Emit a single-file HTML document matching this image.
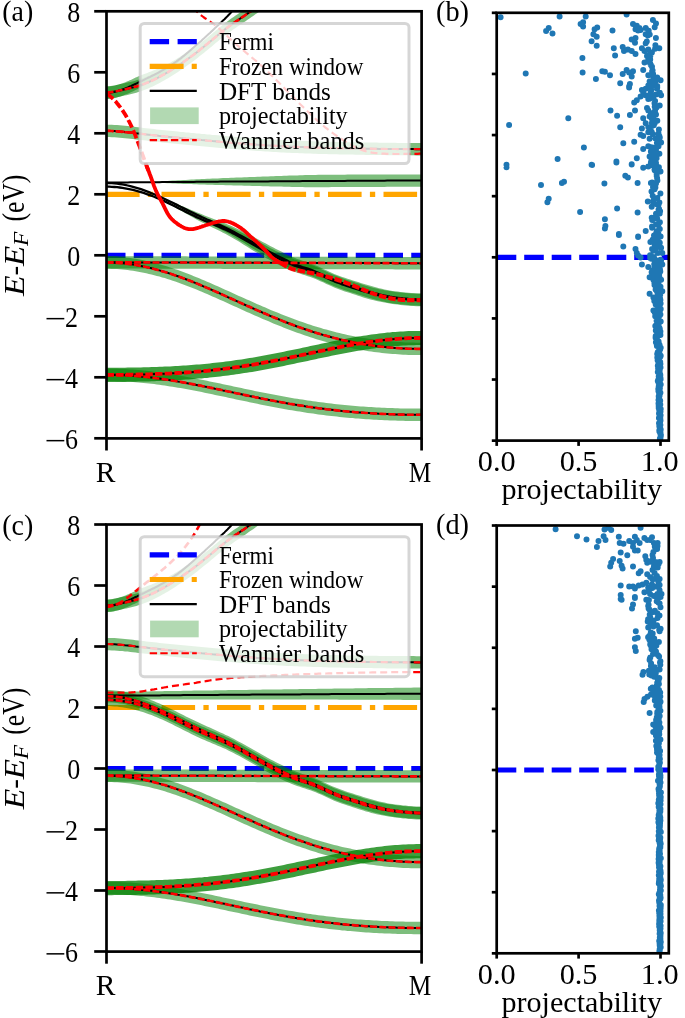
<!DOCTYPE html><html><head><meta charset="utf-8"><style>html,body{margin:0;padding:0;background:#fff;}svg{display:block;will-change:transform}.tk{font-family:"Liberation Serif",serif;font-size:28px;fill:#000}.ty{font-family:"Liberation Serif",serif;font-size:29.6px;fill:#000}.tl{font-family:"Liberation Serif",serif;font-size:29.5px;fill:#000}.lg{font-family:"Liberation Serif",serif;font-size:24.5px;fill:#000}.yl{font-family:"Liberation Serif",serif;font-size:29.5px;fill:#000}</style></head><body>
<svg width="685" height="1018" viewBox="0 0 685 1018">
<defs>
<clipPath id="clipA"><rect x="106.5" y="11.3" width="315.1" height="427.1"/></clipPath>
<clipPath id="clipC"><rect x="106.5" y="524.50" width="315.1" height="427.1"/></clipPath>
<clipPath id="clipB"><rect x="496.7" y="12.8" width="172.1" height="427.8"/></clipPath>
<clipPath id="clipD"><rect x="496.7" y="525.50" width="172.1" height="427.8"/></clipPath>
</defs>
<rect width="685" height="1018" fill="#fff"/>
<g clip-path="url(#clipA)"><line x1="106.00" y1="255.30" x2="421.60" y2="255.30" stroke="#0000ff" stroke-width="5.2" stroke-dasharray="19.5 8.25"/><line x1="106.00" y1="194.30" x2="421.60" y2="194.30" stroke="#ffa500" stroke-width="5.2" stroke-dasharray="33.6 8.3 5.3 8.3"/><polygon points="106.5,256.1 109.1,256.1 111.8,256.1 114.4,256.1 117.1,256.1 119.7,256.2 122.4,256.2 125.0,256.2 127.7,256.2 130.3,256.2 133.0,256.2 135.6,256.2 138.3,256.2 140.9,256.2 143.6,256.2 146.2,256.2 148.9,256.2 151.5,256.2 154.2,256.3 156.8,256.3 159.5,256.3 162.1,256.3 164.8,256.3 167.4,256.3 170.0,256.3 172.7,256.3 175.3,256.3 178.0,256.3 180.6,256.3 183.3,256.3 185.9,256.3 188.6,256.4 191.2,256.4 193.9,256.4 196.5,256.4 199.2,256.4 201.8,256.4 204.5,256.4 207.1,256.4 209.8,256.4 212.4,256.4 215.1,256.4 217.7,256.4 220.4,256.4 223.0,256.5 225.7,256.5 228.3,256.5 231.0,256.5 233.6,256.5 236.2,256.5 238.9,256.5 241.5,256.5 244.2,256.5 246.8,256.5 249.5,256.5 252.1,256.5 254.8,256.5 257.4,256.6 260.1,256.6 262.7,256.6 265.4,256.6 268.0,256.6 270.7,256.6 273.3,256.6 276.0,256.6 278.6,256.6 281.3,256.6 283.9,256.6 286.6,256.6 289.2,256.6 291.9,256.7 294.5,256.7 297.1,256.7 299.8,256.7 302.4,256.7 305.1,256.7 307.7,256.7 310.4,256.7 313.0,256.7 315.7,256.7 318.3,256.7 321.0,256.7 323.6,256.7 326.3,256.8 328.9,256.8 331.6,256.8 334.2,256.8 336.9,256.8 339.5,256.8 342.2,256.8 344.8,256.8 347.5,256.8 350.1,256.8 352.8,256.8 355.4,256.8 358.1,256.8 360.7,256.9 363.3,256.9 366.0,256.9 368.6,256.9 371.3,256.9 373.9,256.9 376.6,256.9 379.2,256.9 381.9,256.9 384.5,256.9 387.2,256.9 389.8,256.9 392.5,256.9 395.1,257.0 397.8,257.0 400.4,257.0 403.1,257.0 405.7,257.0 408.4,257.0 411.0,257.0 413.7,257.0 416.3,257.0 419.0,257.0 421.6,257.0 421.6,269.4 419.0,269.4 416.3,269.4 413.7,269.4 411.0,269.4 408.4,269.4 405.7,269.4 403.1,269.4 400.4,269.4 397.8,269.4 395.1,269.4 392.5,269.3 389.8,269.3 387.2,269.3 384.5,269.3 381.9,269.3 379.2,269.3 376.6,269.3 373.9,269.3 371.3,269.3 368.6,269.3 366.0,269.3 363.3,269.3 360.7,269.3 358.1,269.2 355.4,269.2 352.8,269.2 350.1,269.2 347.5,269.2 344.8,269.2 342.2,269.2 339.5,269.2 336.9,269.2 334.2,269.2 331.6,269.2 328.9,269.2 326.3,269.2 323.6,269.1 321.0,269.1 318.3,269.1 315.7,269.1 313.0,269.1 310.4,269.1 307.7,269.1 305.1,269.1 302.4,269.1 299.8,269.1 297.1,269.1 294.5,269.1 291.9,269.1 289.2,269.0 286.6,269.0 283.9,269.0 281.3,269.0 278.6,269.0 276.0,269.0 273.3,269.0 270.7,269.0 268.0,269.0 265.4,269.0 262.7,269.0 260.1,269.0 257.4,269.0 254.8,268.9 252.1,268.9 249.5,268.9 246.8,268.9 244.2,268.9 241.5,268.9 238.9,268.9 236.2,268.9 233.6,268.9 231.0,268.9 228.3,268.9 225.7,268.9 223.0,268.9 220.4,268.8 217.7,268.8 215.1,268.8 212.4,268.8 209.8,268.8 207.1,268.8 204.5,268.8 201.8,268.8 199.2,268.8 196.5,268.8 193.9,268.8 191.2,268.8 188.6,268.8 185.9,268.7 183.3,268.7 180.6,268.7 178.0,268.7 175.3,268.7 172.7,268.7 170.0,268.7 167.4,268.7 164.8,268.7 162.1,268.7 159.5,268.7 156.8,268.7 154.2,268.7 151.5,268.6 148.9,268.6 146.2,268.6 143.6,268.6 140.9,268.6 138.3,268.6 135.6,268.6 133.0,268.6 130.3,268.6 127.7,268.6 125.0,268.6 122.4,268.6 119.7,268.6 117.1,268.5 114.4,268.5 111.8,268.5 109.1,268.5 106.5,268.5" fill="#008000" fill-opacity="0.510"/><polygon points="106.5,256.4 109.1,256.4 111.8,256.5 114.4,256.6 117.1,256.7 119.7,256.9 122.4,257.1 125.0,257.4 127.7,257.7 130.3,258.0 133.0,258.4 135.6,258.8 138.3,259.3 140.9,259.8 143.6,260.3 146.2,260.9 148.9,261.5 151.5,262.1 154.2,262.8 156.8,263.5 159.5,264.2 162.1,265.0 164.8,265.7 167.4,266.6 170.0,267.4 172.7,268.3 175.3,269.2 178.0,270.1 180.6,271.1 183.3,272.1 185.9,273.0 188.6,274.1 191.2,275.1 193.9,276.2 196.5,277.2 199.2,278.3 201.8,279.4 204.5,280.6 207.1,281.7 209.8,282.8 212.4,284.0 215.1,285.2 217.7,286.3 220.4,287.5 223.0,288.7 225.7,289.9 228.3,291.1 231.0,292.3 233.6,293.5 236.2,294.7 238.9,295.9 241.5,297.1 244.2,298.3 246.8,299.5 249.5,300.6 252.1,301.8 254.8,303.0 257.4,304.2 260.1,305.3 262.7,306.5 265.4,307.6 268.0,308.7 270.7,309.9 273.3,311.0 276.0,312.1 278.6,313.1 281.3,314.2 283.9,315.3 286.6,316.3 289.2,317.3 291.9,318.3 294.5,319.3 297.1,320.3 299.8,321.2 302.4,322.1 305.1,323.0 307.7,323.9 310.4,324.8 313.0,325.7 315.7,326.5 318.3,327.3 321.0,328.1 323.6,328.9 326.3,329.6 328.9,330.3 331.6,331.1 334.2,331.7 336.9,332.4 339.5,333.1 342.2,333.7 344.8,334.3 347.5,334.9 350.1,335.4 352.8,336.0 355.4,336.5 358.1,337.0 360.7,337.5 363.3,337.9 366.0,338.3 368.6,338.8 371.3,339.1 373.9,339.5 376.6,339.9 379.2,340.2 381.9,340.5 384.5,340.8 387.2,341.1 389.8,341.3 392.5,341.5 395.1,341.7 397.8,341.9 400.4,342.1 403.1,342.3 405.7,342.4 408.4,342.5 411.0,342.6 413.7,342.6 416.3,342.7 419.0,342.7 421.6,342.7 421.6,355.1 419.0,355.1 416.3,355.1 413.7,355.0 411.0,355.0 408.4,354.9 405.7,354.8 403.1,354.7 400.4,354.5 397.8,354.3 395.1,354.1 392.5,353.9 389.8,353.7 387.2,353.5 384.5,353.2 381.9,352.9 379.2,352.6 376.6,352.3 373.9,351.9 371.3,351.5 368.6,351.2 366.0,350.7 363.3,350.3 360.7,349.9 358.1,349.4 355.4,348.9 352.8,348.4 350.1,347.8 347.5,347.3 344.8,346.7 342.2,346.1 339.5,345.5 336.9,344.8 334.2,344.1 331.6,343.5 328.9,342.7 326.3,342.0 323.6,341.3 321.0,340.5 318.3,339.7 315.7,338.9 313.0,338.1 310.4,337.2 307.7,336.3 305.1,335.4 302.4,334.5 299.8,333.6 297.1,332.7 294.5,331.7 291.9,330.7 289.2,329.7 286.6,328.7 283.9,327.7 281.3,326.6 278.6,325.5 276.0,324.5 273.3,323.4 270.7,322.3 268.0,321.1 265.4,320.0 262.7,318.9 260.1,317.7 257.4,316.6 254.8,315.4 252.1,314.2 249.5,313.0 246.8,311.9 244.2,310.7 241.5,309.5 238.9,308.3 236.2,307.1 233.6,305.9 231.0,304.7 228.3,303.5 225.7,302.3 223.0,301.1 220.4,299.9 217.7,298.7 215.1,297.6 212.4,296.4 209.8,295.2 207.1,294.1 204.5,293.0 201.8,291.8 199.2,290.7 196.5,289.6 193.9,288.6 191.2,287.5 188.6,286.5 185.9,285.4 183.3,284.5 180.6,283.5 178.0,282.5 175.3,281.6 172.7,280.7 170.0,279.8 167.4,279.0 164.8,278.1 162.1,277.4 159.5,276.6 156.8,275.9 154.2,275.2 151.5,274.5 148.9,273.9 146.2,273.3 143.6,272.7 140.9,272.2 138.3,271.7 135.6,271.2 133.0,270.8 130.3,270.4 127.7,270.1 125.0,269.8 122.4,269.5 119.7,269.3 117.1,269.1 114.4,269.0 111.8,268.9 109.1,268.8 106.5,268.8" fill="#008000" fill-opacity="0.510"/><polygon points="106.5,368.7 109.1,368.7 111.8,368.7 114.4,368.7 117.1,368.8 119.7,368.9 122.4,369.0 125.0,369.1 127.7,369.3 130.3,369.4 133.0,369.6 135.6,369.8 138.3,370.1 140.9,370.3 143.6,370.5 146.2,370.8 148.9,371.1 151.5,371.4 154.2,371.7 156.8,372.1 159.5,372.4 162.1,372.8 164.8,373.2 167.4,373.6 170.0,374.0 172.7,374.4 175.3,374.8 178.0,375.3 180.6,375.7 183.3,376.2 185.9,376.7 188.6,377.2 191.2,377.7 193.9,378.2 196.5,378.7 199.2,379.2 201.8,379.7 204.5,380.3 207.1,380.8 209.8,381.4 212.4,381.9 215.1,382.5 217.7,383.0 220.4,383.6 223.0,384.2 225.7,384.7 228.3,385.3 231.0,385.8 233.6,386.4 236.2,387.0 238.9,387.5 241.5,388.1 244.2,388.7 246.8,389.2 249.5,389.8 252.1,390.3 254.8,390.9 257.4,391.4 260.1,392.0 262.7,392.5 265.4,393.0 268.0,393.5 270.7,394.1 273.3,394.6 276.0,395.1 278.6,395.6 281.3,396.0 283.9,396.5 286.6,397.0 289.2,397.5 291.9,397.9 294.5,398.4 297.1,398.8 299.8,399.2 302.4,399.6 305.1,400.1 307.7,400.5 310.4,400.8 313.0,401.2 315.7,401.6 318.3,402.0 321.0,402.3 323.6,402.6 326.3,403.0 328.9,403.3 331.6,403.6 334.2,403.9 336.9,404.2 339.5,404.5 342.2,404.8 344.8,405.0 347.5,405.3 350.1,405.5 352.8,405.7 355.4,406.0 358.1,406.2 360.7,406.4 363.3,406.6 366.0,406.8 368.6,406.9 371.3,407.1 373.9,407.3 376.6,407.4 379.2,407.6 381.9,407.7 384.5,407.8 387.2,407.9 389.8,408.0 392.5,408.1 395.1,408.2 397.8,408.3 400.4,408.4 403.1,408.4 405.7,408.5 408.4,408.5 411.0,408.5 413.7,408.6 416.3,408.6 419.0,408.6 421.6,408.6 421.6,421.0 419.0,421.0 416.3,421.0 413.7,421.0 411.0,420.9 408.4,420.9 405.7,420.9 403.1,420.8 400.4,420.8 397.8,420.7 395.1,420.6 392.5,420.5 389.8,420.4 387.2,420.3 384.5,420.2 381.9,420.1 379.2,420.0 376.6,419.8 373.9,419.7 371.3,419.5 368.6,419.3 366.0,419.2 363.3,419.0 360.7,418.8 358.1,418.6 355.4,418.4 352.8,418.1 350.1,417.9 347.5,417.7 344.8,417.4 342.2,417.2 339.5,416.9 336.9,416.6 334.2,416.3 331.6,416.0 328.9,415.7 326.3,415.4 323.6,415.0 321.0,414.7 318.3,414.4 315.7,414.0 313.0,413.6 310.4,413.2 307.7,412.9 305.1,412.5 302.4,412.0 299.8,411.6 297.1,411.2 294.5,410.8 291.9,410.3 289.2,409.9 286.6,409.4 283.9,408.9 281.3,408.4 278.6,408.0 276.0,407.5 273.3,407.0 270.7,406.5 268.0,405.9 265.4,405.4 262.7,404.9 260.1,404.4 257.4,403.8 254.8,403.3 252.1,402.7 249.5,402.2 246.8,401.6 244.2,401.1 241.5,400.5 238.9,399.9 236.2,399.4 233.6,398.8 231.0,398.2 228.3,397.7 225.7,397.1 223.0,396.6 220.4,396.0 217.7,395.4 215.1,394.9 212.4,394.3 209.8,393.8 207.1,393.2 204.5,392.7 201.8,392.1 199.2,391.6 196.5,391.1 193.9,390.6 191.2,390.1 188.6,389.6 185.9,389.1 183.3,388.6 180.6,388.1 178.0,387.7 175.3,387.2 172.7,386.8 170.0,386.4 167.4,386.0 164.8,385.6 162.1,385.2 159.5,384.8 156.8,384.5 154.2,384.1 151.5,383.8 148.9,383.5 146.2,383.2 143.6,382.9 140.9,382.7 138.3,382.5 135.6,382.2 133.0,382.0 130.3,381.8 127.7,381.7 125.0,381.5 122.4,381.4 119.7,381.3 117.1,381.2 114.4,381.1 111.8,381.1 109.1,381.1 106.5,381.1" fill="#008000" fill-opacity="0.510"/><polygon points="106.5,367.8 109.1,367.8 111.8,367.8 114.4,367.7 117.1,367.7 119.7,367.7 122.4,367.7 125.0,367.7 127.7,367.6 130.3,367.6 133.0,367.5 135.6,367.5 138.3,367.4 140.9,367.4 143.6,367.3 146.2,367.3 148.9,367.2 151.5,367.1 154.2,367.0 156.8,366.9 159.5,366.8 162.1,366.7 164.8,366.6 167.4,366.5 170.0,366.4 172.7,366.2 175.3,366.1 178.0,365.9 180.6,365.8 183.3,365.6 185.9,365.4 188.6,365.3 191.2,365.1 193.9,364.8 196.5,364.6 199.2,364.4 201.8,364.2 204.5,363.9 207.1,363.7 209.8,363.4 212.4,363.1 215.1,362.8 217.7,362.5 220.4,362.2 223.0,361.9 225.7,361.6 228.3,361.2 231.0,360.9 233.6,360.5 236.2,360.1 238.9,359.8 241.5,359.4 244.2,358.9 246.8,358.5 249.5,358.1 252.1,357.7 254.8,357.2 257.4,356.7 260.1,356.3 262.7,355.8 265.4,355.3 268.0,354.8 270.7,354.3 273.3,353.8 276.0,353.3 278.6,352.8 281.3,352.2 283.9,351.7 286.6,351.1 289.2,350.6 291.9,350.0 294.5,349.5 297.1,348.9 299.8,348.4 302.4,347.8 305.1,347.2 307.7,346.7 310.4,346.1 313.0,345.5 315.7,345.0 318.3,344.4 321.0,343.8 323.6,343.3 326.3,342.7 328.9,342.2 331.6,341.6 334.2,341.1 336.9,340.6 339.5,340.0 342.2,339.5 344.8,339.0 347.5,338.5 350.1,338.0 352.8,337.5 355.4,337.1 358.1,336.6 360.7,336.2 363.3,335.8 366.0,335.4 368.6,335.0 371.3,334.6 373.9,334.2 376.6,333.9 379.2,333.5 381.9,333.2 384.5,332.9 387.2,332.6 389.8,332.4 392.5,332.1 395.1,331.9 397.8,331.7 400.4,331.5 403.1,331.4 405.7,331.2 408.4,331.1 411.0,331.0 413.7,331.0 416.3,330.9 419.0,330.9 421.6,330.9 421.6,345.1 419.0,345.1 416.3,345.1 413.7,345.2 411.0,345.2 408.4,345.3 405.7,345.4 403.1,345.6 400.4,345.7 397.8,345.9 395.1,346.1 392.5,346.3 389.8,346.6 387.2,346.8 384.5,347.1 381.9,347.4 379.2,347.7 376.6,348.1 373.9,348.4 371.3,348.8 368.6,349.2 366.0,349.6 363.3,350.0 360.7,350.4 358.1,350.8 355.4,351.3 352.8,351.7 350.1,352.2 347.5,352.7 344.8,353.2 342.2,353.7 339.5,354.2 336.9,354.8 334.2,355.3 331.6,355.8 328.9,356.4 326.3,356.9 323.6,357.5 321.0,358.0 318.3,358.6 315.7,359.2 313.0,359.7 310.4,360.3 307.7,360.9 305.1,361.4 302.4,362.0 299.8,362.6 297.1,363.1 294.5,363.7 291.9,364.2 289.2,364.8 286.6,365.3 283.9,365.9 281.3,366.4 278.6,367.0 276.0,367.5 273.3,368.0 270.7,368.5 268.0,369.0 265.4,369.5 262.7,370.0 260.1,370.5 257.4,370.9 254.8,371.4 252.1,371.9 249.5,372.3 246.8,372.7 244.2,373.1 241.5,373.6 238.9,374.0 236.2,374.3 233.6,374.7 231.0,375.1 228.3,375.4 225.7,375.8 223.0,376.1 220.4,376.4 217.7,376.7 215.1,377.0 212.4,377.3 209.8,377.6 207.1,377.9 204.5,378.1 201.8,378.4 199.2,378.6 196.5,378.8 193.9,379.0 191.2,379.3 188.6,379.5 185.9,379.6 183.3,379.8 180.6,380.0 178.0,380.1 175.3,380.3 172.7,380.4 170.0,380.6 167.4,380.7 164.8,380.8 162.1,380.9 159.5,381.0 156.8,381.1 154.2,381.2 151.5,381.3 148.9,381.4 146.2,381.5 143.6,381.5 140.9,381.6 138.3,381.6 135.6,381.7 133.0,381.7 130.3,381.8 127.7,381.8 125.0,381.9 122.4,381.9 119.7,381.9 117.1,381.9 114.4,381.9 111.8,382.0 109.1,382.0 106.5,382.0" fill="#008000" fill-opacity="0.760"/><polygon points="106.5,183.0 109.1,183.1 111.8,183.2 114.4,183.4 117.1,183.7 119.7,184.0 122.4,184.4 125.0,184.9 127.7,185.5 130.3,186.1 133.0,186.8 135.6,187.6 138.3,188.4 140.9,189.2 143.6,190.2 146.2,191.1 148.9,192.1 151.5,193.2 154.2,194.3 156.8,195.4 159.5,196.6 162.1,197.6 164.8,198.7 167.4,199.8 170.0,200.9 172.7,202.0 175.3,203.1 178.0,204.3 180.6,205.4 183.3,206.6 185.9,207.7 188.6,208.8 191.2,210.0 193.9,211.1 196.5,212.2 199.2,213.3 201.8,214.3 204.5,215.4 207.1,216.4 209.8,217.4 212.4,218.4 215.1,219.4 217.7,220.4 220.4,221.4 223.0,222.5 225.7,223.5 228.3,224.7 231.0,225.8 233.6,227.0 236.2,228.3 238.9,229.5 241.5,230.8 244.2,232.1 246.8,233.4 249.5,234.8 252.1,236.1 254.8,237.4 257.4,238.9 260.1,240.4 262.7,241.9 265.4,243.3 268.0,244.8 270.7,246.2 273.3,247.6 276.0,249.0 278.6,250.3 281.3,251.6 283.9,252.9 286.6,254.2 289.2,255.5 291.9,256.7 294.5,257.8 297.1,258.9 299.8,259.8 302.4,260.8 305.1,261.6 307.7,262.5 310.4,263.4 313.0,264.4 315.7,265.5 318.3,266.6 321.0,267.8 323.6,269.0 326.3,270.3 328.9,271.5 331.6,272.7 334.2,273.9 336.9,274.9 339.5,275.9 342.2,276.9 344.8,277.8 347.5,278.7 350.1,279.5 352.8,280.4 355.4,281.2 358.1,282.0 360.7,282.9 363.3,283.7 366.0,284.5 368.6,285.3 371.3,286.0 373.9,286.8 376.6,287.5 379.2,288.2 381.9,288.8 384.5,289.4 387.2,290.0 389.8,290.5 392.5,290.9 395.1,291.3 397.8,291.6 400.4,291.9 403.1,292.2 405.7,292.4 408.4,292.7 411.0,292.9 413.7,293.0 416.3,293.2 419.0,293.3 421.6,293.3 421.6,305.7 419.0,305.7 416.3,305.6 413.7,305.4 411.0,305.3 408.4,305.1 405.7,304.8 403.1,304.6 400.4,304.3 397.8,304.0 395.1,303.7 392.5,303.3 389.8,302.9 387.2,302.4 384.5,301.8 381.9,301.2 379.2,300.6 376.6,299.9 373.9,299.2 371.3,298.4 368.6,297.7 366.0,296.9 363.3,296.1 360.7,295.3 358.1,294.4 355.4,293.6 352.8,292.8 350.1,291.9 347.5,291.1 344.8,290.2 342.2,289.3 339.5,288.3 336.9,287.3 334.2,286.3 331.6,285.1 328.9,283.9 326.3,282.7 323.6,281.4 321.0,280.2 318.3,279.0 315.7,277.9 313.0,276.8 310.4,275.8 307.7,274.9 305.1,274.0 302.4,273.2 299.8,272.2 297.1,271.3 294.5,270.2 291.9,269.1 289.2,267.9 286.6,266.6 283.9,265.3 281.3,264.0 278.6,262.7 276.0,261.4 273.3,260.0 270.7,258.6 268.0,257.2 265.4,255.7 262.7,254.3 260.1,252.8 257.4,251.3 254.8,249.8 252.1,248.2 249.5,246.5 246.8,244.8 244.2,243.1 241.5,241.5 238.9,239.9 236.2,238.2 233.6,236.7 231.0,235.1 228.3,233.6 225.7,232.2 223.0,230.7 220.4,229.3 217.7,228.0 215.1,226.6 212.4,225.2 209.8,223.9 207.1,222.5 204.5,221.2 201.8,219.8 199.2,218.4 196.5,217.0 193.9,215.5 191.2,214.1 188.6,212.6 185.9,211.1 183.3,209.6 180.6,208.1 178.0,206.6 175.3,205.1 172.7,203.6 170.0,202.2 167.4,200.7 164.8,199.3 162.1,197.9 159.5,196.6 156.8,195.4 154.2,194.3 151.5,193.2 148.9,192.1 146.2,191.1 143.6,190.2 140.9,189.2 138.3,188.4 135.6,187.6 133.0,186.8 130.3,186.1 127.7,185.5 125.0,184.9 122.4,184.4 119.7,184.0 117.1,183.7 114.4,183.4 111.8,183.2 109.1,183.1 106.5,183.0" fill="#008000" fill-opacity="0.510"/><polygon points="106.5,186.7 109.1,186.7 111.8,186.8 114.4,187.0 117.1,187.2 119.7,187.5 122.4,187.9 125.0,188.3 127.7,188.8 130.3,189.3 133.0,189.9 135.6,190.6 138.3,191.3 140.9,192.1 143.6,192.9 146.2,193.8 148.9,194.8 151.5,195.7 154.2,196.8 156.8,197.9 159.5,199.0 162.1,200.0 164.8,201.1 167.4,202.1 170.0,203.3 172.7,204.4 175.3,205.5 178.0,206.7 180.6,207.8 183.3,209.0 185.9,210.2 188.6,211.3 191.2,212.5 193.9,213.6 196.5,214.7 199.2,215.7 201.8,216.7 204.5,217.7 207.1,218.7 209.8,219.6 212.4,220.6 215.1,221.5 217.7,222.5 220.4,223.4 223.0,224.4 225.7,225.4 228.3,226.5 231.0,227.6 233.6,228.8 236.2,230.0 238.9,231.2 241.5,232.5 244.2,233.8 246.8,235.2 249.5,236.5 252.1,237.9 254.8,239.2 257.4,240.7 260.1,242.3 262.7,243.8 265.4,245.3 268.0,246.7 270.7,248.2 273.3,249.6 276.0,251.0 278.6,252.3 281.3,253.6 283.9,254.9 286.6,256.1 289.2,257.2 291.9,258.3 294.5,259.4 297.1,260.3 299.8,261.2 302.4,262.1 305.1,262.9 307.7,263.8 310.4,264.7 313.0,265.6 315.7,266.7 318.3,267.8 321.0,269.0 323.6,270.2 326.3,271.5 328.9,272.7 331.6,273.9 334.2,275.1 336.9,276.1 339.5,277.1 342.2,278.1 344.8,279.0 347.5,279.9 350.1,280.7 352.8,281.6 355.4,282.4 358.1,283.3 360.7,284.1 363.3,285.0 366.0,285.8 368.6,286.5 371.3,287.3 373.9,287.9 376.6,288.6 379.2,289.2 381.9,289.7 384.5,290.2 387.2,290.7 389.8,291.1 392.5,291.5 395.1,291.9 397.8,292.2 400.4,292.5 403.1,292.8 405.7,293.0 408.4,293.3 411.0,293.5 413.7,293.7 416.3,293.8 419.0,293.9 421.6,293.9 421.6,306.3 419.0,306.3 416.3,306.2 413.7,306.1 411.0,305.9 408.4,305.7 405.7,305.4 403.1,305.2 400.4,304.9 397.8,304.6 395.1,304.3 392.5,303.9 389.8,303.5 387.2,303.1 384.5,302.6 381.9,302.1 379.2,301.6 376.6,301.0 373.9,300.3 371.3,299.7 368.6,298.9 366.0,298.2 363.3,297.4 360.7,296.5 358.1,295.7 355.4,294.8 352.8,294.0 350.1,293.1 347.5,292.3 344.8,291.4 342.2,290.5 339.5,289.5 336.9,288.5 334.2,287.5 331.6,286.3 328.9,285.1 326.3,283.9 323.6,282.6 321.0,281.4 318.3,280.2 315.7,279.1 313.0,278.0 310.4,277.1 307.7,276.2 305.1,275.3 302.4,274.5 299.8,273.6 297.1,272.7 294.5,271.8 291.9,270.7 289.2,269.6 286.6,268.5 283.9,267.3 281.3,266.0 278.6,264.7 276.0,263.4 273.3,262.0 270.7,260.6 268.0,259.1 265.4,257.7 262.7,256.2 260.1,254.7 257.4,253.1 254.8,251.6 252.1,249.9 249.5,248.2 246.8,246.5 244.2,244.9 241.5,243.2 238.9,241.6 236.2,240.0 233.6,238.4 231.0,236.9 228.3,235.5 225.7,234.1 223.0,232.7 220.4,231.3 217.7,230.0 215.1,228.7 212.4,227.4 209.8,226.2 207.1,224.9 204.5,223.6 201.8,222.2 199.2,220.9 196.5,219.4 193.9,218.0 191.2,216.5 188.6,215.1 185.9,213.6 183.3,212.1 180.6,210.5 178.0,209.0 175.3,207.5 172.7,206.0 170.0,204.6 167.4,203.1 164.8,201.7 162.1,200.3 159.5,199.0 156.8,197.9 154.2,196.8 151.5,195.7 148.9,194.8 146.2,193.8 143.6,192.9 140.9,192.1 138.3,191.3 135.6,190.6 133.0,189.9 130.3,189.3 127.7,188.8 125.0,188.3 122.4,187.9 119.7,187.5 117.1,187.2 114.4,187.0 111.8,186.8 109.1,186.7 106.5,186.7" fill="#008000" fill-opacity="0.510"/><polygon points="106.5,182.4 109.1,182.4 111.8,182.4 114.4,182.4 117.1,182.4 119.7,182.4 122.4,182.4 125.0,182.4 127.7,182.4 130.3,182.3 133.0,182.3 135.6,182.3 138.3,182.3 140.9,182.3 143.6,182.3 146.2,182.3 148.9,182.2 151.5,182.2 154.2,182.1 156.8,181.8 159.5,181.5 162.1,181.3 164.8,181.1 167.4,181.0 170.0,180.8 172.7,180.6 175.3,180.5 178.0,180.3 180.6,180.2 183.3,180.0 185.9,179.9 188.6,179.7 191.2,179.6 193.9,179.5 196.5,179.3 199.2,179.2 201.8,179.1 204.5,179.0 207.1,178.8 209.8,178.7 212.4,178.6 215.1,178.5 217.7,178.4 220.4,178.3 223.0,178.1 225.7,178.0 228.3,177.9 231.0,177.8 233.6,177.7 236.2,177.6 238.9,177.5 241.5,177.4 244.2,177.3 246.8,177.2 249.5,177.1 252.1,177.0 254.8,176.9 257.4,176.8 260.1,176.7 262.7,176.6 265.4,176.5 268.0,176.4 270.7,176.3 273.3,176.2 276.0,176.1 278.6,176.0 281.3,175.9 283.9,175.8 286.6,175.7 289.2,175.6 291.9,175.6 294.5,175.5 297.1,175.4 299.8,175.3 302.4,175.2 305.1,175.1 307.7,175.0 310.4,174.9 313.0,174.9 315.7,174.9 318.3,174.8 321.0,174.8 323.6,174.8 326.3,174.8 328.9,174.8 331.6,174.7 334.2,174.7 336.9,174.7 339.5,174.7 342.2,174.7 344.8,174.7 347.5,174.6 350.1,174.6 352.8,174.6 355.4,174.6 358.1,174.6 360.7,174.6 363.3,174.6 366.0,174.5 368.6,174.5 371.3,174.5 373.9,174.5 376.6,174.5 379.2,174.5 381.9,174.5 384.5,174.5 387.2,174.4 389.8,174.4 392.5,174.4 395.1,174.4 397.8,174.4 400.4,174.4 403.1,174.4 405.7,174.4 408.4,174.4 411.0,174.4 413.7,174.4 416.3,174.4 419.0,174.4 421.6,174.4 421.6,186.8 419.0,186.8 416.3,186.8 413.7,186.8 411.0,186.8 408.4,186.8 405.7,186.8 403.1,186.8 400.4,186.8 397.8,186.8 395.1,186.8 392.5,186.8 389.8,186.8 387.2,186.8 384.5,186.9 381.9,186.9 379.2,186.9 376.6,186.9 373.9,186.9 371.3,186.9 368.6,186.9 366.0,186.9 363.3,187.0 360.7,187.0 358.1,187.0 355.4,187.0 352.8,187.0 350.1,187.0 347.5,187.0 344.8,187.1 342.2,187.1 339.5,187.1 336.9,187.1 334.2,187.1 331.6,187.1 328.9,187.2 326.3,187.2 323.6,187.2 321.0,187.2 318.3,187.2 315.7,187.3 313.0,187.3 310.4,187.3 307.7,187.2 305.1,187.2 302.4,187.1 299.8,187.0 297.1,187.0 294.5,186.9 291.9,186.9 289.2,186.8 286.6,186.7 283.9,186.7 281.3,186.6 278.6,186.6 276.0,186.5 273.3,186.4 270.7,186.4 268.0,186.3 265.4,186.2 262.7,186.2 260.1,186.1 257.4,186.0 254.8,186.0 252.1,185.9 249.5,185.8 246.8,185.8 244.2,185.7 241.5,185.6 238.9,185.6 236.2,185.5 233.6,185.4 231.0,185.3 228.3,185.3 225.7,185.2 223.0,185.1 220.4,185.0 217.7,185.0 215.1,184.9 212.4,184.8 209.8,184.7 207.1,184.7 204.5,184.6 201.8,184.5 199.2,184.4 196.5,184.3 193.9,184.2 191.2,184.1 188.6,184.1 185.9,184.0 183.3,183.9 180.6,183.8 178.0,183.7 175.3,183.6 172.7,183.4 170.0,183.3 167.4,183.2 164.8,183.1 162.1,182.9 159.5,182.8 156.8,182.6 154.2,182.3 151.5,182.2 148.9,182.2 146.2,182.3 143.6,182.3 140.9,182.3 138.3,182.3 135.6,182.3 133.0,182.3 130.3,182.3 127.7,182.4 125.0,182.4 122.4,182.4 119.7,182.4 117.1,182.4 114.4,182.4 111.8,182.4 109.1,182.4 106.5,182.4" fill="#008000" fill-opacity="0.510"/><polygon points="106.5,124.7 109.1,124.7 111.8,124.8 114.4,124.9 117.1,125.1 119.7,125.3 122.4,125.5 125.0,125.8 127.7,126.0 130.3,126.3 133.0,126.6 135.6,127.0 138.3,127.3 140.9,127.6 143.6,127.9 146.2,128.2 148.9,128.5 151.5,128.8 154.2,129.1 156.8,129.4 159.5,129.7 162.1,130.0 164.8,130.3 167.4,130.5 170.0,130.8 172.7,131.1 175.3,131.3 178.0,131.6 180.6,131.9 183.3,132.1 185.9,132.4 188.6,132.6 191.2,132.9 193.9,133.1 196.5,133.4 199.2,133.6 201.8,133.9 204.5,134.1 207.1,134.4 209.8,134.6 212.4,134.9 215.1,135.1 217.7,135.3 220.4,135.6 223.0,135.8 225.7,136.0 228.3,136.2 231.0,136.5 233.6,136.7 236.2,136.9 238.9,137.1 241.5,137.3 244.2,137.5 246.8,137.7 249.5,137.9 252.1,138.1 254.8,138.3 257.4,138.5 260.1,138.7 262.7,138.9 265.4,139.1 268.0,139.2 270.7,139.4 273.3,139.5 276.0,139.7 278.6,139.8 281.3,140.0 283.9,140.1 286.6,140.3 289.2,140.4 291.9,140.5 294.5,140.6 297.1,140.7 299.8,140.8 302.4,140.9 305.1,141.0 307.7,141.1 310.4,141.2 313.0,141.3 315.7,141.4 318.3,141.5 321.0,141.5 323.6,141.6 326.3,141.7 328.9,141.8 331.6,141.8 334.2,141.9 336.9,141.9 339.5,142.0 342.2,142.1 344.8,142.1 347.5,142.2 350.1,142.2 352.8,142.2 355.4,142.3 358.1,142.3 360.7,142.4 363.3,142.4 366.0,142.5 368.6,142.5 371.3,142.5 373.9,142.6 376.6,142.6 379.2,142.7 381.9,142.7 384.5,142.7 387.2,142.8 389.8,142.8 392.5,142.8 395.1,142.8 397.8,142.9 400.4,142.9 403.1,142.9 405.7,142.9 408.4,142.9 411.0,142.9 413.7,142.9 416.3,143.0 419.0,143.0 421.6,143.0 421.6,155.4 419.0,155.4 416.3,155.4 413.7,155.3 411.0,155.3 408.4,155.3 405.7,155.3 403.1,155.3 400.4,155.3 397.8,155.3 395.1,155.2 392.5,155.2 389.8,155.2 387.2,155.2 384.5,155.1 381.9,155.1 379.2,155.1 376.6,155.0 373.9,155.0 371.3,154.9 368.6,154.9 366.0,154.9 363.3,154.8 360.7,154.8 358.1,154.7 355.4,154.7 352.8,154.6 350.1,154.6 347.5,154.6 344.8,154.5 342.2,154.5 339.5,154.4 336.9,154.3 334.2,154.3 331.6,154.2 328.9,154.2 326.3,154.1 323.6,154.0 321.0,153.9 318.3,153.9 315.7,153.8 313.0,153.7 310.4,153.6 307.7,153.5 305.1,153.4 302.4,153.3 299.8,153.2 297.1,153.1 294.5,153.0 291.9,152.9 289.2,152.8 286.6,152.7 283.9,152.5 281.3,152.4 278.6,152.2 276.0,152.1 273.3,151.9 270.7,151.8 268.0,151.6 265.4,151.5 262.7,151.3 260.1,151.1 257.4,150.9 254.8,150.7 252.1,150.5 249.5,150.3 246.8,150.1 244.2,149.9 241.5,149.7 238.9,149.5 236.2,149.3 233.6,149.1 231.0,148.9 228.3,148.6 225.7,148.4 223.0,148.2 220.4,148.0 217.7,147.7 215.1,147.5 212.4,147.3 209.8,147.0 207.1,146.8 204.5,146.5 201.8,146.3 199.2,146.0 196.5,145.8 193.9,145.5 191.2,145.3 188.6,145.0 185.9,144.8 183.3,144.5 180.6,144.3 178.0,144.0 175.3,143.7 172.7,143.5 170.0,143.2 167.4,142.9 164.8,142.7 162.1,142.4 159.5,142.1 156.8,141.8 154.2,141.5 151.5,141.2 148.9,140.9 146.2,140.6 143.6,140.3 140.9,140.0 138.3,139.7 135.6,139.4 133.0,139.0 130.3,138.7 127.7,138.4 125.0,138.2 122.4,137.9 119.7,137.7 117.1,137.5 114.4,137.3 111.8,137.2 109.1,137.1 106.5,137.1" fill="#008000" fill-opacity="0.510"/><polygon points="106.5,86.2 108.5,86.2 110.5,86.0 112.5,85.7 114.4,85.4 116.4,85.0 118.4,84.6 120.4,84.1 122.4,83.7 124.4,83.2 126.4,82.8 128.3,82.3 130.3,81.9 132.3,81.4 134.3,80.9 136.3,80.3 138.3,79.7 140.3,79.1 142.2,78.4 144.2,77.7 146.2,76.9 148.2,76.1 150.2,75.2 152.2,74.3 154.2,73.4 156.1,72.4 158.1,71.4 160.1,70.3 162.1,69.2 164.1,68.1 166.1,66.9 168.1,65.8 170.0,64.6 172.0,63.3 174.0,62.1 176.0,60.8 178.0,59.5 180.0,58.2 182.0,56.8 184.0,55.5 185.9,54.1 187.9,52.7 189.9,51.3 191.9,49.8 193.9,48.3 195.9,46.8 197.9,45.3 199.8,43.7 201.8,42.1 203.8,40.5 205.8,38.9 207.8,37.3 209.8,35.6 211.8,34.0 213.7,32.3 215.7,30.7 217.7,29.0 219.7,27.4 221.7,25.8 223.7,24.2 225.7,22.7 227.6,21.2 229.6,19.7 231.6,18.3 233.6,16.9 235.6,15.5 237.6,14.2 239.6,12.8 241.5,11.5 243.5,10.2 245.5,8.8 247.5,7.4 249.5,6.0 251.5,4.7 253.5,3.3 255.4,1.9 257.4,0.5 259.4,-0.9 261.4,-2.2 263.4,-3.6 265.4,-5.0 267.4,-6.4 269.3,-7.7 271.3,-9.2 273.3,-10.6 275.3,-12.0 277.3,-13.5 279.3,-15.0 281.3,-16.5 283.2,-18.0 285.2,-19.6 287.2,-21.2 289.2,-22.9 291.2,-24.6 293.2,-26.3 295.2,-28.1 297.1,-29.9 299.1,-31.8 301.1,-33.7 303.1,-35.6 305.1,-37.6 307.1,-39.5 309.1,-41.4 311.1,-43.3 313.0,-45.2 315.0,-47.0 317.0,-48.8 319.0,-50.5 321.0,-52.1 323.0,-53.6 325.0,-55.1 326.9,-56.4 328.9,-57.6 330.9,-58.7 332.9,-59.7 334.9,-60.5 336.9,-61.1 338.9,-61.6 340.8,-61.9 342.8,-62.0 342.8,-49.6 340.8,-49.5 338.9,-49.2 336.9,-48.7 334.9,-48.1 332.9,-47.3 330.9,-46.3 328.9,-45.2 326.9,-44.0 325.0,-42.7 323.0,-41.2 321.0,-39.7 319.0,-38.1 317.0,-36.4 315.0,-34.6 313.0,-32.8 311.1,-30.9 309.1,-29.0 307.1,-27.1 305.1,-25.2 303.1,-23.2 301.1,-21.3 299.1,-19.4 297.1,-17.5 295.2,-15.7 293.2,-13.9 291.2,-12.2 289.2,-10.5 287.2,-8.8 285.2,-7.2 283.2,-5.6 281.3,-4.1 279.3,-2.6 277.3,-1.1 275.3,0.4 273.3,1.8 271.3,3.2 269.3,4.7 267.4,6.0 265.4,7.4 263.4,8.8 261.4,10.2 259.4,11.5 257.4,12.9 255.4,14.3 253.5,15.7 251.5,17.1 249.5,18.4 247.5,19.8 245.5,21.2 243.5,22.6 241.5,23.9 239.6,25.2 237.6,26.6 235.6,27.9 233.6,29.3 231.6,30.7 229.6,32.1 227.6,33.6 225.7,35.1 223.7,36.6 221.7,38.2 219.7,39.8 217.7,41.4 215.7,43.1 213.7,44.7 211.8,46.4 209.8,48.0 207.8,49.7 205.8,51.3 203.8,52.9 201.8,54.5 199.8,56.1 197.9,57.7 195.9,59.2 193.9,60.7 191.9,62.2 189.9,63.7 187.9,65.1 185.9,66.5 184.0,67.9 182.0,69.2 180.0,70.6 178.0,71.9 176.0,73.2 174.0,74.5 172.0,75.7 170.0,77.0 168.1,78.2 166.1,79.3 164.1,80.5 162.1,81.6 160.1,82.7 158.1,83.8 156.1,84.8 154.2,85.8 152.2,86.7 150.2,87.6 148.2,88.5 146.2,89.3 144.2,90.1 142.2,90.8 140.3,91.5 138.3,92.1 136.3,92.7 134.3,93.3 132.3,93.8 130.3,94.3 128.3,94.7 126.4,95.2 124.4,95.6 122.4,96.1 120.4,96.5 118.4,97.0 116.4,97.4 114.4,97.8 112.5,98.1 110.5,98.4 108.5,98.6 106.5,98.6" fill="#008000" fill-opacity="0.510"/><polygon points="106.5,86.5 108.0,86.5 109.4,86.4 110.9,86.3 112.3,86.1 113.8,85.8 115.2,85.5 116.7,85.1 118.2,84.7 119.6,84.3 121.1,83.8 122.5,83.3 124.0,82.8 125.4,82.2 126.9,81.6 128.3,81.0 129.8,80.3 131.3,79.7 132.7,79.0 134.2,78.3 135.6,77.6 137.1,76.9 138.5,76.3 140.0,75.7 141.5,75.1 142.9,74.6 144.4,74.0 145.8,73.5 147.3,72.9 148.7,72.3 150.2,71.8 151.6,71.2 153.1,70.6 154.6,70.0 156.0,69.4 157.5,68.8 158.9,68.1 160.4,67.5 161.8,66.8 163.3,66.1 164.8,65.4 166.2,64.7 167.7,64.0 169.1,63.2 170.6,62.4 172.0,61.6 173.5,60.8 174.9,59.9 176.4,59.0 177.9,58.1 179.3,57.2 180.8,56.2 182.2,55.2 183.7,54.2 185.1,53.2 186.6,52.1 188.1,51.0 189.5,50.0 191.0,48.9 192.4,47.7 193.9,46.6 195.3,45.5 196.8,44.4 198.2,43.2 199.7,42.1 201.2,40.9 202.6,39.6 204.1,38.3 205.5,36.9 207.0,35.6 208.4,34.2 209.9,32.9 211.4,31.5 212.8,30.2 214.3,28.8 215.7,27.4 217.2,26.1 218.6,24.7 220.1,23.3 221.6,21.9 223.0,20.5 224.5,19.2 225.9,17.7 227.4,16.3 228.8,14.8 230.3,13.3 231.7,11.6 233.2,10.0 234.7,8.2 236.1,6.4 237.6,4.6 239.0,2.7 240.5,0.7 241.9,-1.2 243.4,-3.2 244.9,-5.2 246.3,-7.2 247.8,-9.2 249.2,-11.1 250.7,-13.1 252.1,-15.0 253.6,-17.0 255.0,-18.8 256.5,-20.6 258.0,-22.4 259.4,-24.1 260.9,-25.8 262.3,-27.3 263.8,-28.8 265.2,-30.2 266.7,-31.5 268.2,-32.7 269.6,-33.7 271.1,-34.7 272.5,-35.5 274.0,-36.2 275.4,-36.8 276.9,-37.2 278.3,-37.4 279.8,-37.5 279.8,-37.5 278.3,-37.4 276.9,-37.2 275.4,-36.8 274.0,-36.2 272.5,-35.5 271.1,-34.7 269.6,-33.7 268.2,-32.7 266.7,-31.5 265.2,-30.2 263.8,-28.8 262.3,-27.3 260.9,-25.8 259.4,-24.1 258.0,-22.4 256.5,-20.6 255.0,-18.8 253.6,-17.0 252.1,-15.0 250.7,-13.1 249.2,-11.1 247.8,-9.2 246.3,-7.2 244.9,-5.2 243.4,-3.2 241.9,-1.2 240.5,0.7 239.0,2.7 237.6,4.6 236.1,6.4 234.7,8.2 233.2,10.0 231.7,11.6 230.3,13.3 228.8,14.8 227.4,16.3 225.9,17.7 224.5,19.2 223.0,20.5 221.6,21.9 220.1,23.3 218.6,24.7 217.2,26.1 215.7,27.4 214.3,28.8 212.8,30.2 211.4,31.5 209.9,32.9 208.4,34.2 207.0,35.6 205.5,36.9 204.1,38.3 202.6,39.6 201.2,40.9 199.7,42.3 198.2,43.8 196.8,45.2 195.3,46.6 193.9,48.0 192.4,49.4 191.0,50.8 189.5,52.2 188.1,53.6 186.6,54.9 185.1,56.3 183.7,57.6 182.2,58.9 180.8,60.2 179.3,61.4 177.9,62.7 176.4,63.9 174.9,65.1 173.5,66.2 172.0,67.3 170.6,68.4 169.1,69.5 167.7,70.6 166.2,71.6 164.8,72.6 163.3,73.6 161.8,74.5 160.4,75.5 158.9,76.4 157.5,77.3 156.0,78.2 154.6,79.1 153.1,80.0 151.6,80.9 150.2,81.8 148.7,82.6 147.3,83.5 145.8,84.3 144.4,85.2 142.9,86.0 141.5,86.9 140.0,87.7 138.5,88.6 137.1,89.3 135.6,90.0 134.2,90.7 132.7,91.4 131.3,92.1 129.8,92.7 128.3,93.4 126.9,94.0 125.4,94.6 124.0,95.2 122.5,95.7 121.1,96.2 119.6,96.7 118.2,97.1 116.7,97.5 115.2,97.9 113.8,98.2 112.3,98.5 110.9,98.7 109.4,98.8 108.0,98.9 106.5,98.9" fill="#008000" fill-opacity="0.510"/><path d="M106.5,262.3 L109.1,262.3 L111.8,262.3 L114.4,262.3 L117.1,262.3 L119.7,262.4 L122.4,262.4 L125.0,262.4 L127.7,262.4 L130.3,262.4 L133.0,262.4 L135.6,262.4 L138.3,262.4 L140.9,262.4 L143.6,262.4 L146.2,262.4 L148.9,262.4 L151.5,262.4 L154.2,262.5 L156.8,262.5 L159.5,262.5 L162.1,262.5 L164.8,262.5 L167.4,262.5 L170.0,262.5 L172.7,262.5 L175.3,262.5 L178.0,262.5 L180.6,262.5 L183.3,262.5 L185.9,262.5 L188.6,262.6 L191.2,262.6 L193.9,262.6 L196.5,262.6 L199.2,262.6 L201.8,262.6 L204.5,262.6 L207.1,262.6 L209.8,262.6 L212.4,262.6 L215.1,262.6 L217.7,262.6 L220.4,262.6 L223.0,262.7 L225.7,262.7 L228.3,262.7 L231.0,262.7 L233.6,262.7 L236.2,262.7 L238.9,262.7 L241.5,262.7 L244.2,262.7 L246.8,262.7 L249.5,262.7 L252.1,262.7 L254.8,262.7 L257.4,262.8 L260.1,262.8 L262.7,262.8 L265.4,262.8 L268.0,262.8 L270.7,262.8 L273.3,262.8 L276.0,262.8 L278.6,262.8 L281.3,262.8 L283.9,262.8 L286.6,262.8 L289.2,262.8 L291.9,262.9 L294.5,262.9 L297.1,262.9 L299.8,262.9 L302.4,262.9 L305.1,262.9 L307.7,262.9 L310.4,262.9 L313.0,262.9 L315.7,262.9 L318.3,262.9 L321.0,262.9 L323.6,262.9 L326.3,263.0 L328.9,263.0 L331.6,263.0 L334.2,263.0 L336.9,263.0 L339.5,263.0 L342.2,263.0 L344.8,263.0 L347.5,263.0 L350.1,263.0 L352.8,263.0 L355.4,263.0 L358.1,263.0 L360.7,263.1 L363.3,263.1 L366.0,263.1 L368.6,263.1 L371.3,263.1 L373.9,263.1 L376.6,263.1 L379.2,263.1 L381.9,263.1 L384.5,263.1 L387.2,263.1 L389.8,263.1 L392.5,263.1 L395.1,263.2 L397.8,263.2 L400.4,263.2 L403.1,263.2 L405.7,263.2 L408.4,263.2 L411.0,263.2 L413.7,263.2 L416.3,263.2 L419.0,263.2 L421.6,263.2" fill="none" stroke="#000" stroke-width="2.0" stroke-linecap="butt" stroke-linejoin="round"/><path d="M106.5,262.6 L109.1,262.6 L111.8,262.7 L114.4,262.8 L117.1,262.9 L119.7,263.1 L122.4,263.3 L125.0,263.6 L127.7,263.9 L130.3,264.2 L133.0,264.6 L135.6,265.0 L138.3,265.5 L140.9,266.0 L143.6,266.5 L146.2,267.1 L148.9,267.7 L151.5,268.3 L154.2,269.0 L156.8,269.7 L159.5,270.4 L162.1,271.2 L164.8,271.9 L167.4,272.8 L170.0,273.6 L172.7,274.5 L175.3,275.4 L178.0,276.3 L180.6,277.3 L183.3,278.3 L185.9,279.2 L188.6,280.3 L191.2,281.3 L193.9,282.4 L196.5,283.4 L199.2,284.5 L201.8,285.6 L204.5,286.8 L207.1,287.9 L209.8,289.0 L212.4,290.2 L215.1,291.4 L217.7,292.5 L220.4,293.7 L223.0,294.9 L225.7,296.1 L228.3,297.3 L231.0,298.5 L233.6,299.7 L236.2,300.9 L238.9,302.1 L241.5,303.3 L244.2,304.5 L246.8,305.7 L249.5,306.8 L252.1,308.0 L254.8,309.2 L257.4,310.4 L260.1,311.5 L262.7,312.7 L265.4,313.8 L268.0,314.9 L270.7,316.1 L273.3,317.2 L276.0,318.3 L278.6,319.3 L281.3,320.4 L283.9,321.5 L286.6,322.5 L289.2,323.5 L291.9,324.5 L294.5,325.5 L297.1,326.5 L299.8,327.4 L302.4,328.3 L305.1,329.2 L307.7,330.1 L310.4,331.0 L313.0,331.9 L315.7,332.7 L318.3,333.5 L321.0,334.3 L323.6,335.1 L326.3,335.8 L328.9,336.5 L331.6,337.3 L334.2,337.9 L336.9,338.6 L339.5,339.3 L342.2,339.9 L344.8,340.5 L347.5,341.1 L350.1,341.6 L352.8,342.2 L355.4,342.7 L358.1,343.2 L360.7,343.7 L363.3,344.1 L366.0,344.5 L368.6,345.0 L371.3,345.3 L373.9,345.7 L376.6,346.1 L379.2,346.4 L381.9,346.7 L384.5,347.0 L387.2,347.3 L389.8,347.5 L392.5,347.7 L395.1,347.9 L397.8,348.1 L400.4,348.3 L403.1,348.5 L405.7,348.6 L408.4,348.7 L411.0,348.8 L413.7,348.8 L416.3,348.9 L419.0,348.9 L421.6,348.9" fill="none" stroke="#000" stroke-width="2.0" stroke-linecap="butt" stroke-linejoin="round"/><path d="M106.5,374.9 L109.1,374.9 L111.8,374.9 L114.4,374.8 L117.1,374.8 L119.7,374.8 L122.4,374.8 L125.0,374.8 L127.7,374.7 L130.3,374.7 L133.0,374.6 L135.6,374.6 L138.3,374.5 L140.9,374.5 L143.6,374.4 L146.2,374.4 L148.9,374.3 L151.5,374.2 L154.2,374.1 L156.8,374.0 L159.5,373.9 L162.1,373.8 L164.8,373.7 L167.4,373.6 L170.0,373.5 L172.7,373.3 L175.3,373.2 L178.0,373.0 L180.6,372.9 L183.3,372.7 L185.9,372.5 L188.6,372.4 L191.2,372.2 L193.9,371.9 L196.5,371.7 L199.2,371.5 L201.8,371.3 L204.5,371.0 L207.1,370.8 L209.8,370.5 L212.4,370.2 L215.1,369.9 L217.7,369.6 L220.4,369.3 L223.0,369.0 L225.7,368.7 L228.3,368.3 L231.0,368.0 L233.6,367.6 L236.2,367.2 L238.9,366.9 L241.5,366.5 L244.2,366.0 L246.8,365.6 L249.5,365.2 L252.1,364.8 L254.8,364.3 L257.4,363.8 L260.1,363.4 L262.7,362.9 L265.4,362.4 L268.0,361.9 L270.7,361.4 L273.3,360.9 L276.0,360.4 L278.6,359.9 L281.3,359.3 L283.9,358.8 L286.6,358.2 L289.2,357.7 L291.9,357.1 L294.5,356.6 L297.1,356.0 L299.8,355.5 L302.4,354.9 L305.1,354.3 L307.7,353.8 L310.4,353.2 L313.0,352.6 L315.7,352.1 L318.3,351.5 L321.0,350.9 L323.6,350.4 L326.3,349.8 L328.9,349.3 L331.6,348.7 L334.2,348.2 L336.9,347.7 L339.5,347.1 L342.2,346.6 L344.8,346.1 L347.5,345.6 L350.1,345.1 L352.8,344.6 L355.4,344.2 L358.1,343.7 L360.7,343.3 L363.3,342.9 L366.0,342.5 L368.6,342.1 L371.3,341.7 L373.9,341.3 L376.6,341.0 L379.2,340.6 L381.9,340.3 L384.5,340.0 L387.2,339.7 L389.8,339.5 L392.5,339.2 L395.1,339.0 L397.8,338.8 L400.4,338.6 L403.1,338.5 L405.7,338.3 L408.4,338.2 L411.0,338.1 L413.7,338.1 L416.3,338.0 L419.0,338.0 L421.6,338.0" fill="none" stroke="#000" stroke-width="2.0" stroke-linecap="butt" stroke-linejoin="round"/><path d="M106.5,374.9 L109.1,374.9 L111.8,374.9 L114.4,374.9 L117.1,375.0 L119.7,375.1 L122.4,375.2 L125.0,375.3 L127.7,375.5 L130.3,375.6 L133.0,375.8 L135.6,376.0 L138.3,376.3 L140.9,376.5 L143.6,376.7 L146.2,377.0 L148.9,377.3 L151.5,377.6 L154.2,377.9 L156.8,378.3 L159.5,378.6 L162.1,379.0 L164.8,379.4 L167.4,379.8 L170.0,380.2 L172.7,380.6 L175.3,381.0 L178.0,381.5 L180.6,381.9 L183.3,382.4 L185.9,382.9 L188.6,383.4 L191.2,383.9 L193.9,384.4 L196.5,384.9 L199.2,385.4 L201.8,385.9 L204.5,386.5 L207.1,387.0 L209.8,387.6 L212.4,388.1 L215.1,388.7 L217.7,389.2 L220.4,389.8 L223.0,390.4 L225.7,390.9 L228.3,391.5 L231.0,392.0 L233.6,392.6 L236.2,393.2 L238.9,393.7 L241.5,394.3 L244.2,394.9 L246.8,395.4 L249.5,396.0 L252.1,396.5 L254.8,397.1 L257.4,397.6 L260.1,398.2 L262.7,398.7 L265.4,399.2 L268.0,399.7 L270.7,400.3 L273.3,400.8 L276.0,401.3 L278.6,401.8 L281.3,402.2 L283.9,402.7 L286.6,403.2 L289.2,403.7 L291.9,404.1 L294.5,404.6 L297.1,405.0 L299.8,405.4 L302.4,405.8 L305.1,406.3 L307.7,406.7 L310.4,407.0 L313.0,407.4 L315.7,407.8 L318.3,408.2 L321.0,408.5 L323.6,408.8 L326.3,409.2 L328.9,409.5 L331.6,409.8 L334.2,410.1 L336.9,410.4 L339.5,410.7 L342.2,411.0 L344.8,411.2 L347.5,411.5 L350.1,411.7 L352.8,411.9 L355.4,412.2 L358.1,412.4 L360.7,412.6 L363.3,412.8 L366.0,413.0 L368.6,413.1 L371.3,413.3 L373.9,413.5 L376.6,413.6 L379.2,413.8 L381.9,413.9 L384.5,414.0 L387.2,414.1 L389.8,414.2 L392.5,414.3 L395.1,414.4 L397.8,414.5 L400.4,414.6 L403.1,414.6 L405.7,414.7 L408.4,414.7 L411.0,414.7 L413.7,414.8 L416.3,414.8 L419.0,414.8 L421.6,414.8" fill="none" stroke="#000" stroke-width="2.0" stroke-linecap="butt" stroke-linejoin="round"/><path d="M106.5,182.4 L109.1,182.4 L111.8,182.4 L114.4,182.4 L117.1,182.4 L119.7,182.4 L122.4,182.4 L125.0,182.4 L127.7,182.4 L130.3,182.3 L133.0,182.3 L135.6,182.3 L138.3,182.3 L140.9,182.3 L143.6,182.3 L146.2,182.3 L148.9,182.2 L151.5,182.2 L154.2,182.2 L156.8,182.2 L159.5,182.2 L162.1,182.1 L164.8,182.1 L167.4,182.1 L170.0,182.1 L172.7,182.0 L175.3,182.0 L178.0,182.0 L180.6,182.0 L183.3,181.9 L185.9,181.9 L188.6,181.9 L191.2,181.9 L193.9,181.9 L196.5,181.8 L199.2,181.8 L201.8,181.8 L204.5,181.8 L207.1,181.7 L209.8,181.7 L212.4,181.7 L215.1,181.7 L217.7,181.7 L220.4,181.6 L223.0,181.6 L225.7,181.6 L228.3,181.6 L231.0,181.6 L233.6,181.6 L236.2,181.5 L238.9,181.5 L241.5,181.5 L244.2,181.5 L246.8,181.5 L249.5,181.5 L252.1,181.4 L254.8,181.4 L257.4,181.4 L260.1,181.4 L262.7,181.4 L265.4,181.4 L268.0,181.4 L270.7,181.3 L273.3,181.3 L276.0,181.3 L278.6,181.3 L281.3,181.3 L283.9,181.3 L286.6,181.2 L289.2,181.2 L291.9,181.2 L294.5,181.2 L297.1,181.2 L299.8,181.2 L302.4,181.1 L305.1,181.1 L307.7,181.1 L310.4,181.1 L313.0,181.1 L315.7,181.1 L318.3,181.0 L321.0,181.0 L323.6,181.0 L326.3,181.0 L328.9,181.0 L331.6,180.9 L334.2,180.9 L336.9,180.9 L339.5,180.9 L342.2,180.9 L344.8,180.9 L347.5,180.8 L350.1,180.8 L352.8,180.8 L355.4,180.8 L358.1,180.8 L360.7,180.8 L363.3,180.8 L366.0,180.7 L368.6,180.7 L371.3,180.7 L373.9,180.7 L376.6,180.7 L379.2,180.7 L381.9,180.7 L384.5,180.7 L387.2,180.6 L389.8,180.6 L392.5,180.6 L395.1,180.6 L397.8,180.6 L400.4,180.6 L403.1,180.6 L405.7,180.6 L408.4,180.6 L411.0,180.6 L413.7,180.6 L416.3,180.6 L419.0,180.6 L421.6,180.6" fill="none" stroke="#000" stroke-width="2.0" stroke-linecap="butt" stroke-linejoin="round"/><path d="M106.5,130.9 L109.1,130.9 L111.8,131.0 L114.4,131.1 L117.1,131.3 L119.7,131.5 L122.4,131.7 L125.0,132.0 L127.7,132.2 L130.3,132.5 L133.0,132.8 L135.6,133.2 L138.3,133.5 L140.9,133.8 L143.6,134.1 L146.2,134.4 L148.9,134.7 L151.5,135.0 L154.2,135.3 L156.8,135.6 L159.5,135.9 L162.1,136.2 L164.8,136.5 L167.4,136.7 L170.0,137.0 L172.7,137.3 L175.3,137.5 L178.0,137.8 L180.6,138.1 L183.3,138.3 L185.9,138.6 L188.6,138.8 L191.2,139.1 L193.9,139.3 L196.5,139.6 L199.2,139.8 L201.8,140.1 L204.5,140.3 L207.1,140.6 L209.8,140.8 L212.4,141.1 L215.1,141.3 L217.7,141.5 L220.4,141.8 L223.0,142.0 L225.7,142.2 L228.3,142.4 L231.0,142.7 L233.6,142.9 L236.2,143.1 L238.9,143.3 L241.5,143.5 L244.2,143.7 L246.8,143.9 L249.5,144.1 L252.1,144.3 L254.8,144.5 L257.4,144.7 L260.1,144.9 L262.7,145.1 L265.4,145.3 L268.0,145.4 L270.7,145.6 L273.3,145.7 L276.0,145.9 L278.6,146.0 L281.3,146.2 L283.9,146.3 L286.6,146.5 L289.2,146.6 L291.9,146.7 L294.5,146.8 L297.1,146.9 L299.8,147.0 L302.4,147.1 L305.1,147.2 L307.7,147.3 L310.4,147.4 L313.0,147.5 L315.7,147.6 L318.3,147.7 L321.0,147.7 L323.6,147.8 L326.3,147.9 L328.9,148.0 L331.6,148.0 L334.2,148.1 L336.9,148.1 L339.5,148.2 L342.2,148.3 L344.8,148.3 L347.5,148.4 L350.1,148.4 L352.8,148.4 L355.4,148.5 L358.1,148.5 L360.7,148.6 L363.3,148.6 L366.0,148.7 L368.6,148.7 L371.3,148.7 L373.9,148.8 L376.6,148.8 L379.2,148.9 L381.9,148.9 L384.5,148.9 L387.2,149.0 L389.8,149.0 L392.5,149.0 L395.1,149.0 L397.8,149.1 L400.4,149.1 L403.1,149.1 L405.7,149.1 L408.4,149.1 L411.0,149.1 L413.7,149.1 L416.3,149.2 L419.0,149.2 L421.6,149.2" fill="none" stroke="#000" stroke-width="2.0" stroke-linecap="butt" stroke-linejoin="round"/><path d="M106.5,92.4 L108.5,92.4 L110.5,92.2 L112.5,91.9 L114.4,91.6 L116.4,91.2 L118.4,90.8 L120.4,90.3 L122.4,89.9 L124.4,89.4 L126.4,89.0 L128.3,88.5 L130.3,88.1 L132.3,87.6 L134.3,87.1 L136.3,86.5 L138.3,85.9 L140.3,85.3 L142.2,84.6 L144.2,83.9 L146.2,83.1 L148.2,82.3 L150.2,81.4 L152.2,80.5 L154.2,79.6 L156.1,78.6 L158.1,77.6 L160.1,76.5 L162.1,75.4 L164.1,74.3 L166.1,73.1 L168.1,72.0 L170.0,70.8 L172.0,69.5 L174.0,68.3 L176.0,67.0 L178.0,65.7 L180.0,64.4 L182.0,63.0 L184.0,61.7 L185.9,60.3 L187.9,58.9 L189.9,57.5 L191.9,56.0 L193.9,54.5 L195.9,53.0 L197.9,51.5 L199.8,49.9 L201.8,48.3 L203.8,46.7 L205.8,45.1 L207.8,43.5 L209.8,41.8 L211.8,40.2 L213.7,38.5 L215.7,36.9 L217.7,35.2 L219.7,33.6 L221.7,32.0 L223.7,30.4 L225.7,28.9 L227.6,27.4 L229.6,25.9 L231.6,24.5 L233.6,23.1 L235.6,21.7 L237.6,20.4 L239.6,19.0 L241.5,17.7 L243.5,16.4 L245.5,15.0 L247.5,13.6 L249.5,12.2 L251.5,10.9 L253.5,9.5 L255.4,8.1 L257.4,6.7 L259.4,5.3 L261.4,4.0 L263.4,2.6 L265.4,1.2 L267.4,-0.2 L269.3,-1.5 L271.3,-3.0 L273.3,-4.4 L275.3,-5.8 L277.3,-7.3 L279.3,-8.8 L281.3,-10.3 L283.2,-11.8 L285.2,-13.4 L287.2,-15.0 L289.2,-16.7 L291.2,-18.4 L293.2,-20.1 L295.2,-21.9 L297.1,-23.7 L299.1,-25.6 L301.1,-27.5 L303.1,-29.4 L305.1,-31.4 L307.1,-33.3 L309.1,-35.2 L311.1,-37.1 L313.0,-39.0 L315.0,-40.8 L317.0,-42.6 L319.0,-44.3 L321.0,-45.9 L323.0,-47.4 L325.0,-48.9 L326.9,-50.2 L328.9,-51.4 L330.9,-52.5 L332.9,-53.5 L334.9,-54.3 L336.9,-54.9 L338.9,-55.4 L340.8,-55.7 L342.8,-55.8" fill="none" stroke="#000" stroke-width="2.0" stroke-linecap="butt" stroke-linejoin="round"/><path d="M106.5,92.7 L108.0,92.7 L109.4,92.6 L110.9,92.5 L112.3,92.3 L113.8,92.0 L115.2,91.7 L116.7,91.3 L118.2,90.9 L119.6,90.5 L121.1,90.0 L122.5,89.5 L124.0,89.0 L125.4,88.4 L126.9,87.8 L128.3,87.2 L129.8,86.5 L131.3,85.9 L132.7,85.2 L134.2,84.5 L135.6,83.8 L137.1,83.1 L138.5,82.4 L140.0,81.7 L141.5,81.0 L142.9,80.3 L144.4,79.6 L145.8,78.9 L147.3,78.2 L148.7,77.5 L150.2,76.8 L151.6,76.0 L153.1,75.3 L154.6,74.6 L156.0,73.8 L157.5,73.1 L158.9,72.3 L160.4,71.5 L161.8,70.7 L163.3,69.9 L164.8,69.0 L166.2,68.2 L167.7,67.3 L169.1,66.4 L170.6,65.4 L172.0,64.5 L173.5,63.5 L174.9,62.5 L176.4,61.5 L177.9,60.4 L179.3,59.3 L180.8,58.2 L182.2,57.0 L183.7,55.9 L185.1,54.7 L186.6,53.5 L188.1,52.3 L189.5,51.1 L191.0,49.8 L192.4,48.6 L193.9,47.3 L195.3,46.1 L196.8,44.8 L198.2,43.5 L199.7,42.2 L201.2,40.9 L202.6,39.6 L204.1,38.3 L205.5,36.9 L207.0,35.6 L208.4,34.2 L209.9,32.9 L211.4,31.5 L212.8,30.2 L214.3,28.8 L215.7,27.4 L217.2,26.1 L218.6,24.7 L220.1,23.3 L221.6,21.9 L223.0,20.5 L224.5,19.2 L225.9,17.7 L227.4,16.3 L228.8,14.8 L230.3,13.3 L231.7,11.6 L233.2,10.0 L234.7,8.2 L236.1,6.4 L237.6,4.6 L239.0,2.7 L240.5,0.7 L241.9,-1.2 L243.4,-3.2 L244.9,-5.2 L246.3,-7.2 L247.8,-9.2 L249.2,-11.1 L250.7,-13.1 L252.1,-15.0 L253.6,-17.0 L255.0,-18.8 L256.5,-20.6 L258.0,-22.4 L259.4,-24.1 L260.9,-25.8 L262.3,-27.3 L263.8,-28.8 L265.2,-30.2 L266.7,-31.5 L268.2,-32.7 L269.6,-33.7 L271.1,-34.7 L272.5,-35.5 L274.0,-36.2 L275.4,-36.8 L276.9,-37.2 L278.3,-37.4 L279.8,-37.5" fill="none" stroke="#000" stroke-width="2.0" stroke-linecap="butt" stroke-linejoin="round"/><path d="M106.5,183.0 L109.1,183.1 L111.8,183.2 L114.4,183.4 L117.1,183.7 L119.7,184.0 L122.4,184.4 L125.0,184.9 L127.7,185.5 L130.3,186.1 L133.0,186.8 L135.6,187.6 L138.3,188.4 L140.9,189.2 L143.6,190.2 L146.2,191.1 L148.9,192.1 L151.5,193.2 L154.2,194.3 L156.8,195.4 L159.5,196.6 L162.1,197.8 L164.8,199.0 L167.4,200.2 L170.0,201.5 L172.7,202.8 L175.3,204.1 L178.0,205.4 L180.6,206.8 L183.3,208.1 L185.9,209.4 L188.6,210.7 L191.2,212.0 L193.9,213.3 L196.5,214.6 L199.2,215.8 L201.8,217.1 L204.5,218.3 L207.1,219.5 L209.8,220.6 L212.4,221.8 L215.1,223.0 L217.7,224.2 L220.4,225.4 L223.0,226.6 L225.7,227.9 L228.3,229.1 L231.0,230.5 L233.6,231.8 L236.2,233.2 L238.9,234.7 L241.5,236.1 L244.2,237.6 L246.8,239.1 L249.5,240.6 L252.1,242.1 L254.8,243.6 L257.4,245.1 L260.1,246.6 L262.7,248.1 L265.4,249.5 L268.0,251.0 L270.7,252.4 L273.3,253.8 L276.0,255.2 L278.6,256.5 L281.3,257.8 L283.9,259.1 L286.6,260.4 L289.2,261.7 L291.9,262.9 L294.5,264.0 L297.1,265.1 L299.8,266.0 L302.4,267.0 L305.1,267.8 L307.7,268.7 L310.4,269.6 L313.0,270.6 L315.7,271.7 L318.3,272.8 L321.0,274.0 L323.6,275.2 L326.3,276.5 L328.9,277.7 L331.6,278.9 L334.2,280.1 L336.9,281.1 L339.5,282.1 L342.2,283.1 L344.8,284.0 L347.5,284.9 L350.1,285.7 L352.8,286.6 L355.4,287.4 L358.1,288.2 L360.7,289.1 L363.3,289.9 L366.0,290.7 L368.6,291.5 L371.3,292.2 L373.9,293.0 L376.6,293.7 L379.2,294.4 L381.9,295.0 L384.5,295.6 L387.2,296.2 L389.8,296.7 L392.5,297.1 L395.1,297.5 L397.8,297.8 L400.4,298.1 L403.1,298.4 L405.7,298.6 L408.4,298.9 L411.0,299.1 L413.7,299.2 L416.3,299.4 L419.0,299.5 L421.6,299.5" fill="none" stroke="#000" stroke-width="2.3" stroke-linecap="butt" stroke-linejoin="round"/><path d="M106.5,186.7 L109.1,186.7 L111.8,186.8 L114.4,187.0 L117.1,187.2 L119.7,187.5 L122.4,187.9 L125.0,188.3 L127.7,188.8 L130.3,189.3 L133.0,189.9 L135.6,190.6 L138.3,191.3 L140.9,192.1 L143.6,192.9 L146.2,193.8 L148.9,194.8 L151.5,195.7 L154.2,196.8 L156.8,197.9 L159.5,199.0 L162.1,200.2 L164.8,201.4 L167.4,202.6 L170.0,203.9 L172.7,205.2 L175.3,206.5 L178.0,207.9 L180.6,209.2 L183.3,210.5 L185.9,211.9 L188.6,213.2 L191.2,214.5 L193.9,215.8 L196.5,217.1 L199.2,218.3 L201.8,219.5 L204.5,220.6 L207.1,221.8 L209.8,222.9 L212.4,224.0 L215.1,225.1 L217.7,226.3 L220.4,227.4 L223.0,228.6 L225.7,229.7 L228.3,231.0 L231.0,232.3 L233.6,233.6 L236.2,235.0 L238.9,236.4 L241.5,237.9 L244.2,239.4 L246.8,240.9 L249.5,242.4 L252.1,243.9 L254.8,245.4 L257.4,246.9 L260.1,248.5 L262.7,250.0 L265.4,251.5 L268.0,252.9 L270.7,254.4 L273.3,255.8 L276.0,257.2 L278.6,258.5 L281.3,259.8 L283.9,261.1 L286.6,262.3 L289.2,263.4 L291.9,264.5 L294.5,265.6 L297.1,266.5 L299.8,267.4 L302.4,268.3 L305.1,269.1 L307.7,270.0 L310.4,270.9 L313.0,271.8 L315.7,272.9 L318.3,274.0 L321.0,275.2 L323.6,276.4 L326.3,277.7 L328.9,278.9 L331.6,280.1 L334.2,281.3 L336.9,282.3 L339.5,283.3 L342.2,284.3 L344.8,285.2 L347.5,286.1 L350.1,286.9 L352.8,287.8 L355.4,288.6 L358.1,289.5 L360.7,290.3 L363.3,291.2 L366.0,292.0 L368.6,292.7 L371.3,293.5 L373.9,294.1 L376.6,294.8 L379.2,295.4 L381.9,295.9 L384.5,296.4 L387.2,296.9 L389.8,297.3 L392.5,297.7 L395.1,298.1 L397.8,298.4 L400.4,298.7 L403.1,299.0 L405.7,299.2 L408.4,299.5 L411.0,299.7 L413.7,299.9 L416.3,300.0 L419.0,300.1 L421.6,300.1" fill="none" stroke="#000" stroke-width="2.3" stroke-linecap="butt" stroke-linejoin="round"/><path d="M106.5,262.3 L109.1,262.3 L111.8,262.3 L114.4,262.3 L117.1,262.3 L119.7,262.4 L122.4,262.4 L125.0,262.4 L127.7,262.4 L130.3,262.4 L133.0,262.4 L135.6,262.4 L138.3,262.4 L140.9,262.4 L143.6,262.4 L146.2,262.4 L148.9,262.4 L151.5,262.4 L154.2,262.5 L156.8,262.5 L159.5,262.5 L162.1,262.5 L164.8,262.5 L167.4,262.5 L170.0,262.5 L172.7,262.5 L175.3,262.5 L178.0,262.5 L180.6,262.5 L183.3,262.5 L185.9,262.5 L188.6,262.6 L191.2,262.6 L193.9,262.6 L196.5,262.6 L199.2,262.6 L201.8,262.6 L204.5,262.6 L207.1,262.6 L209.8,262.6 L212.4,262.6 L215.1,262.6 L217.7,262.6 L220.4,262.6 L223.0,262.7 L225.7,262.7 L228.3,262.7 L231.0,262.7 L233.6,262.7 L236.2,262.7 L238.9,262.7 L241.5,262.7 L244.2,262.7 L246.8,262.7 L249.5,262.7 L252.1,262.7 L254.8,262.7 L257.4,262.8 L260.1,262.8 L262.7,262.8 L265.4,262.8 L268.0,262.8 L270.7,262.8 L273.3,262.8 L276.0,262.8 L278.6,262.8 L281.3,262.8 L283.9,262.8 L286.6,262.8 L289.2,262.8 L291.9,262.9 L294.5,262.9 L297.1,262.9 L299.8,262.9 L302.4,262.9 L305.1,262.9 L307.7,262.9 L310.4,262.9 L313.0,262.9 L315.7,262.9 L318.3,262.9 L321.0,262.9 L323.6,262.9 L326.3,263.0 L328.9,263.0 L331.6,263.0 L334.2,263.0 L336.9,263.0 L339.5,263.0 L342.2,263.0 L344.8,263.0 L347.5,263.0 L350.1,263.0 L352.8,263.0 L355.4,263.0 L358.1,263.0 L360.7,263.1 L363.3,263.1 L366.0,263.1 L368.6,263.1 L371.3,263.1 L373.9,263.1 L376.6,263.1 L379.2,263.1 L381.9,263.1 L384.5,263.1 L387.2,263.1 L389.8,263.1 L392.5,263.1 L395.1,263.2 L397.8,263.2 L400.4,263.2 L403.1,263.2 L405.7,263.2 L408.4,263.2 L411.0,263.2 L413.7,263.2 L416.3,263.2 L419.0,263.2 L421.6,263.2" fill="none" stroke="#ff0000" stroke-width="2.6" stroke-dasharray="7 2.2" stroke-linecap="butt" stroke-linejoin="round"/><path d="M106.5,262.6 L109.1,262.6 L111.8,262.7 L114.4,262.8 L117.1,262.9 L119.7,263.1 L122.4,263.3 L125.0,263.6 L127.7,263.9 L130.3,264.2 L133.0,264.6 L135.6,265.0 L138.3,265.5 L140.9,266.0 L143.6,266.5 L146.2,267.1 L148.9,267.7 L151.5,268.3 L154.2,269.0 L156.8,269.7 L159.5,270.4 L162.1,271.2 L164.8,271.9 L167.4,272.8 L170.0,273.6 L172.7,274.5 L175.3,275.4 L178.0,276.3 L180.6,277.3 L183.3,278.3 L185.9,279.2 L188.6,280.3 L191.2,281.3 L193.9,282.4 L196.5,283.4 L199.2,284.5 L201.8,285.6 L204.5,286.8 L207.1,287.9 L209.8,289.0 L212.4,290.2 L215.1,291.4 L217.7,292.5 L220.4,293.7 L223.0,294.9 L225.7,296.1 L228.3,297.3 L231.0,298.5 L233.6,299.7 L236.2,300.9 L238.9,302.1 L241.5,303.3 L244.2,304.5 L246.8,305.7 L249.5,306.8 L252.1,308.0 L254.8,309.2 L257.4,310.4 L260.1,311.5 L262.7,312.7 L265.4,313.8 L268.0,314.9 L270.7,316.1 L273.3,317.2 L276.0,318.3 L278.6,319.3 L281.3,320.4 L283.9,321.5 L286.6,322.5 L289.2,323.5 L291.9,324.5 L294.5,325.5 L297.1,326.5 L299.8,327.4 L302.4,328.3 L305.1,329.2 L307.7,330.1 L310.4,331.0 L313.0,331.9 L315.7,332.7 L318.3,333.5 L321.0,334.3 L323.6,335.1 L326.3,335.8 L328.9,336.5 L331.6,337.3 L334.2,337.9 L336.9,338.6 L339.5,339.3 L342.2,339.9 L344.8,340.5 L347.5,341.1 L350.1,341.6 L352.8,342.2 L355.4,342.7 L358.1,343.2 L360.7,343.7 L363.3,344.1 L366.0,344.5 L368.6,345.0 L371.3,345.3 L373.9,345.7 L376.6,346.1 L379.2,346.4 L381.9,346.7 L384.5,347.0 L387.2,347.3 L389.8,347.5 L392.5,347.7 L395.1,347.9 L397.8,348.1 L400.4,348.3 L403.1,348.5 L405.7,348.6 L408.4,348.7 L411.0,348.8 L413.7,348.8 L416.3,348.9 L419.0,348.9 L421.6,348.9" fill="none" stroke="#ff0000" stroke-width="2.6" stroke-dasharray="7 2.2" stroke-linecap="butt" stroke-linejoin="round"/><path d="M106.5,374.9 L109.1,374.9 L111.8,374.9 L114.4,374.9 L117.1,375.0 L119.7,375.1 L122.4,375.2 L125.0,375.3 L127.7,375.5 L130.3,375.6 L133.0,375.8 L135.6,376.0 L138.3,376.3 L140.9,376.5 L143.6,376.7 L146.2,377.0 L148.9,377.3 L151.5,377.6 L154.2,377.9 L156.8,378.3 L159.5,378.6 L162.1,379.0 L164.8,379.4 L167.4,379.8 L170.0,380.2 L172.7,380.6 L175.3,381.0 L178.0,381.5 L180.6,381.9 L183.3,382.4 L185.9,382.9 L188.6,383.4 L191.2,383.9 L193.9,384.4 L196.5,384.9 L199.2,385.4 L201.8,385.9 L204.5,386.5 L207.1,387.0 L209.8,387.6 L212.4,388.1 L215.1,388.7 L217.7,389.2 L220.4,389.8 L223.0,390.4 L225.7,390.9 L228.3,391.5 L231.0,392.0 L233.6,392.6 L236.2,393.2 L238.9,393.7 L241.5,394.3 L244.2,394.9 L246.8,395.4 L249.5,396.0 L252.1,396.5 L254.8,397.1 L257.4,397.6 L260.1,398.2 L262.7,398.7 L265.4,399.2 L268.0,399.7 L270.7,400.3 L273.3,400.8 L276.0,401.3 L278.6,401.8 L281.3,402.2 L283.9,402.7 L286.6,403.2 L289.2,403.7 L291.9,404.1 L294.5,404.6 L297.1,405.0 L299.8,405.4 L302.4,405.8 L305.1,406.3 L307.7,406.7 L310.4,407.0 L313.0,407.4 L315.7,407.8 L318.3,408.2 L321.0,408.5 L323.6,408.8 L326.3,409.2 L328.9,409.5 L331.6,409.8 L334.2,410.1 L336.9,410.4 L339.5,410.7 L342.2,411.0 L344.8,411.2 L347.5,411.5 L350.1,411.7 L352.8,411.9 L355.4,412.2 L358.1,412.4 L360.7,412.6 L363.3,412.8 L366.0,413.0 L368.6,413.1 L371.3,413.3 L373.9,413.5 L376.6,413.6 L379.2,413.8 L381.9,413.9 L384.5,414.0 L387.2,414.1 L389.8,414.2 L392.5,414.3 L395.1,414.4 L397.8,414.5 L400.4,414.6 L403.1,414.6 L405.7,414.7 L408.4,414.7 L411.0,414.7 L413.7,414.8 L416.3,414.8 L419.0,414.8 L421.6,414.8" fill="none" stroke="#ff0000" stroke-width="2.6" stroke-dasharray="7 2.2" stroke-linecap="butt" stroke-linejoin="round"/><path d="M106.5,374.9 L109.1,374.9 L111.8,374.9 L114.4,374.8 L117.1,374.8 L119.7,374.8 L122.4,374.8 L125.0,374.8 L127.7,374.7 L130.3,374.7 L133.0,374.6 L135.6,374.6 L138.3,374.5 L140.9,374.5 L143.6,374.4 L146.2,374.4 L148.9,374.3 L151.5,374.2 L154.2,374.1 L156.8,374.0 L159.5,373.9 L162.1,373.8 L164.8,373.7 L167.4,373.6 L170.0,373.5 L172.7,373.3 L175.3,373.2 L178.0,373.0 L180.6,372.9 L183.3,372.7 L185.9,372.5 L188.6,372.4 L191.2,372.2 L193.9,371.9 L196.5,371.7 L199.2,371.5 L201.8,371.3 L204.5,371.0 L207.1,370.8 L209.8,370.5 L212.4,370.2 L215.1,369.9 L217.7,369.6 L220.4,369.3 L223.0,369.0 L225.7,368.7 L228.3,368.3 L231.0,368.0 L233.6,367.6 L236.2,367.2 L238.9,366.9 L241.5,366.5 L244.2,366.0 L246.8,365.6 L249.5,365.2 L252.1,364.8 L254.8,364.3 L257.4,363.8 L260.1,363.4 L262.7,362.9 L265.4,362.4 L268.0,361.9 L270.7,361.4 L273.3,360.9 L276.0,360.4 L278.6,359.9 L281.3,359.3 L283.9,358.8 L286.6,358.2 L289.2,357.7 L291.9,357.1 L294.5,356.6 L297.1,356.0 L299.8,355.5 L302.4,354.9 L305.1,354.3 L307.7,353.8 L310.4,353.2 L313.0,352.6 L315.7,352.1 L318.3,351.5 L321.0,350.9 L323.6,350.4 L326.3,349.8 L328.9,349.3 L331.6,348.7 L334.2,348.2 L336.9,347.7 L339.5,347.1 L342.2,346.6 L344.8,346.1 L347.5,345.6 L350.1,345.1 L352.8,344.6 L355.4,344.2 L358.1,343.7 L360.7,343.3 L363.3,342.9 L366.0,342.5 L368.6,342.1 L371.3,341.7 L373.9,341.3 L376.6,341.0 L379.2,340.6 L381.9,340.3 L384.5,340.0 L387.2,339.7 L389.8,339.5 L392.5,339.2 L395.1,339.0 L397.8,338.8 L400.4,338.6 L403.1,338.5 L405.7,338.3 L408.4,338.2 L411.0,338.1 L413.7,338.1 L416.3,338.0 L419.0,338.0 L421.6,338.0" fill="none" stroke="#ff0000" stroke-width="3.8" stroke-dasharray="7.5 2.2" stroke-linecap="butt" stroke-linejoin="round"/><path d="M106.5,93.7 L107.6,94.3 L108.6,95.0 L109.7,95.8 L110.7,96.7 L111.8,97.6 L112.8,98.6 L113.9,99.6 L114.9,100.8 L116.0,101.9 L117.0,103.2 L118.1,104.5 L119.1,105.8 L120.2,107.2 L121.3,108.6 L122.3,110.1 L123.4,111.7 L124.4,113.3 L125.5,115.1 L126.5,116.8 L127.6,118.7 L128.6,120.7 L129.7,122.7 L130.7,124.8 L131.8,127.1 L132.8,129.4 L133.9,131.9 L135.0,134.4 L136.0,137.1 L137.1,139.8 L138.1,142.6 L139.2,145.5 L140.2,148.4 L141.3,151.3 L142.3,154.2 L143.4,157.1 L144.4,160.0 L145.5,162.9 L146.5,165.7 L147.6,168.5 L148.7,171.2" fill="none" stroke="#ff0000" stroke-width="3.8" stroke-dasharray="8.5 3" stroke-linecap="butt" stroke-linejoin="round"/><path d="M146.5,165.7 L147.6,168.5 L148.7,171.2 L149.7,174.0 L150.8,176.8 L151.8,179.7 L152.9,182.7 L153.9,185.6 L155.0,188.4 L156.0,190.9 L157.1,193.1 L158.1,195.2 L159.2,197.1 L160.2,199.0 L161.3,201.0 L162.4,203.0 L163.4,205.2 L164.5,207.4 L165.5,209.5 L166.6,211.6 L167.6,213.5 L168.7,215.2 L169.7,216.7 L170.8,218.0 L171.8,219.1 L172.9,220.1 L173.9,221.1 L175.0,222.0 L176.1,222.8 L177.1,223.6 L178.2,224.4 L179.2,225.1 L180.3,225.7 L181.3,226.3 L182.4,226.9 L183.4,227.4 L184.5,227.9 L185.5,228.3 L186.6,228.7 L187.6,228.9 L188.7,229.1 L189.8,229.2 L190.8,229.2 L191.9,229.2 L192.9,229.1 L194.0,228.9 L195.0,228.7 L196.1,228.4 L197.1,228.2 L198.2,227.8 L199.2,227.5 L200.3,227.1 L201.3,226.8 L202.4,226.4 L203.5,226.0 L204.5,225.7 L205.6,225.3 L206.6,225.0 L207.7,224.6 L208.7,224.3 L209.8,224.0 L210.8,223.7 L211.9,223.3 L212.9,223.0 L214.0,222.7 L215.0,222.4 L216.1,222.2 L217.2,221.9 L218.2,221.7 L219.3,221.4 L220.3,221.3 L221.4,221.1 L222.4,221.0 L223.5,221.0 L224.5,221.0 L225.6,221.1 L226.6,221.3 L227.7,221.5 L228.7,221.8 L229.8,222.1 L230.9,222.5 L231.9,223.0 L233.0,223.4 L234.0,224.0 L235.1,224.5 L236.1,225.1 L237.2,225.7 L238.2,226.4 L239.3,227.0 L240.3,227.7 L241.4,228.4 L242.4,229.2 L243.5,230.0 L244.6,230.9 L245.6,231.8 L246.7,232.8 L247.7,233.8 L248.8,234.8 L249.8,235.8 L250.9,236.8 L251.9,237.7 L253.0,238.7 L254.0,239.6 L255.1,240.5 L256.1,241.4 L257.2,242.4 L258.3,243.3 L259.3,244.3 L260.4,245.3 L261.4,246.3 L262.5,247.4 L263.5,248.5 L264.6,249.6 L265.6,250.7 L266.7,251.8 L267.7,253.0 L268.8,254.1 L269.8,255.2 L270.9,256.3 L272.0,257.3 L273.0,258.2 L274.1,259.0 L275.1,259.7 L276.2,260.4 L277.2,261.0 L278.3,261.6 L279.3,262.1 L280.4,262.7 L281.4,263.3 L282.5,264.0" fill="none" stroke="#ff0000" stroke-width="3.8" stroke-linecap="butt" stroke-linejoin="round"/><path d="M280.4,262.7 L281.4,263.3 L282.5,264.0 L283.5,264.6 L284.6,265.3 L285.7,265.9 L286.7,266.5 L287.8,267.1 L288.8,267.6 L289.9,268.1 L290.9,268.5 L292.0,268.9 L293.0,269.2 L294.1,269.5 L295.1,269.8 L296.2,270.0 L297.2,270.3 L298.3,270.5 L299.4,270.7 L300.4,270.9 L301.5,271.1 L302.5,271.3 L303.6,271.5 L304.6,271.7 L305.7,271.9 L306.7,272.1 L307.8,272.3 L308.8,272.5 L309.9,272.7 L310.9,272.9 L312.0,273.1 L313.1,273.3 L314.1,273.5 L315.2,273.7 L316.2,274.0 L317.3,274.2 L318.3,274.5 L319.4,274.7 L320.4,274.9 L321.5,275.2 L322.5,275.5 L323.6,275.7 L324.6,276.0 L325.7,276.3 L326.8,276.6 L327.8,276.9 L328.9,277.2 L329.9,277.5 L331.0,277.8 L332.0,278.1 L333.1,278.4 L334.1,278.7 L335.2,279.0 L336.2,279.4 L337.3,279.7 L338.3,280.1 L339.4,280.4 L340.5,280.8 L341.5,281.2 L342.6,281.5 L343.6,281.9 L344.7,282.3 L345.7,282.7 L346.8,283.1 L347.8,283.5 L348.9,283.9 L349.9,284.3 L351.0,284.7 L352.0,285.1 L353.1,285.5 L354.2,285.9 L355.2,286.4 L356.3,286.8 L357.3,287.2 L358.4,287.7 L359.4,288.1 L360.5,288.6 L361.5,289.0 L362.6,289.4 L363.6,289.9 L364.7,290.3 L365.7,290.7 L366.8,291.1 L367.9,291.5 L368.9,292.0 L370.0,292.4 L371.0,292.8 L372.1,293.1 L373.1,293.5 L374.2,293.9 L375.2,294.2 L376.3,294.6 L377.3,294.9 L378.4,295.3 L379.4,295.6 L380.5,295.9 L381.6,296.2 L382.6,296.5 L383.7,296.8 L384.7,297.1 L385.8,297.3 L386.8,297.6 L387.9,297.8 L388.9,298.0 L390.0,298.2 L391.0,298.4 L392.1,298.6 L393.1,298.8 L394.2,298.9 L395.3,299.1 L396.3,299.2 L397.4,299.4 L398.4,299.5 L399.5,299.6 L400.5,299.7 L401.6,299.8 L402.6,299.9 L403.7,299.9 L404.7,300.0 L405.8,300.0 L406.8,300.1 L407.9,300.1 L409.0,300.1 L410.0,300.2 L411.1,300.2 L412.1,300.2 L413.2,300.2 L414.2,300.2 L415.3,300.2 L416.3,300.2 L417.4,300.2 L418.4,300.1 L419.5,300.1 L420.5,300.1 L421.6,300.1" fill="none" stroke="#ff0000" stroke-width="4.2" stroke-dasharray="7.5 2" stroke-linecap="butt" stroke-linejoin="round"/><path d="M106.5,92.4 L108.5,92.4 L110.5,92.2 L112.5,91.9 L114.4,91.6 L116.4,91.2 L118.4,90.8 L120.4,90.3 L122.4,89.9 L124.4,89.4 L126.4,89.0 L128.3,88.5 L130.3,88.1 L132.3,87.6 L134.3,87.1 L136.3,86.5 L138.3,85.9 L140.3,85.3 L142.2,84.6 L144.2,83.9 L146.2,83.1 L148.2,82.3 L150.2,81.4 L152.2,80.5 L154.2,79.6 L156.1,78.6 L158.1,77.6 L160.1,76.5 L162.1,75.4 L164.1,74.3 L166.1,73.1 L168.1,72.0 L170.0,70.8 L172.0,69.5 L174.0,68.3 L176.0,67.0 L178.0,65.7 L180.0,64.4 L182.0,63.0 L184.0,61.7 L185.9,60.3 L187.9,58.9 L189.9,57.5 L191.9,56.0 L193.9,54.5 L195.9,53.0 L197.9,51.5 L199.8,49.9 L201.8,48.3 L203.8,46.7 L205.8,45.1 L207.8,43.5 L209.8,41.8 L211.8,40.2 L213.7,38.5 L215.7,36.9 L217.7,35.2 L219.7,33.6 L221.7,32.0 L223.7,30.4 L225.7,28.9 L227.6,27.4 L229.6,25.9 L231.6,24.5 L233.6,23.1 L235.6,21.7 L237.6,20.4 L239.6,19.0 L241.5,17.7 L243.5,16.4 L245.5,15.0 L247.5,13.6 L249.5,12.2 L251.5,10.9 L253.5,9.5 L255.4,8.1 L257.4,6.7 L259.4,5.3 L261.4,4.0 L263.4,2.6 L265.4,1.2 L267.4,-0.2 L269.3,-1.5 L271.3,-3.0 L273.3,-4.4 L275.3,-5.8 L277.3,-7.3 L279.3,-8.8 L281.3,-10.3 L283.2,-11.8 L285.2,-13.4 L287.2,-15.0 L289.2,-16.7 L291.2,-18.4 L293.2,-20.1 L295.2,-21.9 L297.1,-23.7 L299.1,-25.6 L301.1,-27.5 L303.1,-29.4 L305.1,-31.4 L307.1,-33.3 L309.1,-35.2 L311.1,-37.1 L313.0,-39.0 L315.0,-40.8 L317.0,-42.6 L319.0,-44.3 L321.0,-45.9 L323.0,-47.4 L325.0,-48.9 L326.9,-50.2 L328.9,-51.4 L330.9,-52.5 L332.9,-53.5 L334.9,-54.3 L336.9,-54.9 L338.9,-55.4 L340.8,-55.7 L342.8,-55.8" fill="none" stroke="#ff0000" stroke-width="2.6" stroke-dasharray="7 2.2" stroke-linecap="butt" stroke-linejoin="round"/><path d="M106.5,130.9 L106.7,130.9 L107.0,130.9 L107.2,130.9 L107.5,130.9 L107.7,130.9 L107.9,130.9 L108.2,130.9 L108.4,130.9 L108.6,130.9 L108.9,130.9 L109.1,130.9 L109.4,130.9 L109.6,130.9 L109.8,130.9 L110.1,130.9 L110.3,131.0 L110.6,131.0 L110.8,131.0 L111.0,131.0 L111.3,131.0 L111.5,131.0 L111.7,131.0 L112.0,131.0 L112.2,131.1 L112.5,131.1 L112.7,131.1 L112.9,131.1 L113.2,131.1 L113.4,131.1 L113.6,131.2 L113.9,131.2 L114.1,131.2 L114.4,131.2 L114.6,131.2 L114.8,131.2 L115.1,131.3 L115.3,131.3 L115.6,131.3 L115.8,131.3 L116.0,131.3 L116.3,131.4 L116.5,131.4 L116.7,131.4 L117.0,131.4 L117.2,131.4 L117.5,131.5 L117.7,131.5 L117.9,131.5 L118.2,131.5 L118.4,131.6 L118.7,131.6 L118.9,131.6 L119.1,131.6 L119.4,131.6 L119.6,131.7 L119.8,131.7 L120.1,131.7 L120.3,131.7 L120.6,131.8 L120.8,131.8 L121.0,131.8 L121.3,131.8 L121.5,131.9 L121.8,131.9 L122.0,131.9 L122.2,131.9 L122.5,131.9 L122.7,132.0 L122.9,132.0 L123.2,132.0 L123.4,132.0 L123.7,132.1 L123.9,132.1 L124.1,132.1 L124.4,132.1 L124.6,132.1 L124.8,132.2 L125.1,132.2 L125.3,132.2 L125.6,132.2 L125.8,132.2 L126.0,132.3 L126.3,132.3 L126.5,132.3 L126.8,132.3 L127.0,132.3 L127.2,132.4 L127.5,132.4 L127.7,132.4 L127.9,132.4 L128.2,132.4 L128.4,132.5 L128.7,132.5 L128.9,132.5 L129.1,132.5 L129.4,132.5 L129.6,132.5 L129.9,132.5 L130.1,132.6 L130.3,132.6 L130.6,132.6 L130.8,132.6 L131.0,132.6 L131.3,132.6 L131.5,132.6 L131.8,132.6 L132.0,132.6 L132.2,132.6 L132.5,132.7 L132.7,132.7 L133.0,132.7 L133.2,132.7 L133.4,132.7 L133.7,132.7 L133.9,132.7 L134.1,132.7 L134.4,132.7 L134.6,132.7 L134.9,132.7" fill="none" stroke="#ff0000" stroke-width="2.6" stroke-dasharray="7 2.2" stroke-linecap="butt" stroke-linejoin="round"/><path d="M175.8,-5.5 L177.9,-5.2 L180.0,-4.4 L182.0,-3.2 L184.1,-1.6 L186.1,0.3 L188.2,2.3 L190.3,4.5 L192.3,6.8 L194.4,9.0 L196.5,11.2 L198.5,13.1 L200.6,14.9 L202.7,16.5 L204.7,18.0 L206.8,19.4 L208.9,20.8 L210.9,22.2 L213.0,23.6 L215.1,25.2 L217.1,26.9 L219.2,28.7 L221.3,30.5 L223.3,32.4 L225.4,34.4 L227.5,36.3 L229.5,38.2 L231.6,40.1 L233.7,41.9 L235.7,43.7 L237.8,45.6 L239.8,47.4 L241.9,49.1 L244.0,50.9 L246.0,52.6 L248.1,54.3 L250.2,56.0 L252.2,57.8 L254.3,59.5 L256.4,61.2 L258.4,63.0 L260.5,64.9 L262.6,66.7 L264.6,68.7 L266.7,70.6 L268.8,72.6 L270.8,74.6 L272.9,76.6 L275.0,78.7 L277.0,80.7 L279.1,82.8 L281.2,84.9 L283.2,87.0 L285.3,89.1 L287.4,91.2 L289.4,93.3 L291.5,95.4 L293.5,97.4 L295.6,99.5 L297.7,101.6 L299.7,103.7 L301.8,105.7 L303.9,107.8 L305.9,109.8 L308.0,111.8 L310.1,113.8 L312.1,115.8 L314.2,117.7 L316.3,119.6 L318.3,121.4 L320.4,123.3 L322.5,125.0 L324.5,126.8 L326.6,128.4 L328.7,130.0 L330.7,131.6 L332.8,133.1 L334.9,134.6 L336.9,136.0 L339.0,137.4 L341.1,138.7 L343.1,140.0 L345.2,141.3 L347.2,142.6 L349.3,143.8 L351.4,145.0 L353.4,146.1 L355.5,147.2 L357.6,148.2 L359.6,149.1 L361.7,149.9 L363.8,150.6 L365.8,151.3 L367.9,151.8 L370.0,152.2 L372.0,152.6 L374.1,152.9 L376.2,153.1 L378.2,153.3 L380.3,153.5 L382.4,153.6 L384.4,153.7 L386.5,153.8 L388.6,153.9 L390.6,153.9 L392.7,153.9 L394.8,154.0 L396.8,154.0 L398.9,154.0 L400.9,154.0 L403.0,153.9 L405.1,153.9 L407.1,153.9 L409.2,153.9 L411.3,153.8 L413.3,153.8 L415.4,153.8 L417.5,153.8 L419.5,153.7 L421.6,153.7" fill="none" stroke="#ff0000" stroke-width="2.2" stroke-dasharray="7 4" stroke-linecap="butt" stroke-linejoin="round"/><path d="M106.5,130.9 L109.1,130.9 L111.8,131.0 L114.4,131.1 L117.1,131.3 L119.7,131.5 L122.4,131.7 L125.0,132.0 L127.7,132.2 L130.3,132.5 L133.0,132.8 L135.6,133.2 L138.3,133.5 L140.9,133.8 L143.6,134.1 L146.2,134.4 L148.9,134.7 L151.5,135.0 L154.2,135.3 L156.8,135.6 L159.5,135.9 L162.1,136.2 L164.8,136.5 L167.4,136.7 L170.0,137.0 L172.7,137.3 L175.3,137.5 L178.0,137.8 L180.6,138.1 L183.3,138.3 L185.9,138.6 L188.6,138.8 L191.2,139.1 L193.9,139.3 L196.5,139.6 L199.2,139.8 L201.8,140.1 L204.5,140.3 L207.1,140.6 L209.8,140.8 L212.4,141.1 L215.1,141.3 L217.7,141.5 L220.4,141.8 L223.0,142.0 L225.7,142.2 L228.3,142.4 L231.0,142.7 L233.6,142.9 L236.2,143.1 L238.9,143.3 L241.5,143.5 L244.2,143.7 L246.8,143.9 L249.5,144.1 L252.1,144.3 L254.8,144.5 L257.4,144.7 L260.1,144.9 L262.7,145.1 L265.4,145.3 L268.0,145.4 L270.7,145.6 L273.3,145.7 L276.0,145.9 L278.6,146.0 L281.3,146.2 L283.9,146.3 L286.6,146.5 L289.2,146.6 L291.9,146.7 L294.5,146.8 L297.1,146.9 L299.8,147.0 L302.4,147.1 L305.1,147.2 L307.7,147.3 L310.4,147.4 L313.0,147.5 L315.7,147.6 L318.3,147.7 L321.0,147.7 L323.6,147.8 L326.3,147.9 L328.9,148.0 L331.6,148.0 L334.2,148.1 L336.9,148.1 L339.5,148.2 L342.2,148.3 L344.8,148.3 L347.5,148.4 L350.1,148.4 L352.8,148.4 L355.4,148.5 L358.1,148.5 L360.7,148.6 L363.3,148.6 L366.0,148.7 L368.6,148.7 L371.3,148.7 L373.9,148.8 L376.6,148.8 L379.2,148.9 L381.9,148.9 L384.5,148.9 L387.2,149.0 L389.8,149.0 L392.5,149.0 L395.1,149.0 L397.8,149.1 L400.4,149.1 L403.1,149.1 L405.7,149.1 L408.4,149.1 L411.0,149.1 L413.7,149.1 L416.3,149.2 L419.0,149.2 L421.6,149.2" fill="none" stroke="#ff0000" stroke-width="2.2" stroke-dasharray="7 4" stroke-linecap="butt" stroke-linejoin="round"/></g>
<rect x="140.2" y="23.50" width="268.8" height="140" rx="4" ry="4" fill="#fff" fill-opacity="0.8" stroke="#cccccc" stroke-opacity="0.8" stroke-width="3"/><line x1="149.7" y1="41.70" x2="196.8" y2="41.70" stroke="#0000ff" stroke-width="5.2" stroke-dasharray="19.4 8.5"/><line x1="149.7" y1="66.30" x2="196.8" y2="66.30" stroke="#ffa500" stroke-width="5.2" stroke-dasharray="33.9 8.1 5.3 8.3"/><line x1="149.7" y1="90.90" x2="196.8" y2="90.90" stroke="#000" stroke-width="2.1"/><rect x="150.1" y="107.40" width="48.6" height="16.7" fill="#008000" fill-opacity="0.3"/><line x1="149.7" y1="140.10" x2="196.8" y2="140.10" stroke="#ff0000" stroke-width="2.1" stroke-dasharray="7.4 3.2"/><text x="218.9" y="50.40" class="lg" textLength="55.0" lengthAdjust="spacingAndGlyphs">Fermi</text><text x="218.9" y="75.00" class="lg" textLength="144.5" lengthAdjust="spacingAndGlyphs">Frozen window</text><text x="218.9" y="99.60" class="lg" textLength="112.0" lengthAdjust="spacingAndGlyphs">DFT bands</text><text x="218.9" y="124.20" class="lg" textLength="128.8" lengthAdjust="spacingAndGlyphs">projectability</text><text x="218.9" y="148.80" class="lg" textLength="145.5" lengthAdjust="spacingAndGlyphs">Wannier bands</text>
<rect x="106.50" y="11.30" width="315.10" height="427.10" fill="none" stroke="#000" stroke-width="2.7"/><line x1="94.2" y1="438.30" x2="106.50" y2="438.30" stroke="#000" stroke-width="2.7"/><text x="65.00" y="448.80" class="ty" textLength="13.0" lengthAdjust="spacingAndGlyphs">6</text><rect x="46.5" y="439.90" width="17.8" height="1.5" fill="#000"/><line x1="94.2" y1="377.30" x2="106.50" y2="377.30" stroke="#000" stroke-width="2.7"/><text x="65.00" y="387.80" class="ty" textLength="13.0" lengthAdjust="spacingAndGlyphs">4</text><rect x="46.5" y="378.90" width="17.8" height="1.5" fill="#000"/><line x1="94.2" y1="316.30" x2="106.50" y2="316.30" stroke="#000" stroke-width="2.7"/><text x="65.00" y="326.80" class="ty" textLength="13.0" lengthAdjust="spacingAndGlyphs">2</text><rect x="46.5" y="317.90" width="17.8" height="1.5" fill="#000"/><line x1="94.2" y1="255.30" x2="106.50" y2="255.30" stroke="#000" stroke-width="2.7"/><text x="67.20" y="265.80" class="ty" textLength="13.0" lengthAdjust="spacingAndGlyphs">0</text><line x1="94.2" y1="194.30" x2="106.50" y2="194.30" stroke="#000" stroke-width="2.7"/><text x="67.20" y="204.80" class="ty" textLength="13.0" lengthAdjust="spacingAndGlyphs">2</text><line x1="94.2" y1="133.30" x2="106.50" y2="133.30" stroke="#000" stroke-width="2.7"/><text x="67.20" y="143.80" class="ty" textLength="13.0" lengthAdjust="spacingAndGlyphs">4</text><line x1="94.2" y1="72.30" x2="106.50" y2="72.30" stroke="#000" stroke-width="2.7"/><text x="67.20" y="82.80" class="ty" textLength="13.0" lengthAdjust="spacingAndGlyphs">6</text><line x1="94.2" y1="11.30" x2="106.50" y2="11.30" stroke="#000" stroke-width="2.7"/><text x="67.20" y="21.80" class="ty" textLength="13.0" lengthAdjust="spacingAndGlyphs">8</text><line x1="106.50" y1="438.40" x2="106.50" y2="450.50" stroke="#000" stroke-width="2.7"/><text x="105.50" y="482.00" class="tl" text-anchor="middle">R</text><line x1="421.60" y1="438.40" x2="421.60" y2="450.50" stroke="#000" stroke-width="2.7"/><text x="420.10" y="482.00" class="tl" text-anchor="middle" textLength="22.5" lengthAdjust="spacingAndGlyphs">M</text><text transform="translate(23.60,296.00) rotate(-90)" font-family="Liberation Serif" font-size="29.0" font-style="italic" textLength="20.6" lengthAdjust="spacingAndGlyphs">E</text><text transform="translate(23.60,275.60) rotate(-90)" font-family="Liberation Serif" font-size="29.0">-</text><text transform="translate(23.60,266.00) rotate(-90)" font-family="Liberation Serif" font-size="29.0" font-style="italic" textLength="20.3" lengthAdjust="spacingAndGlyphs">E</text><text transform="translate(27.90,246.00) rotate(-90)" font-family="Liberation Serif" font-size="21.0" font-style="italic" textLength="14.2" lengthAdjust="spacingAndGlyphs">F</text><text transform="translate(23.60,221.60) rotate(-90)" font-family="Liberation Serif" font-size="30.5" textLength="47.0" lengthAdjust="spacingAndGlyphs">(eV)</text><text x="2.2" y="21.30" class="tl" textLength="31" lengthAdjust="spacingAndGlyphs">(a)</text>
<g clip-path="url(#clipB)" fill="#1f77b4"><line x1="496.7" y1="257.30" x2="668.8" y2="257.30" stroke="#0000ff" stroke-width="5.2" stroke-dasharray="19.6 7.9"/><path d="M500.6 17.2m-3 0a3 3 0 1 0 6 0a3 3 0 1 0-6 0M559.6 16.4m-3 0a3 3 0 1 0 6 0a3 3 0 1 0-6 0M585.7 16.4m-3 0a3 3 0 1 0 6 0a3 3 0 1 0-6 0M626.6 14.6m-3 0a3 3 0 1 0 6 0a3 3 0 1 0-6 0M548.7 27.9m-3 0a3 3 0 1 0 6 0a3 3 0 1 0-6 0M546.1 31.0m-3 0a3 3 0 1 0 6 0a3 3 0 1 0-6 0M552.5 33.5m-3 0a3 3 0 1 0 6 0a3 3 0 1 0-6 0M580.6 24.1m-3 0a3 3 0 1 0 6 0a3 3 0 1 0-6 0M583.1 22.3m-3 0a3 3 0 1 0 6 0a3 3 0 1 0-6 0M583.1 26.6m-3 0a3 3 0 1 0 6 0a3 3 0 1 0-6 0M594.6 29.2m-3 0a3 3 0 1 0 6 0a3 3 0 1 0-6 0M597.2 27.4m-3 0a3 3 0 1 0 6 0a3 3 0 1 0-6 0M593.4 34.3m-3 0a3 3 0 1 0 6 0a3 3 0 1 0-6 0M596.7 36.8m-3 0a3 3 0 1 0 6 0a3 3 0 1 0-6 0M612.5 30.4m-3 0a3 3 0 1 0 6 0a3 3 0 1 0-6 0M633.0 24.1m-3 0a3 3 0 1 0 6 0a3 3 0 1 0-6 0M636.8 25.8m-3 0a3 3 0 1 0 6 0a3 3 0 1 0-6 0M639.4 27.9m-3 0a3 3 0 1 0 6 0a3 3 0 1 0-6 0M638.1 30.4m-3 0a3 3 0 1 0 6 0a3 3 0 1 0-6 0M640.6 29.9m-3 0a3 3 0 1 0 6 0a3 3 0 1 0-6 0M635.5 29.2m-3 0a3 3 0 1 0 6 0a3 3 0 1 0-6 0M645.7 27.9m-3 0a3 3 0 1 0 6 0a3 3 0 1 0-6 0M645.7 34.3m-3 0a3 3 0 1 0 6 0a3 3 0 1 0-6 0M647.8 35.5m-3 0a3 3 0 1 0 6 0a3 3 0 1 0-6 0M631.7 39.4m-3 0a3 3 0 1 0 6 0a3 3 0 1 0-6 0M635.5 38.1m-3 0a3 3 0 1 0 6 0a3 3 0 1 0-6 0M635.0 42.7m-3 0a3 3 0 1 0 6 0a3 3 0 1 0-6 0M591.6 41.2m-3 0a3 3 0 1 0 6 0a3 3 0 1 0-6 0M596.7 45.8m-3 0a3 3 0 1 0 6 0a3 3 0 1 0-6 0M613.8 48.3m-3 0a3 3 0 1 0 6 0a3 3 0 1 0-6 0M615.1 55.5m-3 0a3 3 0 1 0 6 0a3 3 0 1 0-6 0M622.7 47.0m-3 0a3 3 0 1 0 6 0a3 3 0 1 0-6 0M624.0 50.9m-3 0a3 3 0 1 0 6 0a3 3 0 1 0-6 0M627.9 49.6m-3 0a3 3 0 1 0 6 0a3 3 0 1 0-6 0M631.7 50.9m-3 0a3 3 0 1 0 6 0a3 3 0 1 0-6 0M635.5 53.9m-3 0a3 3 0 1 0 6 0a3 3 0 1 0-6 0M641.9 48.3m-3 0a3 3 0 1 0 6 0a3 3 0 1 0-6 0M644.5 50.9m-3 0a3 3 0 1 0 6 0a3 3 0 1 0-6 0M645.7 43.2m-3 0a3 3 0 1 0 6 0a3 3 0 1 0-6 0M648.3 49.6m-3 0a3 3 0 1 0 6 0a3 3 0 1 0-6 0M649.6 54.7m-3 0a3 3 0 1 0 6 0a3 3 0 1 0-6 0M647.0 56.0m-3 0a3 3 0 1 0 6 0a3 3 0 1 0-6 0M659.3 48.3m-3 0a3 3 0 1 0 6 0a3 3 0 1 0-6 0M582.4 58.0m-3 0a3 3 0 1 0 6 0a3 3 0 1 0-6 0M525.7 73.4m-3 0a3 3 0 1 0 6 0a3 3 0 1 0-6 0M582.6 72.6m-3 0a3 3 0 1 0 6 0a3 3 0 1 0-6 0M595.9 79.0m-3 0a3 3 0 1 0 6 0a3 3 0 1 0-6 0M602.3 71.3m-3 0a3 3 0 1 0 6 0a3 3 0 1 0-6 0M604.9 71.8m-3 0a3 3 0 1 0 6 0a3 3 0 1 0-6 0M610.0 75.2m-3 0a3 3 0 1 0 6 0a3 3 0 1 0-6 0M622.7 73.9m-3 0a3 3 0 1 0 6 0a3 3 0 1 0-6 0M626.6 70.0m-3 0a3 3 0 1 0 6 0a3 3 0 1 0-6 0M629.1 72.6m-3 0a3 3 0 1 0 6 0a3 3 0 1 0-6 0M633.0 71.3m-3 0a3 3 0 1 0 6 0a3 3 0 1 0-6 0M631.7 76.4m-3 0a3 3 0 1 0 6 0a3 3 0 1 0-6 0M644.5 62.4m-3 0a3 3 0 1 0 6 0a3 3 0 1 0-6 0M648.3 59.8m-3 0a3 3 0 1 0 6 0a3 3 0 1 0-6 0M650.9 64.9m-3 0a3 3 0 1 0 6 0a3 3 0 1 0-6 0M643.2 70.0m-3 0a3 3 0 1 0 6 0a3 3 0 1 0-6 0M652.1 71.3m-3 0a3 3 0 1 0 6 0a3 3 0 1 0-6 0M648.3 75.2m-3 0a3 3 0 1 0 6 0a3 3 0 1 0-6 0M653.4 77.7m-3 0a3 3 0 1 0 6 0a3 3 0 1 0-6 0M649.6 81.5m-3 0a3 3 0 1 0 6 0a3 3 0 1 0-6 0M660.6 80.3m-3 0a3 3 0 1 0 6 0a3 3 0 1 0-6 0M620.2 83.3m-3 0a3 3 0 1 0 6 0a3 3 0 1 0-6 0M629.9 84.1m-3 0a3 3 0 1 0 6 0a3 3 0 1 0-6 0M629.1 86.6m-3 0a3 3 0 1 0 6 0a3 3 0 1 0-6 0M648.3 85.4m-3 0a3 3 0 1 0 6 0a3 3 0 1 0-6 0M657.2 86.1m-3 0a3 3 0 1 0 6 0a3 3 0 1 0-6 0M629.1 87.6m-3 0a3 3 0 1 0 6 0a3 3 0 1 0-6 0M641.9 90.1m-3 0a3 3 0 1 0 6 0a3 3 0 1 0-6 0M645.7 88.8m-3 0a3 3 0 1 0 6 0a3 3 0 1 0-6 0M649.6 86.3m-3 0a3 3 0 1 0 6 0a3 3 0 1 0-6 0M653.4 85.0m-3 0a3 3 0 1 0 6 0a3 3 0 1 0-6 0M657.2 87.6m-3 0a3 3 0 1 0 6 0a3 3 0 1 0-6 0M659.8 92.7m-3 0a3 3 0 1 0 6 0a3 3 0 1 0-6 0M661.1 95.2m-3 0a3 3 0 1 0 6 0a3 3 0 1 0-6 0M643.2 92.7m-3 0a3 3 0 1 0 6 0a3 3 0 1 0-6 0M640.6 96.5m-3 0a3 3 0 1 0 6 0a3 3 0 1 0-6 0M645.7 95.2m-3 0a3 3 0 1 0 6 0a3 3 0 1 0-6 0M648.3 99.1m-3 0a3 3 0 1 0 6 0a3 3 0 1 0-6 0M653.4 96.5m-3 0a3 3 0 1 0 6 0a3 3 0 1 0-6 0M636.8 100.3m-3 0a3 3 0 1 0 6 0a3 3 0 1 0-6 0M634.2 102.4m-3 0a3 3 0 1 0 6 0a3 3 0 1 0-6 0M610.5 110.5m-3 0a3 3 0 1 0 6 0a3 3 0 1 0-6 0M617.1 115.7m-3 0a3 3 0 1 0 6 0a3 3 0 1 0-6 0M629.9 115.1m-3 0a3 3 0 1 0 6 0a3 3 0 1 0-6 0M635.0 110.5m-3 0a3 3 0 1 0 6 0a3 3 0 1 0-6 0M647.0 108.0m-3 0a3 3 0 1 0 6 0a3 3 0 1 0-6 0M648.3 110.5m-3 0a3 3 0 1 0 6 0a3 3 0 1 0-6 0M650.9 113.1m-3 0a3 3 0 1 0 6 0a3 3 0 1 0-6 0M654.7 106.7m-3 0a3 3 0 1 0 6 0a3 3 0 1 0-6 0M656.0 114.4m-3 0a3 3 0 1 0 6 0a3 3 0 1 0-6 0M653.4 118.2m-3 0a3 3 0 1 0 6 0a3 3 0 1 0-6 0M643.2 118.2m-3 0a3 3 0 1 0 6 0a3 3 0 1 0-6 0M645.7 123.3m-3 0a3 3 0 1 0 6 0a3 3 0 1 0-6 0M648.3 127.2m-3 0a3 3 0 1 0 6 0a3 3 0 1 0-6 0M641.9 128.4m-3 0a3 3 0 1 0 6 0a3 3 0 1 0-6 0M652.1 125.9m-3 0a3 3 0 1 0 6 0a3 3 0 1 0-6 0M654.7 123.3m-3 0a3 3 0 1 0 6 0a3 3 0 1 0-6 0M509.1 125.1m-3 0a3 3 0 1 0 6 0a3 3 0 1 0-6 0M568.3 118.2m-3 0a3 3 0 1 0 6 0a3 3 0 1 0-6 0M620.2 127.2m-3 0a3 3 0 1 0 6 0a3 3 0 1 0-6 0M640.6 134.8m-3 0a3 3 0 1 0 6 0a3 3 0 1 0-6 0M643.2 136.1m-3 0a3 3 0 1 0 6 0a3 3 0 1 0-6 0M648.3 132.3m-3 0a3 3 0 1 0 6 0a3 3 0 1 0-6 0M649.6 138.7m-3 0a3 3 0 1 0 6 0a3 3 0 1 0-6 0M658.5 133.5m-3 0a3 3 0 1 0 6 0a3 3 0 1 0-6 0M659.8 137.4m-3 0a3 3 0 1 0 6 0a3 3 0 1 0-6 0M661.1 142.5m-3 0a3 3 0 1 0 6 0a3 3 0 1 0-6 0M658.5 146.3m-3 0a3 3 0 1 0 6 0a3 3 0 1 0-6 0M623.3 143.3m-3 0a3 3 0 1 0 6 0a3 3 0 1 0-6 0M634.2 141.7m-3 0a3 3 0 1 0 6 0a3 3 0 1 0-6 0M583.9 147.6m-3 0a3 3 0 1 0 6 0a3 3 0 1 0-6 0M643.2 148.9m-3 0a3 3 0 1 0 6 0a3 3 0 1 0-6 0M648.3 146.3m-3 0a3 3 0 1 0 6 0a3 3 0 1 0-6 0M650.9 151.4m-3 0a3 3 0 1 0 6 0a3 3 0 1 0-6 0M654.7 147.6m-3 0a3 3 0 1 0 6 0a3 3 0 1 0-6 0M557.6 159.1m-3 0a3 3 0 1 0 6 0a3 3 0 1 0-6 0M591.6 164.7m-3 0a3 3 0 1 0 6 0a3 3 0 1 0-6 0M616.4 161.6m-3 0a3 3 0 1 0 6 0a3 3 0 1 0-6 0M631.7 164.2m-3 0a3 3 0 1 0 6 0a3 3 0 1 0-6 0M636.8 158.3m-3 0a3 3 0 1 0 6 0a3 3 0 1 0-6 0M649.6 156.5m-3 0a3 3 0 1 0 6 0a3 3 0 1 0-6 0M653.4 160.4m-3 0a3 3 0 1 0 6 0a3 3 0 1 0-6 0M656.0 162.9m-3 0a3 3 0 1 0 6 0a3 3 0 1 0-6 0M506.5 164.7m-3 0a3 3 0 1 0 6 0a3 3 0 1 0-6 0M506.5 167.2m-3 0a3 3 0 1 0 6 0a3 3 0 1 0-6 0M592.1 165.1m-3 0a3 3 0 1 0 6 0a3 3 0 1 0-6 0M616.4 162.6m-3 0a3 3 0 1 0 6 0a3 3 0 1 0-6 0M631.7 164.6m-3 0a3 3 0 1 0 6 0a3 3 0 1 0-6 0M643.2 167.7m-3 0a3 3 0 1 0 6 0a3 3 0 1 0-6 0M648.3 166.4m-3 0a3 3 0 1 0 6 0a3 3 0 1 0-6 0M650.9 162.6m-3 0a3 3 0 1 0 6 0a3 3 0 1 0-6 0M653.4 165.1m-3 0a3 3 0 1 0 6 0a3 3 0 1 0-6 0M654.7 170.2m-3 0a3 3 0 1 0 6 0a3 3 0 1 0-6 0M652.1 161.3m-3 0a3 3 0 1 0 6 0a3 3 0 1 0-6 0M541.0 185.0m-3 0a3 3 0 1 0 6 0a3 3 0 1 0-6 0M561.9 183.0m-3 0a3 3 0 1 0 6 0a3 3 0 1 0-6 0M564.0 181.7m-3 0a3 3 0 1 0 6 0a3 3 0 1 0-6 0M604.4 183.5m-3 0a3 3 0 1 0 6 0a3 3 0 1 0-6 0M625.3 175.8m-3 0a3 3 0 1 0 6 0a3 3 0 1 0-6 0M627.9 177.4m-3 0a3 3 0 1 0 6 0a3 3 0 1 0-6 0M637.6 183.0m-3 0a3 3 0 1 0 6 0a3 3 0 1 0-6 0M650.9 183.0m-3 0a3 3 0 1 0 6 0a3 3 0 1 0-6 0M656.0 183.5m-3 0a3 3 0 1 0 6 0a3 3 0 1 0-6 0M655.4 187.6m-3 0a3 3 0 1 0 6 0a3 3 0 1 0-6 0M547.4 202.2m-3 0a3 3 0 1 0 6 0a3 3 0 1 0-6 0M548.7 198.8m-3 0a3 3 0 1 0 6 0a3 3 0 1 0-6 0M647.8 201.4m-3 0a3 3 0 1 0 6 0a3 3 0 1 0-6 0M653.4 203.4m-3 0a3 3 0 1 0 6 0a3 3 0 1 0-6 0M657.2 198.3m-3 0a3 3 0 1 0 6 0a3 3 0 1 0-6 0M658.5 204.7m-3 0a3 3 0 1 0 6 0a3 3 0 1 0-6 0M658.5 209.8m-3 0a3 3 0 1 0 6 0a3 3 0 1 0-6 0M580.1 212.1m-3 0a3 3 0 1 0 6 0a3 3 0 1 0-6 0M617.1 208.5m-3 0a3 3 0 1 0 6 0a3 3 0 1 0-6 0M637.6 212.6m-3 0a3 3 0 1 0 6 0a3 3 0 1 0-6 0M656.0 213.7m-3 0a3 3 0 1 0 6 0a3 3 0 1 0-6 0M657.2 218.8m-3 0a3 3 0 1 0 6 0a3 3 0 1 0-6 0M658.5 223.9m-3 0a3 3 0 1 0 6 0a3 3 0 1 0-6 0M659.8 229.0m-3 0a3 3 0 1 0 6 0a3 3 0 1 0-6 0M658.5 234.1m-3 0a3 3 0 1 0 6 0a3 3 0 1 0-6 0M660.6 236.6m-3 0a3 3 0 1 0 6 0a3 3 0 1 0-6 0M604.9 219.3m-3 0a3 3 0 1 0 6 0a3 3 0 1 0-6 0M605.4 225.9m-3 0a3 3 0 1 0 6 0a3 3 0 1 0-6 0M604.9 228.5m-3 0a3 3 0 1 0 6 0a3 3 0 1 0-6 0M618.9 234.1m-3 0a3 3 0 1 0 6 0a3 3 0 1 0-6 0M638.1 236.6m-3 0a3 3 0 1 0 6 0a3 3 0 1 0-6 0M645.7 231.0m-3 0a3 3 0 1 0 6 0a3 3 0 1 0-6 0M652.1 227.7m-3 0a3 3 0 1 0 6 0a3 3 0 1 0-6 0M618.9 235.0m-3 0a3 3 0 1 0 6 0a3 3 0 1 0-6 0M638.1 237.0m-3 0a3 3 0 1 0 6 0a3 3 0 1 0-6 0M623.3 246.5m-3 0a3 3 0 1 0 6 0a3 3 0 1 0-6 0M635.5 249.1m-3 0a3 3 0 1 0 6 0a3 3 0 1 0-6 0M636.8 252.9m-3 0a3 3 0 1 0 6 0a3 3 0 1 0-6 0M638.1 255.4m-3 0a3 3 0 1 0 6 0a3 3 0 1 0-6 0M640.6 257.5m-3 0a3 3 0 1 0 6 0a3 3 0 1 0-6 0M652.1 249.1m-3 0a3 3 0 1 0 6 0a3 3 0 1 0-6 0M654.7 245.2m-3 0a3 3 0 1 0 6 0a3 3 0 1 0-6 0M656.0 241.4m-3 0a3 3 0 1 0 6 0a3 3 0 1 0-6 0M658.5 237.6m-3 0a3 3 0 1 0 6 0a3 3 0 1 0-6 0M659.8 242.7m-3 0a3 3 0 1 0 6 0a3 3 0 1 0-6 0M661.1 247.8m-3 0a3 3 0 1 0 6 0a3 3 0 1 0-6 0M662.3 252.9m-3 0a3 3 0 1 0 6 0a3 3 0 1 0-6 0M661.1 260.5m-3 0a3 3 0 1 0 6 0a3 3 0 1 0-6 0M662.3 264.4m-3 0a3 3 0 1 0 6 0a3 3 0 1 0-6 0M641.9 264.4m-3 0a3 3 0 1 0 6 0a3 3 0 1 0-6 0M648.3 266.9m-3 0a3 3 0 1 0 6 0a3 3 0 1 0-6 0M653.4 270.8m-3 0a3 3 0 1 0 6 0a3 3 0 1 0-6 0M652.1 274.6m-3 0a3 3 0 1 0 6 0a3 3 0 1 0-6 0M649.6 277.2m-3 0a3 3 0 1 0 6 0a3 3 0 1 0-6 0M653.4 279.7m-3 0a3 3 0 1 0 6 0a3 3 0 1 0-6 0M656.0 275.9m-3 0a3 3 0 1 0 6 0a3 3 0 1 0-6 0M661.1 279.7m-3 0a3 3 0 1 0 6 0a3 3 0 1 0-6 0M658.5 283.5m-3 0a3 3 0 1 0 6 0a3 3 0 1 0-6 0M649.6 293.8m-3 0a3 3 0 1 0 6 0a3 3 0 1 0-6 0M653.4 297.6m-3 0a3 3 0 1 0 6 0a3 3 0 1 0-6 0M656.0 301.4m-3 0a3 3 0 1 0 6 0a3 3 0 1 0-6 0M658.5 306.5m-3 0a3 3 0 1 0 6 0a3 3 0 1 0-6 0M653.4 310.4m-3 0a3 3 0 1 0 6 0a3 3 0 1 0-6 0M659.8 311.6m-3 0a3 3 0 1 0 6 0a3 3 0 1 0-6 0M662.3 291.2m-3 0a3 3 0 1 0 6 0a3 3 0 1 0-6 0M652.9 20.0m-3 0a3 3 0 1 0 6 0a3 3 0 1 0-6 0M656.0 23.6m-3 0a3 3 0 1 0 6 0a3 3 0 1 0-6 0M654.7 27.2m-3 0a3 3 0 1 0 6 0a3 3 0 1 0-6 0M648.7 30.8m-3 0a3 3 0 1 0 6 0a3 3 0 1 0-6 0M649.7 34.4m-3 0a3 3 0 1 0 6 0a3 3 0 1 0-6 0M655.9 38.0m-3 0a3 3 0 1 0 6 0a3 3 0 1 0-6 0M646.8 41.6m-3 0a3 3 0 1 0 6 0a3 3 0 1 0-6 0M655.4 45.2m-3 0a3 3 0 1 0 6 0a3 3 0 1 0-6 0M655.1 48.8m-3 0a3 3 0 1 0 6 0a3 3 0 1 0-6 0M651.9 52.4m-3 0a3 3 0 1 0 6 0a3 3 0 1 0-6 0M650.3 56.0m-3 0a3 3 0 1 0 6 0a3 3 0 1 0-6 0M650.2 59.6m-3 0a3 3 0 1 0 6 0a3 3 0 1 0-6 0M650.1 63.2m-3 0a3 3 0 1 0 6 0a3 3 0 1 0-6 0M652.0 66.8m-3 0a3 3 0 1 0 6 0a3 3 0 1 0-6 0M652.6 70.4m-3 0a3 3 0 1 0 6 0a3 3 0 1 0-6 0M653.1 74.0m-3 0a3 3 0 1 0 6 0a3 3 0 1 0-6 0M657.2 77.6m-3 0a3 3 0 1 0 6 0a3 3 0 1 0-6 0M655.4 81.2m-3 0a3 3 0 1 0 6 0a3 3 0 1 0-6 0M653.9 84.8m-3 0a3 3 0 1 0 6 0a3 3 0 1 0-6 0M657.1 88.4m-3 0a3 3 0 1 0 6 0a3 3 0 1 0-6 0M651.4 90.0m-3 0a3 3 0 1 0 6 0a3 3 0 1 0-6 0M650.8 92.2m-3 0a3 3 0 1 0 6 0a3 3 0 1 0-6 0M656.1 94.4m-3 0a3 3 0 1 0 6 0a3 3 0 1 0-6 0M649.5 96.6m-3 0a3 3 0 1 0 6 0a3 3 0 1 0-6 0M649.5 98.8m-3 0a3 3 0 1 0 6 0a3 3 0 1 0-6 0M655.1 101.0m-3 0a3 3 0 1 0 6 0a3 3 0 1 0-6 0M654.5 103.2m-3 0a3 3 0 1 0 6 0a3 3 0 1 0-6 0M659.7 105.4m-3 0a3 3 0 1 0 6 0a3 3 0 1 0-6 0M656.5 107.6m-3 0a3 3 0 1 0 6 0a3 3 0 1 0-6 0M655.2 109.8m-3 0a3 3 0 1 0 6 0a3 3 0 1 0-6 0M655.0 112.0m-3 0a3 3 0 1 0 6 0a3 3 0 1 0-6 0M652.2 114.2m-3 0a3 3 0 1 0 6 0a3 3 0 1 0-6 0M649.6 116.4m-3 0a3 3 0 1 0 6 0a3 3 0 1 0-6 0M651.7 118.6m-3 0a3 3 0 1 0 6 0a3 3 0 1 0-6 0M657.3 120.8m-3 0a3 3 0 1 0 6 0a3 3 0 1 0-6 0M651.9 123.0m-3 0a3 3 0 1 0 6 0a3 3 0 1 0-6 0M653.8 125.2m-3 0a3 3 0 1 0 6 0a3 3 0 1 0-6 0M649.8 127.4m-3 0a3 3 0 1 0 6 0a3 3 0 1 0-6 0M658.9 129.6m-3 0a3 3 0 1 0 6 0a3 3 0 1 0-6 0M651.6 131.8m-3 0a3 3 0 1 0 6 0a3 3 0 1 0-6 0M652.8 134.0m-3 0a3 3 0 1 0 6 0a3 3 0 1 0-6 0M659.4 136.2m-3 0a3 3 0 1 0 6 0a3 3 0 1 0-6 0M655.5 138.4m-3 0a3 3 0 1 0 6 0a3 3 0 1 0-6 0M659.1 140.6m-3 0a3 3 0 1 0 6 0a3 3 0 1 0-6 0M656.9 142.8m-3 0a3 3 0 1 0 6 0a3 3 0 1 0-6 0M658.0 145.0m-3 0a3 3 0 1 0 6 0a3 3 0 1 0-6 0M651.3 147.2m-3 0a3 3 0 1 0 6 0a3 3 0 1 0-6 0M656.0 149.4m-3 0a3 3 0 1 0 6 0a3 3 0 1 0-6 0M655.7 151.6m-3 0a3 3 0 1 0 6 0a3 3 0 1 0-6 0M659.4 153.8m-3 0a3 3 0 1 0 6 0a3 3 0 1 0-6 0M654.2 156.0m-3 0a3 3 0 1 0 6 0a3 3 0 1 0-6 0M656.6 158.2m-3 0a3 3 0 1 0 6 0a3 3 0 1 0-6 0M651.3 160.4m-3 0a3 3 0 1 0 6 0a3 3 0 1 0-6 0M654.6 162.6m-3 0a3 3 0 1 0 6 0a3 3 0 1 0-6 0M654.0 164.8m-3 0a3 3 0 1 0 6 0a3 3 0 1 0-6 0M652.3 165.0m-3 0a3 3 0 1 0 6 0a3 3 0 1 0-6 0M658.9 167.2m-3 0a3 3 0 1 0 6 0a3 3 0 1 0-6 0M654.5 169.4m-3 0a3 3 0 1 0 6 0a3 3 0 1 0-6 0M660.5 171.6m-3 0a3 3 0 1 0 6 0a3 3 0 1 0-6 0M656.6 173.8m-3 0a3 3 0 1 0 6 0a3 3 0 1 0-6 0M656.7 176.0m-3 0a3 3 0 1 0 6 0a3 3 0 1 0-6 0M657.1 178.2m-3 0a3 3 0 1 0 6 0a3 3 0 1 0-6 0M657.4 180.4m-3 0a3 3 0 1 0 6 0a3 3 0 1 0-6 0M652.1 182.6m-3 0a3 3 0 1 0 6 0a3 3 0 1 0-6 0M655.0 184.8m-3 0a3 3 0 1 0 6 0a3 3 0 1 0-6 0M653.0 187.0m-3 0a3 3 0 1 0 6 0a3 3 0 1 0-6 0M654.6 189.2m-3 0a3 3 0 1 0 6 0a3 3 0 1 0-6 0M651.5 191.4m-3 0a3 3 0 1 0 6 0a3 3 0 1 0-6 0M660.4 193.6m-3 0a3 3 0 1 0 6 0a3 3 0 1 0-6 0M652.7 195.8m-3 0a3 3 0 1 0 6 0a3 3 0 1 0-6 0M657.3 198.0m-3 0a3 3 0 1 0 6 0a3 3 0 1 0-6 0M653.5 200.2m-3 0a3 3 0 1 0 6 0a3 3 0 1 0-6 0M659.4 202.4m-3 0a3 3 0 1 0 6 0a3 3 0 1 0-6 0M657.2 204.6m-3 0a3 3 0 1 0 6 0a3 3 0 1 0-6 0M651.7 206.8m-3 0a3 3 0 1 0 6 0a3 3 0 1 0-6 0M659.1 209.0m-3 0a3 3 0 1 0 6 0a3 3 0 1 0-6 0M660.1 211.2m-3 0a3 3 0 1 0 6 0a3 3 0 1 0-6 0M659.7 213.4m-3 0a3 3 0 1 0 6 0a3 3 0 1 0-6 0M656.2 215.6m-3 0a3 3 0 1 0 6 0a3 3 0 1 0-6 0M651.7 217.8m-3 0a3 3 0 1 0 6 0a3 3 0 1 0-6 0M652.2 220.0m-3 0a3 3 0 1 0 6 0a3 3 0 1 0-6 0M659.9 222.2m-3 0a3 3 0 1 0 6 0a3 3 0 1 0-6 0M656.0 224.4m-3 0a3 3 0 1 0 6 0a3 3 0 1 0-6 0M652.0 226.6m-3 0a3 3 0 1 0 6 0a3 3 0 1 0-6 0M659.5 228.8m-3 0a3 3 0 1 0 6 0a3 3 0 1 0-6 0M656.9 231.0m-3 0a3 3 0 1 0 6 0a3 3 0 1 0-6 0M656.1 233.2m-3 0a3 3 0 1 0 6 0a3 3 0 1 0-6 0M654.0 235.4m-3 0a3 3 0 1 0 6 0a3 3 0 1 0-6 0M654.4 237.6m-3 0a3 3 0 1 0 6 0a3 3 0 1 0-6 0M652.6 239.8m-3 0a3 3 0 1 0 6 0a3 3 0 1 0-6 0M650.4 242.0m-3 0a3 3 0 1 0 6 0a3 3 0 1 0-6 0M659.4 244.2m-3 0a3 3 0 1 0 6 0a3 3 0 1 0-6 0M655.0 246.4m-3 0a3 3 0 1 0 6 0a3 3 0 1 0-6 0M655.8 248.6m-3 0a3 3 0 1 0 6 0a3 3 0 1 0-6 0M653.4 250.8m-3 0a3 3 0 1 0 6 0a3 3 0 1 0-6 0M658.0 253.0m-3 0a3 3 0 1 0 6 0a3 3 0 1 0-6 0M650.1 255.2m-3 0a3 3 0 1 0 6 0a3 3 0 1 0-6 0M653.9 257.0m-3 0a3 3 0 1 0 6 0a3 3 0 1 0-6 0M650.2 257.9m-3 0a3 3 0 1 0 6 0a3 3 0 1 0-6 0M651.3 258.8m-3 0a3 3 0 1 0 6 0a3 3 0 1 0-6 0M660.5 259.7m-3 0a3 3 0 1 0 6 0a3 3 0 1 0-6 0M657.2 260.6m-3 0a3 3 0 1 0 6 0a3 3 0 1 0-6 0M654.9 261.5m-3 0a3 3 0 1 0 6 0a3 3 0 1 0-6 0M655.9 262.4m-3 0a3 3 0 1 0 6 0a3 3 0 1 0-6 0M659.6 263.3m-3 0a3 3 0 1 0 6 0a3 3 0 1 0-6 0M654.2 264.2m-3 0a3 3 0 1 0 6 0a3 3 0 1 0-6 0M656.7 265.1m-3 0a3 3 0 1 0 6 0a3 3 0 1 0-6 0M657.7 266.0m-3 0a3 3 0 1 0 6 0a3 3 0 1 0-6 0M654.5 266.9m-3 0a3 3 0 1 0 6 0a3 3 0 1 0-6 0M656.2 267.8m-3 0a3 3 0 1 0 6 0a3 3 0 1 0-6 0M658.6 268.7m-3 0a3 3 0 1 0 6 0a3 3 0 1 0-6 0M660.0 269.6m-3 0a3 3 0 1 0 6 0a3 3 0 1 0-6 0M652.8 270.5m-3 0a3 3 0 1 0 6 0a3 3 0 1 0-6 0M660.3 271.4m-3 0a3 3 0 1 0 6 0a3 3 0 1 0-6 0M651.6 272.3m-3 0a3 3 0 1 0 6 0a3 3 0 1 0-6 0M658.6 273.2m-3 0a3 3 0 1 0 6 0a3 3 0 1 0-6 0M659.2 274.1m-3 0a3 3 0 1 0 6 0a3 3 0 1 0-6 0M653.1 275.0m-3 0a3 3 0 1 0 6 0a3 3 0 1 0-6 0M655.7 275.9m-3 0a3 3 0 1 0 6 0a3 3 0 1 0-6 0M659.3 276.8m-3 0a3 3 0 1 0 6 0a3 3 0 1 0-6 0M652.3 277.7m-3 0a3 3 0 1 0 6 0a3 3 0 1 0-6 0M657.7 278.6m-3 0a3 3 0 1 0 6 0a3 3 0 1 0-6 0M659.1 279.5m-3 0a3 3 0 1 0 6 0a3 3 0 1 0-6 0M656.8 280.4m-3 0a3 3 0 1 0 6 0a3 3 0 1 0-6 0M658.6 281.3m-3 0a3 3 0 1 0 6 0a3 3 0 1 0-6 0M654.6 282.2m-3 0a3 3 0 1 0 6 0a3 3 0 1 0-6 0M654.4 283.1m-3 0a3 3 0 1 0 6 0a3 3 0 1 0-6 0M655.8 284.0m-3 0a3 3 0 1 0 6 0a3 3 0 1 0-6 0M654.5 284.9m-3 0a3 3 0 1 0 6 0a3 3 0 1 0-6 0M655.8 285.8m-3 0a3 3 0 1 0 6 0a3 3 0 1 0-6 0M660.5 286.7m-3 0a3 3 0 1 0 6 0a3 3 0 1 0-6 0M657.7 287.6m-3 0a3 3 0 1 0 6 0a3 3 0 1 0-6 0M656.0 288.5m-3 0a3 3 0 1 0 6 0a3 3 0 1 0-6 0M655.6 289.4m-3 0a3 3 0 1 0 6 0a3 3 0 1 0-6 0M660.6 290.3m-3 0a3 3 0 1 0 6 0a3 3 0 1 0-6 0M656.9 291.2m-3 0a3 3 0 1 0 6 0a3 3 0 1 0-6 0M660.8 292.1m-3 0a3 3 0 1 0 6 0a3 3 0 1 0-6 0M657.6 293.0m-3 0a3 3 0 1 0 6 0a3 3 0 1 0-6 0M657.6 293.9m-3 0a3 3 0 1 0 6 0a3 3 0 1 0-6 0M660.2 294.8m-3 0a3 3 0 1 0 6 0a3 3 0 1 0-6 0M659.2 295.7m-3 0a3 3 0 1 0 6 0a3 3 0 1 0-6 0M658.2 296.6m-3 0a3 3 0 1 0 6 0a3 3 0 1 0-6 0M657.2 297.5m-3 0a3 3 0 1 0 6 0a3 3 0 1 0-6 0M660.1 298.4m-3 0a3 3 0 1 0 6 0a3 3 0 1 0-6 0M657.3 299.3m-3 0a3 3 0 1 0 6 0a3 3 0 1 0-6 0M660.4 300.0m-3 0a3 3 0 1 0 6 0a3 3 0 1 0-6 0M654.3 300.9m-3 0a3 3 0 1 0 6 0a3 3 0 1 0-6 0M656.9 301.8m-3 0a3 3 0 1 0 6 0a3 3 0 1 0-6 0M657.5 302.7m-3 0a3 3 0 1 0 6 0a3 3 0 1 0-6 0M660.6 303.6m-3 0a3 3 0 1 0 6 0a3 3 0 1 0-6 0M655.7 304.5m-3 0a3 3 0 1 0 6 0a3 3 0 1 0-6 0M659.6 305.4m-3 0a3 3 0 1 0 6 0a3 3 0 1 0-6 0M658.7 306.3m-3 0a3 3 0 1 0 6 0a3 3 0 1 0-6 0M659.0 307.2m-3 0a3 3 0 1 0 6 0a3 3 0 1 0-6 0M658.4 308.1m-3 0a3 3 0 1 0 6 0a3 3 0 1 0-6 0M660.7 309.0m-3 0a3 3 0 1 0 6 0a3 3 0 1 0-6 0M656.5 309.9m-3 0a3 3 0 1 0 6 0a3 3 0 1 0-6 0M656.9 310.8m-3 0a3 3 0 1 0 6 0a3 3 0 1 0-6 0M655.7 311.7m-3 0a3 3 0 1 0 6 0a3 3 0 1 0-6 0M654.7 312.6m-3 0a3 3 0 1 0 6 0a3 3 0 1 0-6 0M655.8 313.5m-3 0a3 3 0 1 0 6 0a3 3 0 1 0-6 0M660.4 314.4m-3 0a3 3 0 1 0 6 0a3 3 0 1 0-6 0M659.9 315.3m-3 0a3 3 0 1 0 6 0a3 3 0 1 0-6 0M655.2 316.2m-3 0a3 3 0 1 0 6 0a3 3 0 1 0-6 0M658.4 317.1m-3 0a3 3 0 1 0 6 0a3 3 0 1 0-6 0M657.6 318.0m-3 0a3 3 0 1 0 6 0a3 3 0 1 0-6 0M658.4 318.9m-3 0a3 3 0 1 0 6 0a3 3 0 1 0-6 0M658.8 319.8m-3 0a3 3 0 1 0 6 0a3 3 0 1 0-6 0M656.6 320.7m-3 0a3 3 0 1 0 6 0a3 3 0 1 0-6 0M660.7 321.6m-3 0a3 3 0 1 0 6 0a3 3 0 1 0-6 0M657.6 322.5m-3 0a3 3 0 1 0 6 0a3 3 0 1 0-6 0M658.6 323.4m-3 0a3 3 0 1 0 6 0a3 3 0 1 0-6 0M658.7 324.3m-3 0a3 3 0 1 0 6 0a3 3 0 1 0-6 0M656.0 325.2m-3 0a3 3 0 1 0 6 0a3 3 0 1 0-6 0M655.3 326.1m-3 0a3 3 0 1 0 6 0a3 3 0 1 0-6 0M657.4 327.0m-3 0a3 3 0 1 0 6 0a3 3 0 1 0-6 0M659.5 327.9m-3 0a3 3 0 1 0 6 0a3 3 0 1 0-6 0M659.8 328.8m-3 0a3 3 0 1 0 6 0a3 3 0 1 0-6 0M659.3 329.7m-3 0a3 3 0 1 0 6 0a3 3 0 1 0-6 0M655.8 330.6m-3 0a3 3 0 1 0 6 0a3 3 0 1 0-6 0M660.4 331.5m-3 0a3 3 0 1 0 6 0a3 3 0 1 0-6 0M659.8 332.4m-3 0a3 3 0 1 0 6 0a3 3 0 1 0-6 0M660.2 333.3m-3 0a3 3 0 1 0 6 0a3 3 0 1 0-6 0M658.2 334.2m-3 0a3 3 0 1 0 6 0a3 3 0 1 0-6 0M660.4 335.1m-3 0a3 3 0 1 0 6 0a3 3 0 1 0-6 0M655.7 336.0m-3 0a3 3 0 1 0 6 0a3 3 0 1 0-6 0M655.6 336.9m-3 0a3 3 0 1 0 6 0a3 3 0 1 0-6 0M655.6 337.8m-3 0a3 3 0 1 0 6 0a3 3 0 1 0-6 0M656.9 338.7m-3 0a3 3 0 1 0 6 0a3 3 0 1 0-6 0M656.9 339.6m-3 0a3 3 0 1 0 6 0a3 3 0 1 0-6 0M656.6 340.5m-3 0a3 3 0 1 0 6 0a3 3 0 1 0-6 0M658.6 341.4m-3 0a3 3 0 1 0 6 0a3 3 0 1 0-6 0M655.9 342.3m-3 0a3 3 0 1 0 6 0a3 3 0 1 0-6 0M658.8 343.2m-3 0a3 3 0 1 0 6 0a3 3 0 1 0-6 0M656.6 344.1m-3 0a3 3 0 1 0 6 0a3 3 0 1 0-6 0M659.6 345.0m-3 0a3 3 0 1 0 6 0a3 3 0 1 0-6 0M656.9 345.9m-3 0a3 3 0 1 0 6 0a3 3 0 1 0-6 0M658.1 346.8m-3 0a3 3 0 1 0 6 0a3 3 0 1 0-6 0M660.7 347.7m-3 0a3 3 0 1 0 6 0a3 3 0 1 0-6 0M659.1 348.6m-3 0a3 3 0 1 0 6 0a3 3 0 1 0-6 0M660.1 349.5m-3 0a3 3 0 1 0 6 0a3 3 0 1 0-6 0M659.5 350.4m-3 0a3 3 0 1 0 6 0a3 3 0 1 0-6 0M659.4 351.3m-3 0a3 3 0 1 0 6 0a3 3 0 1 0-6 0M657.7 352.2m-3 0a3 3 0 1 0 6 0a3 3 0 1 0-6 0M659.2 353.1m-3 0a3 3 0 1 0 6 0a3 3 0 1 0-6 0M657.2 354.0m-3 0a3 3 0 1 0 6 0a3 3 0 1 0-6 0M660.1 354.9m-3 0a3 3 0 1 0 6 0a3 3 0 1 0-6 0M660.7 355.8m-3 0a3 3 0 1 0 6 0a3 3 0 1 0-6 0M660.3 356.7m-3 0a3 3 0 1 0 6 0a3 3 0 1 0-6 0M657.3 357.6m-3 0a3 3 0 1 0 6 0a3 3 0 1 0-6 0M658.4 358.5m-3 0a3 3 0 1 0 6 0a3 3 0 1 0-6 0M658.4 359.4m-3 0a3 3 0 1 0 6 0a3 3 0 1 0-6 0M657.6 360.3m-3 0a3 3 0 1 0 6 0a3 3 0 1 0-6 0M659.5 361.2m-3 0a3 3 0 1 0 6 0a3 3 0 1 0-6 0M660.2 362.1m-3 0a3 3 0 1 0 6 0a3 3 0 1 0-6 0M658.4 363.0m-3 0a3 3 0 1 0 6 0a3 3 0 1 0-6 0M660.4 363.9m-3 0a3 3 0 1 0 6 0a3 3 0 1 0-6 0M660.2 364.8m-3 0a3 3 0 1 0 6 0a3 3 0 1 0-6 0M657.8 365.7m-3 0a3 3 0 1 0 6 0a3 3 0 1 0-6 0M660.1 366.6m-3 0a3 3 0 1 0 6 0a3 3 0 1 0-6 0M660.5 367.5m-3 0a3 3 0 1 0 6 0a3 3 0 1 0-6 0M658.1 368.4m-3 0a3 3 0 1 0 6 0a3 3 0 1 0-6 0M659.4 369.3m-3 0a3 3 0 1 0 6 0a3 3 0 1 0-6 0M659.7 370.2m-3 0a3 3 0 1 0 6 0a3 3 0 1 0-6 0M659.6 371.1m-3 0a3 3 0 1 0 6 0a3 3 0 1 0-6 0M657.8 372.0m-3 0a3 3 0 1 0 6 0a3 3 0 1 0-6 0M659.8 372.9m-3 0a3 3 0 1 0 6 0a3 3 0 1 0-6 0M659.7 373.8m-3 0a3 3 0 1 0 6 0a3 3 0 1 0-6 0M660.3 374.7m-3 0a3 3 0 1 0 6 0a3 3 0 1 0-6 0M660.3 375.6m-3 0a3 3 0 1 0 6 0a3 3 0 1 0-6 0M658.7 376.5m-3 0a3 3 0 1 0 6 0a3 3 0 1 0-6 0M660.0 377.4m-3 0a3 3 0 1 0 6 0a3 3 0 1 0-6 0M660.5 378.3m-3 0a3 3 0 1 0 6 0a3 3 0 1 0-6 0M660.6 379.2m-3 0a3 3 0 1 0 6 0a3 3 0 1 0-6 0M658.2 380.1m-3 0a3 3 0 1 0 6 0a3 3 0 1 0-6 0M657.8 381.0m-3 0a3 3 0 1 0 6 0a3 3 0 1 0-6 0M659.8 381.9m-3 0a3 3 0 1 0 6 0a3 3 0 1 0-6 0M658.5 382.8m-3 0a3 3 0 1 0 6 0a3 3 0 1 0-6 0M659.6 383.7m-3 0a3 3 0 1 0 6 0a3 3 0 1 0-6 0M660.7 384.6m-3 0a3 3 0 1 0 6 0a3 3 0 1 0-6 0M659.0 385.5m-3 0a3 3 0 1 0 6 0a3 3 0 1 0-6 0M658.7 386.4m-3 0a3 3 0 1 0 6 0a3 3 0 1 0-6 0M659.3 387.3m-3 0a3 3 0 1 0 6 0a3 3 0 1 0-6 0M659.9 388.2m-3 0a3 3 0 1 0 6 0a3 3 0 1 0-6 0M658.3 389.1m-3 0a3 3 0 1 0 6 0a3 3 0 1 0-6 0M659.1 390.0m-3 0a3 3 0 1 0 6 0a3 3 0 1 0-6 0M658.4 390.9m-3 0a3 3 0 1 0 6 0a3 3 0 1 0-6 0M659.9 391.8m-3 0a3 3 0 1 0 6 0a3 3 0 1 0-6 0M660.4 392.7m-3 0a3 3 0 1 0 6 0a3 3 0 1 0-6 0M659.1 393.6m-3 0a3 3 0 1 0 6 0a3 3 0 1 0-6 0M659.1 394.5m-3 0a3 3 0 1 0 6 0a3 3 0 1 0-6 0M659.6 395.4m-3 0a3 3 0 1 0 6 0a3 3 0 1 0-6 0M658.7 396.3m-3 0a3 3 0 1 0 6 0a3 3 0 1 0-6 0M658.8 397.2m-3 0a3 3 0 1 0 6 0a3 3 0 1 0-6 0M659.1 398.1m-3 0a3 3 0 1 0 6 0a3 3 0 1 0-6 0M659.4 399.0m-3 0a3 3 0 1 0 6 0a3 3 0 1 0-6 0M658.5 399.9m-3 0a3 3 0 1 0 6 0a3 3 0 1 0-6 0M660.2 400.8m-3 0a3 3 0 1 0 6 0a3 3 0 1 0-6 0M659.8 401.7m-3 0a3 3 0 1 0 6 0a3 3 0 1 0-6 0M659.1 402.6m-3 0a3 3 0 1 0 6 0a3 3 0 1 0-6 0M658.5 403.5m-3 0a3 3 0 1 0 6 0a3 3 0 1 0-6 0M660.3 404.4m-3 0a3 3 0 1 0 6 0a3 3 0 1 0-6 0M658.7 405.3m-3 0a3 3 0 1 0 6 0a3 3 0 1 0-6 0M658.7 406.2m-3 0a3 3 0 1 0 6 0a3 3 0 1 0-6 0M658.8 407.1m-3 0a3 3 0 1 0 6 0a3 3 0 1 0-6 0M658.7 408.0m-3 0a3 3 0 1 0 6 0a3 3 0 1 0-6 0M660.7 408.9m-3 0a3 3 0 1 0 6 0a3 3 0 1 0-6 0M659.2 409.8m-3 0a3 3 0 1 0 6 0a3 3 0 1 0-6 0M659.3 410.7m-3 0a3 3 0 1 0 6 0a3 3 0 1 0-6 0M660.5 411.6m-3 0a3 3 0 1 0 6 0a3 3 0 1 0-6 0M660.0 412.5m-3 0a3 3 0 1 0 6 0a3 3 0 1 0-6 0M659.0 413.4m-3 0a3 3 0 1 0 6 0a3 3 0 1 0-6 0M659.6 414.3m-3 0a3 3 0 1 0 6 0a3 3 0 1 0-6 0M660.6 415.2m-3 0a3 3 0 1 0 6 0a3 3 0 1 0-6 0M659.5 416.1m-3 0a3 3 0 1 0 6 0a3 3 0 1 0-6 0M660.3 417.0m-3 0a3 3 0 1 0 6 0a3 3 0 1 0-6 0M658.9 417.9m-3 0a3 3 0 1 0 6 0a3 3 0 1 0-6 0M660.3 418.8m-3 0a3 3 0 1 0 6 0a3 3 0 1 0-6 0M660.4 419.7m-3 0a3 3 0 1 0 6 0a3 3 0 1 0-6 0M660.5 420.6m-3 0a3 3 0 1 0 6 0a3 3 0 1 0-6 0M660.2 421.5m-3 0a3 3 0 1 0 6 0a3 3 0 1 0-6 0M659.6 422.4m-3 0a3 3 0 1 0 6 0a3 3 0 1 0-6 0M659.0 423.3m-3 0a3 3 0 1 0 6 0a3 3 0 1 0-6 0M659.9 424.2m-3 0a3 3 0 1 0 6 0a3 3 0 1 0-6 0M660.4 425.1m-3 0a3 3 0 1 0 6 0a3 3 0 1 0-6 0M659.3 426.0m-3 0a3 3 0 1 0 6 0a3 3 0 1 0-6 0M659.5 426.9m-3 0a3 3 0 1 0 6 0a3 3 0 1 0-6 0M660.0 427.8m-3 0a3 3 0 1 0 6 0a3 3 0 1 0-6 0M660.4 428.7m-3 0a3 3 0 1 0 6 0a3 3 0 1 0-6 0M660.7 429.6m-3 0a3 3 0 1 0 6 0a3 3 0 1 0-6 0M659.3 430.5m-3 0a3 3 0 1 0 6 0a3 3 0 1 0-6 0M659.4 431.4m-3 0a3 3 0 1 0 6 0a3 3 0 1 0-6 0M660.5 432.3m-3 0a3 3 0 1 0 6 0a3 3 0 1 0-6 0M660.3 433.2m-3 0a3 3 0 1 0 6 0a3 3 0 1 0-6 0M660.4 434.1m-3 0a3 3 0 1 0 6 0a3 3 0 1 0-6 0M660.9 435.0m-3 0a3 3 0 1 0 6 0a3 3 0 1 0-6 0M660.8 435.9m-3 0a3 3 0 1 0 6 0a3 3 0 1 0-6 0M660.6 436.8m-3 0a3 3 0 1 0 6 0a3 3 0 1 0-6 0M660.5 437.7m-3 0a3 3 0 1 0 6 0a3 3 0 1 0-6 0M659.9 438.6m-3 0a3 3 0 1 0 6 0a3 3 0 1 0-6 0M660.3 439.5m-3 0a3 3 0 1 0 6 0a3 3 0 1 0-6 0"/></g>
<rect x="496.70" y="12.80" width="172.10" height="427.80" fill="none" stroke="#000" stroke-width="2.7"/><line x1="491.8" y1="440.66" x2="496.70" y2="440.66" stroke="#000" stroke-width="2.7"/><line x1="491.8" y1="379.54" x2="496.70" y2="379.54" stroke="#000" stroke-width="2.7"/><line x1="491.8" y1="318.42" x2="496.70" y2="318.42" stroke="#000" stroke-width="2.7"/><line x1="491.8" y1="257.30" x2="496.70" y2="257.30" stroke="#000" stroke-width="2.7"/><line x1="491.8" y1="196.18" x2="496.70" y2="196.18" stroke="#000" stroke-width="2.7"/><line x1="491.8" y1="135.06" x2="496.70" y2="135.06" stroke="#000" stroke-width="2.7"/><line x1="491.8" y1="73.94" x2="496.70" y2="73.94" stroke="#000" stroke-width="2.7"/><line x1="491.8" y1="12.82" x2="496.70" y2="12.82" stroke="#000" stroke-width="2.7"/><line x1="496.70" y1="440.60" x2="496.70" y2="445.90" stroke="#000" stroke-width="2.7"/><text x="477.80" y="470.90" class="ty" textLength="37.8" lengthAdjust="spacingAndGlyphs">0.0</text><line x1="578.60" y1="440.60" x2="578.60" y2="445.90" stroke="#000" stroke-width="2.7"/><text x="559.70" y="470.90" class="ty" textLength="37.8" lengthAdjust="spacingAndGlyphs">0.5</text><line x1="660.50" y1="440.60" x2="660.50" y2="445.90" stroke="#000" stroke-width="2.7"/><text x="640.80" y="470.90" class="ty" textLength="37.8" lengthAdjust="spacingAndGlyphs">1.0</text><text x="581.70" y="499.30" class="tl" text-anchor="middle" textLength="160.5" lengthAdjust="spacingAndGlyphs">projectability</text><text x="436" y="20.80" class="tl" textLength="33" lengthAdjust="spacingAndGlyphs">(b)</text>
<g clip-path="url(#clipC)"><line x1="106.00" y1="768.50" x2="421.60" y2="768.50" stroke="#0000ff" stroke-width="5.2" stroke-dasharray="19.5 8.25"/><line x1="106.00" y1="707.50" x2="421.60" y2="707.50" stroke="#ffa500" stroke-width="5.2" stroke-dasharray="33.6 8.3 5.3 8.3"/><polygon points="106.5,769.3 109.1,769.3 111.8,769.3 114.4,769.3 117.1,769.3 119.7,769.4 122.4,769.4 125.0,769.4 127.7,769.4 130.3,769.4 133.0,769.4 135.6,769.4 138.3,769.4 140.9,769.4 143.6,769.4 146.2,769.4 148.9,769.4 151.5,769.4 154.2,769.5 156.8,769.5 159.5,769.5 162.1,769.5 164.8,769.5 167.4,769.5 170.0,769.5 172.7,769.5 175.3,769.5 178.0,769.5 180.6,769.5 183.3,769.5 185.9,769.5 188.6,769.6 191.2,769.6 193.9,769.6 196.5,769.6 199.2,769.6 201.8,769.6 204.5,769.6 207.1,769.6 209.8,769.6 212.4,769.6 215.1,769.6 217.7,769.6 220.4,769.6 223.0,769.7 225.7,769.7 228.3,769.7 231.0,769.7 233.6,769.7 236.2,769.7 238.9,769.7 241.5,769.7 244.2,769.7 246.8,769.7 249.5,769.7 252.1,769.7 254.8,769.7 257.4,769.8 260.1,769.8 262.7,769.8 265.4,769.8 268.0,769.8 270.7,769.8 273.3,769.8 276.0,769.8 278.6,769.8 281.3,769.8 283.9,769.8 286.6,769.8 289.2,769.8 291.9,769.9 294.5,769.9 297.1,769.9 299.8,769.9 302.4,769.9 305.1,769.9 307.7,769.9 310.4,769.9 313.0,769.9 315.7,769.9 318.3,769.9 321.0,769.9 323.6,769.9 326.3,770.0 328.9,770.0 331.6,770.0 334.2,770.0 336.9,770.0 339.5,770.0 342.2,770.0 344.8,770.0 347.5,770.0 350.1,770.0 352.8,770.0 355.4,770.0 358.1,770.0 360.7,770.1 363.3,770.1 366.0,770.1 368.6,770.1 371.3,770.1 373.9,770.1 376.6,770.1 379.2,770.1 381.9,770.1 384.5,770.1 387.2,770.1 389.8,770.1 392.5,770.1 395.1,770.2 397.8,770.2 400.4,770.2 403.1,770.2 405.7,770.2 408.4,770.2 411.0,770.2 413.7,770.2 416.3,770.2 419.0,770.2 421.6,770.2 421.6,782.6 419.0,782.6 416.3,782.6 413.7,782.6 411.0,782.6 408.4,782.6 405.7,782.6 403.1,782.6 400.4,782.6 397.8,782.6 395.1,782.6 392.5,782.5 389.8,782.5 387.2,782.5 384.5,782.5 381.9,782.5 379.2,782.5 376.6,782.5 373.9,782.5 371.3,782.5 368.6,782.5 366.0,782.5 363.3,782.5 360.7,782.5 358.1,782.4 355.4,782.4 352.8,782.4 350.1,782.4 347.5,782.4 344.8,782.4 342.2,782.4 339.5,782.4 336.9,782.4 334.2,782.4 331.6,782.4 328.9,782.4 326.3,782.4 323.6,782.3 321.0,782.3 318.3,782.3 315.7,782.3 313.0,782.3 310.4,782.3 307.7,782.3 305.1,782.3 302.4,782.3 299.8,782.3 297.1,782.3 294.5,782.3 291.9,782.3 289.2,782.2 286.6,782.2 283.9,782.2 281.3,782.2 278.6,782.2 276.0,782.2 273.3,782.2 270.7,782.2 268.0,782.2 265.4,782.2 262.7,782.2 260.1,782.2 257.4,782.2 254.8,782.1 252.1,782.1 249.5,782.1 246.8,782.1 244.2,782.1 241.5,782.1 238.9,782.1 236.2,782.1 233.6,782.1 231.0,782.1 228.3,782.1 225.7,782.1 223.0,782.1 220.4,782.0 217.7,782.0 215.1,782.0 212.4,782.0 209.8,782.0 207.1,782.0 204.5,782.0 201.8,782.0 199.2,782.0 196.5,782.0 193.9,782.0 191.2,782.0 188.6,782.0 185.9,781.9 183.3,781.9 180.6,781.9 178.0,781.9 175.3,781.9 172.7,781.9 170.0,781.9 167.4,781.9 164.8,781.9 162.1,781.9 159.5,781.9 156.8,781.9 154.2,781.9 151.5,781.8 148.9,781.8 146.2,781.8 143.6,781.8 140.9,781.8 138.3,781.8 135.6,781.8 133.0,781.8 130.3,781.8 127.7,781.8 125.0,781.8 122.4,781.8 119.7,781.8 117.1,781.7 114.4,781.7 111.8,781.7 109.1,781.7 106.5,781.7" fill="#008000" fill-opacity="0.510"/><polygon points="106.5,769.6 109.1,769.6 111.8,769.7 114.4,769.8 117.1,769.9 119.7,770.1 122.4,770.3 125.0,770.6 127.7,770.9 130.3,771.2 133.0,771.6 135.6,772.0 138.3,772.5 140.9,773.0 143.6,773.5 146.2,774.1 148.9,774.7 151.5,775.3 154.2,776.0 156.8,776.7 159.5,777.4 162.1,778.2 164.8,778.9 167.4,779.8 170.0,780.6 172.7,781.5 175.3,782.4 178.0,783.3 180.6,784.3 183.3,785.3 185.9,786.2 188.6,787.3 191.2,788.3 193.9,789.4 196.5,790.4 199.2,791.5 201.8,792.6 204.5,793.8 207.1,794.9 209.8,796.0 212.4,797.2 215.1,798.4 217.7,799.5 220.4,800.7 223.0,801.9 225.7,803.1 228.3,804.3 231.0,805.5 233.6,806.7 236.2,807.9 238.9,809.1 241.5,810.3 244.2,811.5 246.8,812.7 249.5,813.8 252.1,815.0 254.8,816.2 257.4,817.4 260.1,818.5 262.7,819.7 265.4,820.8 268.0,821.9 270.7,823.1 273.3,824.2 276.0,825.3 278.6,826.3 281.3,827.4 283.9,828.5 286.6,829.5 289.2,830.5 291.9,831.5 294.5,832.5 297.1,833.5 299.8,834.4 302.4,835.3 305.1,836.2 307.7,837.1 310.4,838.0 313.0,838.9 315.7,839.7 318.3,840.5 321.0,841.3 323.6,842.1 326.3,842.8 328.9,843.5 331.6,844.3 334.2,844.9 336.9,845.6 339.5,846.3 342.2,846.9 344.8,847.5 347.5,848.1 350.1,848.6 352.8,849.2 355.4,849.7 358.1,850.2 360.7,850.7 363.3,851.1 366.0,851.5 368.6,852.0 371.3,852.3 373.9,852.7 376.6,853.1 379.2,853.4 381.9,853.7 384.5,854.0 387.2,854.3 389.8,854.5 392.5,854.7 395.1,854.9 397.8,855.1 400.4,855.3 403.1,855.5 405.7,855.6 408.4,855.7 411.0,855.8 413.7,855.8 416.3,855.9 419.0,855.9 421.6,855.9 421.6,868.3 419.0,868.3 416.3,868.3 413.7,868.2 411.0,868.2 408.4,868.1 405.7,868.0 403.1,867.9 400.4,867.7 397.8,867.5 395.1,867.3 392.5,867.1 389.8,866.9 387.2,866.7 384.5,866.4 381.9,866.1 379.2,865.8 376.6,865.5 373.9,865.1 371.3,864.7 368.6,864.4 366.0,863.9 363.3,863.5 360.7,863.1 358.1,862.6 355.4,862.1 352.8,861.6 350.1,861.0 347.5,860.5 344.8,859.9 342.2,859.3 339.5,858.7 336.9,858.0 334.2,857.3 331.6,856.7 328.9,855.9 326.3,855.2 323.6,854.5 321.0,853.7 318.3,852.9 315.7,852.1 313.0,851.3 310.4,850.4 307.7,849.5 305.1,848.6 302.4,847.7 299.8,846.8 297.1,845.9 294.5,844.9 291.9,843.9 289.2,842.9 286.6,841.9 283.9,840.9 281.3,839.8 278.6,838.7 276.0,837.7 273.3,836.6 270.7,835.5 268.0,834.3 265.4,833.2 262.7,832.1 260.1,830.9 257.4,829.8 254.8,828.6 252.1,827.4 249.5,826.2 246.8,825.1 244.2,823.9 241.5,822.7 238.9,821.5 236.2,820.3 233.6,819.1 231.0,817.9 228.3,816.7 225.7,815.5 223.0,814.3 220.4,813.1 217.7,811.9 215.1,810.8 212.4,809.6 209.8,808.4 207.1,807.3 204.5,806.2 201.8,805.0 199.2,803.9 196.5,802.8 193.9,801.8 191.2,800.7 188.6,799.7 185.9,798.6 183.3,797.7 180.6,796.7 178.0,795.7 175.3,794.8 172.7,793.9 170.0,793.0 167.4,792.2 164.8,791.3 162.1,790.6 159.5,789.8 156.8,789.1 154.2,788.4 151.5,787.7 148.9,787.1 146.2,786.5 143.6,785.9 140.9,785.4 138.3,784.9 135.6,784.4 133.0,784.0 130.3,783.6 127.7,783.3 125.0,783.0 122.4,782.7 119.7,782.5 117.1,782.3 114.4,782.2 111.8,782.1 109.1,782.0 106.5,782.0" fill="#008000" fill-opacity="0.510"/><polygon points="106.5,881.9 109.1,881.9 111.8,881.9 114.4,881.9 117.1,882.0 119.7,882.1 122.4,882.2 125.0,882.3 127.7,882.5 130.3,882.6 133.0,882.8 135.6,883.0 138.3,883.3 140.9,883.5 143.6,883.7 146.2,884.0 148.9,884.3 151.5,884.6 154.2,884.9 156.8,885.3 159.5,885.6 162.1,886.0 164.8,886.4 167.4,886.8 170.0,887.2 172.7,887.6 175.3,888.0 178.0,888.5 180.6,888.9 183.3,889.4 185.9,889.9 188.6,890.4 191.2,890.9 193.9,891.4 196.5,891.9 199.2,892.4 201.8,892.9 204.5,893.5 207.1,894.0 209.8,894.6 212.4,895.1 215.1,895.7 217.7,896.2 220.4,896.8 223.0,897.4 225.7,897.9 228.3,898.5 231.0,899.0 233.6,899.6 236.2,900.2 238.9,900.7 241.5,901.3 244.2,901.9 246.8,902.4 249.5,903.0 252.1,903.5 254.8,904.1 257.4,904.6 260.1,905.2 262.7,905.7 265.4,906.2 268.0,906.7 270.7,907.3 273.3,907.8 276.0,908.3 278.6,908.8 281.3,909.2 283.9,909.7 286.6,910.2 289.2,910.7 291.9,911.1 294.5,911.6 297.1,912.0 299.8,912.4 302.4,912.8 305.1,913.3 307.7,913.7 310.4,914.0 313.0,914.4 315.7,914.8 318.3,915.2 321.0,915.5 323.6,915.8 326.3,916.2 328.9,916.5 331.6,916.8 334.2,917.1 336.9,917.4 339.5,917.7 342.2,918.0 344.8,918.2 347.5,918.5 350.1,918.7 352.8,918.9 355.4,919.2 358.1,919.4 360.7,919.6 363.3,919.8 366.0,920.0 368.6,920.1 371.3,920.3 373.9,920.5 376.6,920.6 379.2,920.8 381.9,920.9 384.5,921.0 387.2,921.1 389.8,921.2 392.5,921.3 395.1,921.4 397.8,921.5 400.4,921.6 403.1,921.6 405.7,921.7 408.4,921.7 411.0,921.7 413.7,921.8 416.3,921.8 419.0,921.8 421.6,921.8 421.6,934.2 419.0,934.2 416.3,934.2 413.7,934.2 411.0,934.1 408.4,934.1 405.7,934.1 403.1,934.0 400.4,934.0 397.8,933.9 395.1,933.8 392.5,933.7 389.8,933.6 387.2,933.5 384.5,933.4 381.9,933.3 379.2,933.2 376.6,933.0 373.9,932.9 371.3,932.7 368.6,932.5 366.0,932.4 363.3,932.2 360.7,932.0 358.1,931.8 355.4,931.6 352.8,931.3 350.1,931.1 347.5,930.9 344.8,930.6 342.2,930.4 339.5,930.1 336.9,929.8 334.2,929.5 331.6,929.2 328.9,928.9 326.3,928.6 323.6,928.2 321.0,927.9 318.3,927.6 315.7,927.2 313.0,926.8 310.4,926.4 307.7,926.1 305.1,925.7 302.4,925.2 299.8,924.8 297.1,924.4 294.5,924.0 291.9,923.5 289.2,923.1 286.6,922.6 283.9,922.1 281.3,921.6 278.6,921.2 276.0,920.7 273.3,920.2 270.7,919.7 268.0,919.1 265.4,918.6 262.7,918.1 260.1,917.6 257.4,917.0 254.8,916.5 252.1,915.9 249.5,915.4 246.8,914.8 244.2,914.3 241.5,913.7 238.9,913.1 236.2,912.6 233.6,912.0 231.0,911.4 228.3,910.9 225.7,910.3 223.0,909.8 220.4,909.2 217.7,908.6 215.1,908.1 212.4,907.5 209.8,907.0 207.1,906.4 204.5,905.9 201.8,905.3 199.2,904.8 196.5,904.3 193.9,903.8 191.2,903.3 188.6,902.8 185.9,902.3 183.3,901.8 180.6,901.3 178.0,900.9 175.3,900.4 172.7,900.0 170.0,899.6 167.4,899.2 164.8,898.8 162.1,898.4 159.5,898.0 156.8,897.7 154.2,897.3 151.5,897.0 148.9,896.7 146.2,896.4 143.6,896.1 140.9,895.9 138.3,895.7 135.6,895.4 133.0,895.2 130.3,895.0 127.7,894.9 125.0,894.7 122.4,894.6 119.7,894.5 117.1,894.4 114.4,894.3 111.8,894.3 109.1,894.3 106.5,894.3" fill="#008000" fill-opacity="0.510"/><polygon points="106.5,881.0 109.1,881.0 111.8,881.0 114.4,880.9 117.1,880.9 119.7,880.9 122.4,880.9 125.0,880.9 127.7,880.8 130.3,880.8 133.0,880.7 135.6,880.7 138.3,880.6 140.9,880.6 143.6,880.5 146.2,880.5 148.9,880.4 151.5,880.3 154.2,880.2 156.8,880.1 159.5,880.0 162.1,879.9 164.8,879.8 167.4,879.7 170.0,879.6 172.7,879.4 175.3,879.3 178.0,879.1 180.6,879.0 183.3,878.8 185.9,878.6 188.6,878.5 191.2,878.3 193.9,878.0 196.5,877.8 199.2,877.6 201.8,877.4 204.5,877.1 207.1,876.9 209.8,876.6 212.4,876.3 215.1,876.0 217.7,875.7 220.4,875.4 223.0,875.1 225.7,874.8 228.3,874.4 231.0,874.1 233.6,873.7 236.2,873.3 238.9,873.0 241.5,872.6 244.2,872.1 246.8,871.7 249.5,871.3 252.1,870.9 254.8,870.4 257.4,869.9 260.1,869.5 262.7,869.0 265.4,868.5 268.0,868.0 270.7,867.5 273.3,867.0 276.0,866.5 278.6,866.0 281.3,865.4 283.9,864.9 286.6,864.3 289.2,863.8 291.9,863.2 294.5,862.7 297.1,862.1 299.8,861.6 302.4,861.0 305.1,860.4 307.7,859.9 310.4,859.3 313.0,858.7 315.7,858.2 318.3,857.6 321.0,857.0 323.6,856.5 326.3,855.9 328.9,855.4 331.6,854.8 334.2,854.3 336.9,853.8 339.5,853.2 342.2,852.7 344.8,852.2 347.5,851.7 350.1,851.2 352.8,850.7 355.4,850.3 358.1,849.8 360.7,849.4 363.3,849.0 366.0,848.6 368.6,848.2 371.3,847.8 373.9,847.4 376.6,847.1 379.2,846.7 381.9,846.4 384.5,846.1 387.2,845.8 389.8,845.6 392.5,845.3 395.1,845.1 397.8,844.9 400.4,844.7 403.1,844.6 405.7,844.4 408.4,844.3 411.0,844.2 413.7,844.2 416.3,844.1 419.0,844.1 421.6,844.1 421.6,858.3 419.0,858.3 416.3,858.3 413.7,858.4 411.0,858.4 408.4,858.5 405.7,858.6 403.1,858.8 400.4,858.9 397.8,859.1 395.1,859.3 392.5,859.5 389.8,859.8 387.2,860.0 384.5,860.3 381.9,860.6 379.2,860.9 376.6,861.3 373.9,861.6 371.3,862.0 368.6,862.4 366.0,862.8 363.3,863.2 360.7,863.6 358.1,864.0 355.4,864.5 352.8,864.9 350.1,865.4 347.5,865.9 344.8,866.4 342.2,866.9 339.5,867.4 336.9,868.0 334.2,868.5 331.6,869.0 328.9,869.6 326.3,870.1 323.6,870.7 321.0,871.2 318.3,871.8 315.7,872.4 313.0,872.9 310.4,873.5 307.7,874.1 305.1,874.6 302.4,875.2 299.8,875.8 297.1,876.3 294.5,876.9 291.9,877.4 289.2,878.0 286.6,878.5 283.9,879.1 281.3,879.6 278.6,880.2 276.0,880.7 273.3,881.2 270.7,881.7 268.0,882.2 265.4,882.7 262.7,883.2 260.1,883.7 257.4,884.1 254.8,884.6 252.1,885.1 249.5,885.5 246.8,885.9 244.2,886.3 241.5,886.8 238.9,887.2 236.2,887.5 233.6,887.9 231.0,888.3 228.3,888.6 225.7,889.0 223.0,889.3 220.4,889.6 217.7,889.9 215.1,890.2 212.4,890.5 209.8,890.8 207.1,891.1 204.5,891.3 201.8,891.6 199.2,891.8 196.5,892.0 193.9,892.2 191.2,892.5 188.6,892.7 185.9,892.8 183.3,893.0 180.6,893.2 178.0,893.3 175.3,893.5 172.7,893.6 170.0,893.8 167.4,893.9 164.8,894.0 162.1,894.1 159.5,894.2 156.8,894.3 154.2,894.4 151.5,894.5 148.9,894.6 146.2,894.7 143.6,894.7 140.9,894.8 138.3,894.8 135.6,894.9 133.0,894.9 130.3,895.0 127.7,895.0 125.0,895.1 122.4,895.1 119.7,895.1 117.1,895.1 114.4,895.1 111.8,895.2 109.1,895.2 106.5,895.2" fill="#008000" fill-opacity="0.760"/><polygon points="106.5,690.0 109.1,690.1 111.8,690.2 114.4,690.4 117.1,690.7 119.7,691.0 122.4,691.4 125.0,691.9 127.7,692.5 130.3,693.1 133.0,693.8 135.6,694.6 138.3,695.4 140.9,696.2 143.6,697.2 146.2,698.1 148.9,699.1 151.5,700.2 154.2,701.3 156.8,702.4 159.5,703.6 162.1,704.8 164.8,706.0 167.4,707.2 170.0,708.5 172.7,709.8 175.3,711.1 178.0,712.4 180.6,713.8 183.3,715.1 185.9,716.4 188.6,717.7 191.2,719.0 193.9,720.3 196.5,721.6 199.2,722.8 201.8,724.1 204.5,725.3 207.1,726.5 209.8,727.6 212.4,728.8 215.1,730.0 217.7,731.2 220.4,732.4 223.0,733.6 225.7,734.9 228.3,736.1 231.0,737.5 233.6,738.8 236.2,740.2 238.9,741.7 241.5,743.1 244.2,744.6 246.8,746.1 249.5,747.6 252.1,749.1 254.8,750.6 257.4,752.1 260.1,753.6 262.7,755.1 265.4,756.5 268.0,758.0 270.7,759.4 273.3,760.8 276.0,762.2 278.6,763.5 281.3,764.8 283.9,766.1 286.6,767.4 289.2,768.7 291.9,769.9 294.5,771.0 297.1,772.1 299.8,773.0 302.4,774.0 305.1,774.8 307.7,775.7 310.4,776.6 313.0,777.6 315.7,778.7 318.3,779.8 321.0,781.0 323.6,782.2 326.3,783.5 328.9,784.7 331.6,785.9 334.2,787.1 336.9,788.1 339.5,789.1 342.2,790.1 344.8,791.0 347.5,791.9 350.1,792.7 352.8,793.6 355.4,794.4 358.1,795.2 360.7,796.1 363.3,796.9 366.0,797.7 368.6,798.5 371.3,799.2 373.9,800.0 376.6,800.7 379.2,801.4 381.9,802.0 384.5,802.6 387.2,803.2 389.8,803.7 392.5,804.1 395.1,804.5 397.8,804.8 400.4,805.1 403.1,805.4 405.7,805.6 408.4,805.9 411.0,806.1 413.7,806.2 416.3,806.4 419.0,806.5 421.6,806.5 421.6,818.9 419.0,818.9 416.3,818.8 413.7,818.6 411.0,818.5 408.4,818.3 405.7,818.0 403.1,817.8 400.4,817.5 397.8,817.2 395.1,816.9 392.5,816.5 389.8,816.1 387.2,815.6 384.5,815.0 381.9,814.4 379.2,813.8 376.6,813.1 373.9,812.4 371.3,811.6 368.6,810.9 366.0,810.1 363.3,809.3 360.7,808.5 358.1,807.6 355.4,806.8 352.8,806.0 350.1,805.1 347.5,804.3 344.8,803.4 342.2,802.5 339.5,801.5 336.9,800.5 334.2,799.5 331.6,798.3 328.9,797.1 326.3,795.9 323.6,794.6 321.0,793.4 318.3,792.2 315.7,791.1 313.0,790.0 310.4,789.0 307.7,788.1 305.1,787.2 302.4,786.4 299.8,785.4 297.1,784.5 294.5,783.4 291.9,782.3 289.2,781.1 286.6,779.8 283.9,778.5 281.3,777.2 278.6,775.9 276.0,774.6 273.3,773.2 270.7,771.8 268.0,770.4 265.4,768.9 262.7,767.5 260.1,766.0 257.4,764.5 254.8,763.0 252.1,761.5 249.5,760.0 246.8,758.5 244.2,757.0 241.5,755.5 238.9,754.1 236.2,752.6 233.6,751.2 231.0,749.9 228.3,748.5 225.7,747.3 223.0,746.0 220.4,744.8 217.7,743.6 215.1,742.4 212.4,741.2 209.8,740.0 207.1,738.9 204.5,737.7 201.8,736.5 199.2,735.2 196.5,734.0 193.9,732.7 191.2,731.4 188.6,730.1 185.9,728.8 183.3,727.5 180.6,726.2 178.0,724.8 175.3,723.5 172.7,722.2 170.0,720.9 167.4,719.6 164.8,718.4 162.1,717.2 159.5,716.0 156.8,714.8 154.2,713.7 151.5,712.6 148.9,711.5 146.2,710.5 143.6,709.6 140.9,708.6 138.3,707.8 135.6,707.0 133.0,706.2 130.3,705.5 127.7,704.9 125.0,704.3 122.4,703.8 119.7,703.4 117.1,703.1 114.4,702.8 111.8,702.6 109.1,702.5 106.5,702.4" fill="#008000" fill-opacity="0.510"/><polygon points="106.5,693.7 109.1,693.7 111.8,693.8 114.4,694.0 117.1,694.2 119.7,694.5 122.4,694.9 125.0,695.3 127.7,695.8 130.3,696.3 133.0,696.9 135.6,697.6 138.3,698.3 140.9,699.1 143.6,699.9 146.2,700.8 148.9,701.8 151.5,702.7 154.2,703.8 156.8,704.9 159.5,706.0 162.1,707.2 164.8,708.4 167.4,709.6 170.0,710.9 172.7,712.2 175.3,713.5 178.0,714.9 180.6,716.2 183.3,717.5 185.9,718.9 188.6,720.2 191.2,721.5 193.9,722.8 196.5,724.1 199.2,725.3 201.8,726.5 204.5,727.6 207.1,728.8 209.8,729.9 212.4,731.0 215.1,732.1 217.7,733.3 220.4,734.4 223.0,735.6 225.7,736.7 228.3,738.0 231.0,739.3 233.6,740.6 236.2,742.0 238.9,743.4 241.5,744.9 244.2,746.4 246.8,747.9 249.5,749.4 252.1,750.9 254.8,752.4 257.4,753.9 260.1,755.5 262.7,757.0 265.4,758.5 268.0,759.9 270.7,761.4 273.3,762.8 276.0,764.2 278.6,765.5 281.3,766.8 283.9,768.1 286.6,769.3 289.2,770.4 291.9,771.5 294.5,772.6 297.1,773.5 299.8,774.4 302.4,775.3 305.1,776.1 307.7,777.0 310.4,777.9 313.0,778.8 315.7,779.9 318.3,781.0 321.0,782.2 323.6,783.4 326.3,784.7 328.9,785.9 331.6,787.1 334.2,788.3 336.9,789.3 339.5,790.3 342.2,791.3 344.8,792.2 347.5,793.1 350.1,793.9 352.8,794.8 355.4,795.6 358.1,796.5 360.7,797.3 363.3,798.2 366.0,799.0 368.6,799.7 371.3,800.5 373.9,801.1 376.6,801.8 379.2,802.4 381.9,802.9 384.5,803.4 387.2,803.9 389.8,804.3 392.5,804.7 395.1,805.1 397.8,805.4 400.4,805.7 403.1,806.0 405.7,806.2 408.4,806.5 411.0,806.7 413.7,806.9 416.3,807.0 419.0,807.1 421.6,807.1 421.6,819.5 419.0,819.5 416.3,819.4 413.7,819.3 411.0,819.1 408.4,818.9 405.7,818.6 403.1,818.4 400.4,818.1 397.8,817.8 395.1,817.5 392.5,817.1 389.8,816.7 387.2,816.3 384.5,815.8 381.9,815.3 379.2,814.8 376.6,814.2 373.9,813.5 371.3,812.9 368.6,812.1 366.0,811.4 363.3,810.6 360.7,809.7 358.1,808.9 355.4,808.0 352.8,807.2 350.1,806.3 347.5,805.5 344.8,804.6 342.2,803.7 339.5,802.7 336.9,801.7 334.2,800.7 331.6,799.5 328.9,798.3 326.3,797.1 323.6,795.8 321.0,794.6 318.3,793.4 315.7,792.3 313.0,791.2 310.4,790.3 307.7,789.4 305.1,788.5 302.4,787.7 299.8,786.8 297.1,785.9 294.5,785.0 291.9,783.9 289.2,782.8 286.6,781.7 283.9,780.5 281.3,779.2 278.6,777.9 276.0,776.6 273.3,775.2 270.7,773.8 268.0,772.3 265.4,770.9 262.7,769.4 260.1,767.9 257.4,766.3 254.8,764.8 252.1,763.3 249.5,761.8 246.8,760.3 244.2,758.8 241.5,757.3 238.9,755.8 236.2,754.4 233.6,753.0 231.0,751.7 228.3,750.4 225.7,749.1 223.0,748.0 220.4,746.8 217.7,745.7 215.1,744.5 212.4,743.4 209.8,742.3 207.1,741.2 204.5,740.0 201.8,738.9 199.2,737.7 196.5,736.5 193.9,735.2 191.2,733.9 188.6,732.6 185.9,731.3 183.3,729.9 180.6,728.6 178.0,727.3 175.3,725.9 172.7,724.6 170.0,723.3 167.4,722.0 164.8,720.8 162.1,719.6 159.5,718.4 156.8,717.3 154.2,716.2 151.5,715.1 148.9,714.2 146.2,713.2 143.6,712.3 140.9,711.5 138.3,710.7 135.6,710.0 133.0,709.3 130.3,708.7 127.7,708.2 125.0,707.7 122.4,707.3 119.7,706.9 117.1,706.6 114.4,706.4 111.8,706.2 109.1,706.1 106.5,706.1" fill="#008000" fill-opacity="0.510"/><polygon points="106.5,691.9 109.1,691.9 111.8,691.8 114.4,691.8 117.1,691.8 119.7,691.8 122.4,691.7 125.0,691.7 127.7,691.7 130.3,691.6 133.0,691.6 135.6,691.6 138.3,691.5 140.9,691.5 143.6,691.5 146.2,691.4 148.9,691.4 151.5,691.3 154.2,691.3 156.8,691.3 159.5,691.2 162.1,691.2 164.8,691.1 167.4,691.1 170.0,691.0 172.7,691.0 175.3,691.0 178.0,690.9 180.6,690.9 183.3,690.8 185.9,690.8 188.6,690.7 191.2,690.7 193.9,690.6 196.5,690.6 199.2,690.6 201.8,690.5 204.5,690.5 207.1,690.4 209.8,690.4 212.4,690.4 215.1,690.3 217.7,690.3 220.4,690.2 223.0,690.2 225.7,690.2 228.3,690.1 231.0,690.1 233.6,690.0 236.2,690.0 238.9,690.0 241.5,689.9 244.2,689.9 246.8,689.9 249.5,689.8 252.1,689.8 254.8,689.7 257.4,689.7 260.1,689.7 262.7,689.6 265.4,689.6 268.0,689.6 270.7,689.5 273.3,689.5 276.0,689.5 278.6,689.4 281.3,689.4 283.9,689.3 286.6,689.3 289.2,689.3 291.9,689.2 294.5,689.2 297.1,689.2 299.8,689.1 302.4,689.1 305.1,689.0 307.7,689.0 310.4,689.0 313.0,688.9 315.7,688.9 318.3,688.8 321.0,688.8 323.6,688.8 326.3,688.7 328.9,688.7 331.6,688.7 334.2,688.6 336.9,688.6 339.5,688.5 342.2,688.5 344.8,688.5 347.5,688.4 350.1,688.4 352.8,688.4 355.4,688.3 358.1,688.3 360.7,688.2 363.3,688.2 366.0,688.2 368.6,688.1 371.3,688.1 373.9,688.1 376.6,688.0 379.2,688.0 381.9,688.0 384.5,687.9 387.2,687.9 389.8,687.9 392.5,687.9 395.1,687.8 397.8,687.8 400.4,687.8 403.1,687.7 405.7,687.7 408.4,687.7 411.0,687.7 413.7,687.6 416.3,687.6 419.0,687.6 421.6,687.6 421.6,700.0 419.0,700.0 416.3,699.9 413.7,699.9 411.0,699.9 408.4,699.9 405.7,699.9 403.1,699.9 400.4,699.8 397.8,699.8 395.1,699.8 392.5,699.8 389.8,699.8 387.2,699.8 384.5,699.8 381.9,699.8 379.2,699.7 376.6,699.7 373.9,699.7 371.3,699.7 368.6,699.7 366.0,699.7 363.3,699.7 360.7,699.7 358.1,699.7 355.4,699.7 352.8,699.7 350.1,699.7 347.5,699.7 344.8,699.7 342.2,699.7 339.5,699.7 336.9,699.6 334.2,699.6 331.6,699.6 328.9,699.6 326.3,699.6 323.6,699.6 321.0,699.6 318.3,699.6 315.7,699.6 313.0,699.6 310.4,699.6 307.7,699.6 305.1,699.6 302.4,699.6 299.8,699.6 297.1,699.6 294.5,699.6 291.9,699.6 289.2,699.6 286.6,699.6 283.9,699.6 281.3,699.6 278.6,699.6 276.0,699.6 273.3,699.6 270.7,699.5 268.0,699.5 265.4,699.5 262.7,699.5 260.1,699.5 257.4,699.5 254.8,699.5 252.1,699.5 249.5,699.5 246.8,699.5 244.2,699.5 241.5,699.5 238.9,699.5 236.2,699.5 233.6,699.5 231.0,699.5 228.3,699.5 225.7,699.5 223.0,699.5 220.4,699.5 217.7,699.5 215.1,699.5 212.4,699.5 209.8,699.5 207.1,699.5 204.5,699.5 201.8,699.5 199.2,699.5 196.5,699.5 193.9,699.5 191.2,699.5 188.6,699.5 185.9,699.5 183.3,699.5 180.6,699.5 178.0,699.5 175.3,699.5 172.7,699.5 170.0,699.5 167.4,699.5 164.8,699.5 162.1,699.5 159.5,699.5 156.8,699.5 154.2,699.5 151.5,699.5 148.9,699.5 146.2,699.5 143.6,699.5 140.9,699.5 138.3,699.5 135.6,699.5 133.0,699.5 130.3,699.5 127.7,699.4 125.0,699.4 122.4,699.4 119.7,699.4 117.1,699.4 114.4,699.4 111.8,699.4 109.1,699.3 106.5,699.3" fill="#008000" fill-opacity="0.510"/><polygon points="106.5,637.9 109.1,637.9 111.8,638.0 114.4,638.1 117.1,638.3 119.7,638.5 122.4,638.7 125.0,639.0 127.7,639.2 130.3,639.5 133.0,639.8 135.6,640.2 138.3,640.5 140.9,640.8 143.6,641.1 146.2,641.4 148.9,641.7 151.5,642.0 154.2,642.3 156.8,642.6 159.5,642.9 162.1,643.2 164.8,643.5 167.4,643.7 170.0,644.0 172.7,644.3 175.3,644.5 178.0,644.8 180.6,645.1 183.3,645.3 185.9,645.6 188.6,645.8 191.2,646.1 193.9,646.3 196.5,646.6 199.2,646.8 201.8,647.1 204.5,647.3 207.1,647.6 209.8,647.8 212.4,648.1 215.1,648.3 217.7,648.5 220.4,648.8 223.0,649.0 225.7,649.2 228.3,649.4 231.0,649.7 233.6,649.9 236.2,650.1 238.9,650.3 241.5,650.5 244.2,650.7 246.8,650.9 249.5,651.1 252.1,651.3 254.8,651.5 257.4,651.7 260.1,651.9 262.7,652.1 265.4,652.3 268.0,652.4 270.7,652.6 273.3,652.7 276.0,652.9 278.6,653.0 281.3,653.2 283.9,653.3 286.6,653.5 289.2,653.6 291.9,653.7 294.5,653.8 297.1,653.9 299.8,654.0 302.4,654.1 305.1,654.2 307.7,654.3 310.4,654.4 313.0,654.5 315.7,654.6 318.3,654.7 321.0,654.7 323.6,654.8 326.3,654.9 328.9,655.0 331.6,655.0 334.2,655.1 336.9,655.1 339.5,655.2 342.2,655.3 344.8,655.3 347.5,655.4 350.1,655.4 352.8,655.4 355.4,655.5 358.1,655.5 360.7,655.6 363.3,655.6 366.0,655.7 368.6,655.7 371.3,655.7 373.9,655.8 376.6,655.8 379.2,655.9 381.9,655.9 384.5,655.9 387.2,656.0 389.8,656.0 392.5,656.0 395.1,656.0 397.8,656.1 400.4,656.1 403.1,656.1 405.7,656.1 408.4,656.1 411.0,656.1 413.7,656.1 416.3,656.2 419.0,656.2 421.6,656.2 421.6,668.6 419.0,668.6 416.3,668.6 413.7,668.5 411.0,668.5 408.4,668.5 405.7,668.5 403.1,668.5 400.4,668.5 397.8,668.5 395.1,668.4 392.5,668.4 389.8,668.4 387.2,668.4 384.5,668.3 381.9,668.3 379.2,668.3 376.6,668.2 373.9,668.2 371.3,668.1 368.6,668.1 366.0,668.1 363.3,668.0 360.7,668.0 358.1,667.9 355.4,667.9 352.8,667.8 350.1,667.8 347.5,667.8 344.8,667.7 342.2,667.7 339.5,667.6 336.9,667.5 334.2,667.5 331.6,667.4 328.9,667.4 326.3,667.3 323.6,667.2 321.0,667.1 318.3,667.1 315.7,667.0 313.0,666.9 310.4,666.8 307.7,666.7 305.1,666.6 302.4,666.5 299.8,666.4 297.1,666.3 294.5,666.2 291.9,666.1 289.2,666.0 286.6,665.9 283.9,665.7 281.3,665.6 278.6,665.4 276.0,665.3 273.3,665.1 270.7,665.0 268.0,664.8 265.4,664.7 262.7,664.5 260.1,664.3 257.4,664.1 254.8,663.9 252.1,663.7 249.5,663.5 246.8,663.3 244.2,663.1 241.5,662.9 238.9,662.7 236.2,662.5 233.6,662.3 231.0,662.1 228.3,661.8 225.7,661.6 223.0,661.4 220.4,661.2 217.7,660.9 215.1,660.7 212.4,660.5 209.8,660.2 207.1,660.0 204.5,659.7 201.8,659.5 199.2,659.2 196.5,659.0 193.9,658.7 191.2,658.5 188.6,658.2 185.9,658.0 183.3,657.7 180.6,657.5 178.0,657.2 175.3,656.9 172.7,656.7 170.0,656.4 167.4,656.1 164.8,655.9 162.1,655.6 159.5,655.3 156.8,655.0 154.2,654.7 151.5,654.4 148.9,654.1 146.2,653.8 143.6,653.5 140.9,653.2 138.3,652.9 135.6,652.6 133.0,652.2 130.3,651.9 127.7,651.6 125.0,651.4 122.4,651.1 119.7,650.9 117.1,650.7 114.4,650.5 111.8,650.4 109.1,650.3 106.5,650.3" fill="#008000" fill-opacity="0.510"/><polygon points="106.5,599.4 108.5,599.4 110.5,599.2 112.5,598.9 114.4,598.6 116.4,598.2 118.4,597.8 120.4,597.3 122.4,596.9 124.4,596.4 126.4,596.0 128.3,595.5 130.3,595.1 132.3,594.6 134.3,594.1 136.3,593.5 138.3,592.9 140.3,592.3 142.2,591.6 144.2,590.9 146.2,590.1 148.2,589.3 150.2,588.4 152.2,587.5 154.2,586.6 156.1,585.6 158.1,584.6 160.1,583.5 162.1,582.4 164.1,581.3 166.1,580.1 168.1,579.0 170.0,577.8 172.0,576.5 174.0,575.3 176.0,574.0 178.0,572.7 180.0,571.4 182.0,570.0 184.0,568.7 185.9,567.3 187.9,565.9 189.9,564.5 191.9,563.0 193.9,561.5 195.9,560.0 197.9,558.5 199.8,556.9 201.8,555.3 203.8,553.7 205.8,552.1 207.8,550.5 209.8,548.8 211.8,547.2 213.7,545.5 215.7,543.9 217.7,542.2 219.7,540.6 221.7,539.0 223.7,537.4 225.7,535.9 227.6,534.4 229.6,532.9 231.6,531.5 233.6,530.1 235.6,528.7 237.6,527.4 239.6,526.0 241.5,524.7 243.5,523.4 245.5,522.0 247.5,520.6 249.5,519.2 251.5,517.9 253.5,516.5 255.4,515.1 257.4,513.7 259.4,512.3 261.4,511.0 263.4,509.6 265.4,508.2 267.4,506.8 269.3,505.5 271.3,504.0 273.3,502.6 275.3,501.2 277.3,499.7 279.3,498.2 281.3,496.7 283.2,495.2 285.2,493.6 287.2,492.0 289.2,490.3 291.2,488.6 293.2,486.9 295.2,485.1 297.1,483.3 299.1,481.4 301.1,479.5 303.1,477.6 305.1,475.6 307.1,473.7 309.1,471.8 311.1,469.9 313.0,468.0 315.0,466.2 317.0,464.4 319.0,462.7 321.0,461.1 323.0,459.6 325.0,458.1 326.9,456.8 328.9,455.6 330.9,454.5 332.9,453.5 334.9,452.7 336.9,452.1 338.9,451.6 340.8,451.3 342.8,451.2 342.8,463.6 340.8,463.7 338.9,464.0 336.9,464.5 334.9,465.1 332.9,465.9 330.9,466.9 328.9,468.0 326.9,469.2 325.0,470.5 323.0,472.0 321.0,473.5 319.0,475.1 317.0,476.8 315.0,478.6 313.0,480.4 311.1,482.3 309.1,484.2 307.1,486.1 305.1,488.0 303.1,490.0 301.1,491.9 299.1,493.8 297.1,495.7 295.2,497.5 293.2,499.3 291.2,501.0 289.2,502.7 287.2,504.4 285.2,506.0 283.2,507.6 281.3,509.1 279.3,510.6 277.3,512.1 275.3,513.6 273.3,515.0 271.3,516.4 269.3,517.9 267.4,519.2 265.4,520.6 263.4,522.0 261.4,523.4 259.4,524.7 257.4,526.1 255.4,527.5 253.5,528.9 251.5,530.3 249.5,531.6 247.5,533.0 245.5,534.4 243.5,535.8 241.5,537.1 239.6,538.4 237.6,539.8 235.6,541.1 233.6,542.5 231.6,543.9 229.6,545.3 227.6,546.8 225.7,548.3 223.7,549.8 221.7,551.4 219.7,553.0 217.7,554.6 215.7,556.3 213.7,557.9 211.8,559.6 209.8,561.2 207.8,562.9 205.8,564.5 203.8,566.1 201.8,567.7 199.8,569.3 197.9,570.9 195.9,572.4 193.9,573.9 191.9,575.4 189.9,576.9 187.9,578.3 185.9,579.7 184.0,581.1 182.0,582.4 180.0,583.8 178.0,585.1 176.0,586.4 174.0,587.7 172.0,588.9 170.0,590.2 168.1,591.4 166.1,592.5 164.1,593.7 162.1,594.8 160.1,595.9 158.1,597.0 156.1,598.0 154.2,599.0 152.2,599.9 150.2,600.8 148.2,601.7 146.2,602.5 144.2,603.3 142.2,604.0 140.3,604.7 138.3,605.3 136.3,605.9 134.3,606.5 132.3,607.0 130.3,607.5 128.3,607.9 126.4,608.4 124.4,608.8 122.4,609.3 120.4,609.7 118.4,610.2 116.4,610.6 114.4,611.0 112.5,611.3 110.5,611.6 108.5,611.8 106.5,611.8" fill="#008000" fill-opacity="0.510"/><polygon points="106.5,599.7 108.0,599.7 109.4,599.6 110.9,599.5 112.3,599.3 113.8,599.0 115.2,598.7 116.7,598.3 118.2,597.9 119.6,597.5 121.1,597.0 122.5,596.5 124.0,596.0 125.4,595.4 126.9,594.8 128.3,594.2 129.8,593.5 131.3,592.9 132.7,592.2 134.2,591.5 135.6,590.8 137.1,590.1 138.5,589.5 140.0,588.9 141.5,588.3 142.9,587.8 144.4,587.2 145.8,586.7 147.3,586.1 148.7,585.5 150.2,585.0 151.6,584.4 153.1,583.8 154.6,583.2 156.0,582.6 157.5,582.0 158.9,581.3 160.4,580.7 161.8,580.0 163.3,579.3 164.8,578.6 166.2,577.9 167.7,577.2 169.1,576.4 170.6,575.6 172.0,574.8 173.5,574.0 174.9,573.1 176.4,572.2 177.9,571.3 179.3,570.4 180.8,569.4 182.2,568.4 183.7,567.4 185.1,566.4 186.6,565.3 188.1,564.2 189.5,563.2 191.0,562.1 192.4,560.9 193.9,559.8 195.3,558.7 196.8,557.6 198.2,556.4 199.7,555.3 201.2,554.1 202.6,552.8 204.1,551.5 205.5,550.1 207.0,548.8 208.4,547.4 209.9,546.1 211.4,544.7 212.8,543.4 214.3,542.0 215.7,540.6 217.2,539.3 218.6,537.9 220.1,536.5 221.6,535.1 223.0,533.7 224.5,532.4 225.9,530.9 227.4,529.5 228.8,528.0 230.3,526.5 231.7,524.8 233.2,523.2 234.7,521.4 236.1,519.6 237.6,517.8 239.0,515.9 240.5,513.9 241.9,512.0 243.4,510.0 244.9,508.0 246.3,506.0 247.8,504.0 249.2,502.1 250.7,500.1 252.1,498.2 253.6,496.2 255.0,494.4 256.5,492.6 258.0,490.8 259.4,489.1 260.9,487.4 262.3,485.9 263.8,484.4 265.2,483.0 266.7,481.7 268.2,480.5 269.6,479.5 271.1,478.5 272.5,477.7 274.0,477.0 275.4,476.4 276.9,476.0 278.3,475.8 279.8,475.7 279.8,475.7 278.3,475.8 276.9,476.0 275.4,476.4 274.0,477.0 272.5,477.7 271.1,478.5 269.6,479.5 268.2,480.5 266.7,481.7 265.2,483.0 263.8,484.4 262.3,485.9 260.9,487.4 259.4,489.1 258.0,490.8 256.5,492.6 255.0,494.4 253.6,496.2 252.1,498.2 250.7,500.1 249.2,502.1 247.8,504.0 246.3,506.0 244.9,508.0 243.4,510.0 241.9,512.0 240.5,513.9 239.0,515.9 237.6,517.8 236.1,519.6 234.7,521.4 233.2,523.2 231.7,524.8 230.3,526.5 228.8,528.0 227.4,529.5 225.9,530.9 224.5,532.4 223.0,533.7 221.6,535.1 220.1,536.5 218.6,537.9 217.2,539.3 215.7,540.6 214.3,542.0 212.8,543.4 211.4,544.7 209.9,546.1 208.4,547.4 207.0,548.8 205.5,550.1 204.1,551.5 202.6,552.8 201.2,554.1 199.7,555.5 198.2,557.0 196.8,558.4 195.3,559.8 193.9,561.2 192.4,562.6 191.0,564.0 189.5,565.4 188.1,566.8 186.6,568.1 185.1,569.5 183.7,570.8 182.2,572.1 180.8,573.4 179.3,574.6 177.9,575.9 176.4,577.1 174.9,578.3 173.5,579.4 172.0,580.5 170.6,581.6 169.1,582.7 167.7,583.8 166.2,584.8 164.8,585.8 163.3,586.8 161.8,587.7 160.4,588.7 158.9,589.6 157.5,590.5 156.0,591.4 154.6,592.3 153.1,593.2 151.6,594.1 150.2,595.0 148.7,595.8 147.3,596.7 145.8,597.5 144.4,598.4 142.9,599.2 141.5,600.1 140.0,600.9 138.5,601.8 137.1,602.5 135.6,603.2 134.2,603.9 132.7,604.6 131.3,605.3 129.8,605.9 128.3,606.6 126.9,607.2 125.4,607.8 124.0,608.4 122.5,608.9 121.1,609.4 119.6,609.9 118.2,610.3 116.7,610.7 115.2,611.1 113.8,611.4 112.3,611.7 110.9,611.9 109.4,612.0 108.0,612.1 106.5,612.1" fill="#008000" fill-opacity="0.510"/><path d="M106.5,775.5 L109.1,775.5 L111.8,775.5 L114.4,775.5 L117.1,775.5 L119.7,775.6 L122.4,775.6 L125.0,775.6 L127.7,775.6 L130.3,775.6 L133.0,775.6 L135.6,775.6 L138.3,775.6 L140.9,775.6 L143.6,775.6 L146.2,775.6 L148.9,775.6 L151.5,775.6 L154.2,775.7 L156.8,775.7 L159.5,775.7 L162.1,775.7 L164.8,775.7 L167.4,775.7 L170.0,775.7 L172.7,775.7 L175.3,775.7 L178.0,775.7 L180.6,775.7 L183.3,775.7 L185.9,775.7 L188.6,775.8 L191.2,775.8 L193.9,775.8 L196.5,775.8 L199.2,775.8 L201.8,775.8 L204.5,775.8 L207.1,775.8 L209.8,775.8 L212.4,775.8 L215.1,775.8 L217.7,775.8 L220.4,775.8 L223.0,775.9 L225.7,775.9 L228.3,775.9 L231.0,775.9 L233.6,775.9 L236.2,775.9 L238.9,775.9 L241.5,775.9 L244.2,775.9 L246.8,775.9 L249.5,775.9 L252.1,775.9 L254.8,775.9 L257.4,776.0 L260.1,776.0 L262.7,776.0 L265.4,776.0 L268.0,776.0 L270.7,776.0 L273.3,776.0 L276.0,776.0 L278.6,776.0 L281.3,776.0 L283.9,776.0 L286.6,776.0 L289.2,776.0 L291.9,776.1 L294.5,776.1 L297.1,776.1 L299.8,776.1 L302.4,776.1 L305.1,776.1 L307.7,776.1 L310.4,776.1 L313.0,776.1 L315.7,776.1 L318.3,776.1 L321.0,776.1 L323.6,776.1 L326.3,776.2 L328.9,776.2 L331.6,776.2 L334.2,776.2 L336.9,776.2 L339.5,776.2 L342.2,776.2 L344.8,776.2 L347.5,776.2 L350.1,776.2 L352.8,776.2 L355.4,776.2 L358.1,776.2 L360.7,776.3 L363.3,776.3 L366.0,776.3 L368.6,776.3 L371.3,776.3 L373.9,776.3 L376.6,776.3 L379.2,776.3 L381.9,776.3 L384.5,776.3 L387.2,776.3 L389.8,776.3 L392.5,776.3 L395.1,776.4 L397.8,776.4 L400.4,776.4 L403.1,776.4 L405.7,776.4 L408.4,776.4 L411.0,776.4 L413.7,776.4 L416.3,776.4 L419.0,776.4 L421.6,776.4" fill="none" stroke="#000" stroke-width="2.0" stroke-linecap="butt" stroke-linejoin="round"/><path d="M106.5,775.8 L109.1,775.8 L111.8,775.9 L114.4,776.0 L117.1,776.1 L119.7,776.3 L122.4,776.5 L125.0,776.8 L127.7,777.1 L130.3,777.4 L133.0,777.8 L135.6,778.2 L138.3,778.7 L140.9,779.2 L143.6,779.7 L146.2,780.3 L148.9,780.9 L151.5,781.5 L154.2,782.2 L156.8,782.9 L159.5,783.6 L162.1,784.4 L164.8,785.1 L167.4,786.0 L170.0,786.8 L172.7,787.7 L175.3,788.6 L178.0,789.5 L180.6,790.5 L183.3,791.5 L185.9,792.4 L188.6,793.5 L191.2,794.5 L193.9,795.6 L196.5,796.6 L199.2,797.7 L201.8,798.8 L204.5,800.0 L207.1,801.1 L209.8,802.2 L212.4,803.4 L215.1,804.6 L217.7,805.7 L220.4,806.9 L223.0,808.1 L225.7,809.3 L228.3,810.5 L231.0,811.7 L233.6,812.9 L236.2,814.1 L238.9,815.3 L241.5,816.5 L244.2,817.7 L246.8,818.9 L249.5,820.0 L252.1,821.2 L254.8,822.4 L257.4,823.6 L260.1,824.7 L262.7,825.9 L265.4,827.0 L268.0,828.1 L270.7,829.3 L273.3,830.4 L276.0,831.5 L278.6,832.5 L281.3,833.6 L283.9,834.7 L286.6,835.7 L289.2,836.7 L291.9,837.7 L294.5,838.7 L297.1,839.7 L299.8,840.6 L302.4,841.5 L305.1,842.4 L307.7,843.3 L310.4,844.2 L313.0,845.1 L315.7,845.9 L318.3,846.7 L321.0,847.5 L323.6,848.3 L326.3,849.0 L328.9,849.7 L331.6,850.5 L334.2,851.1 L336.9,851.8 L339.5,852.5 L342.2,853.1 L344.8,853.7 L347.5,854.3 L350.1,854.8 L352.8,855.4 L355.4,855.9 L358.1,856.4 L360.7,856.9 L363.3,857.3 L366.0,857.7 L368.6,858.2 L371.3,858.5 L373.9,858.9 L376.6,859.3 L379.2,859.6 L381.9,859.9 L384.5,860.2 L387.2,860.5 L389.8,860.7 L392.5,860.9 L395.1,861.1 L397.8,861.3 L400.4,861.5 L403.1,861.7 L405.7,861.8 L408.4,861.9 L411.0,862.0 L413.7,862.0 L416.3,862.1 L419.0,862.1 L421.6,862.1" fill="none" stroke="#000" stroke-width="2.0" stroke-linecap="butt" stroke-linejoin="round"/><path d="M106.5,888.1 L109.1,888.1 L111.8,888.1 L114.4,888.0 L117.1,888.0 L119.7,888.0 L122.4,888.0 L125.0,888.0 L127.7,887.9 L130.3,887.9 L133.0,887.8 L135.6,887.8 L138.3,887.7 L140.9,887.7 L143.6,887.6 L146.2,887.6 L148.9,887.5 L151.5,887.4 L154.2,887.3 L156.8,887.2 L159.5,887.1 L162.1,887.0 L164.8,886.9 L167.4,886.8 L170.0,886.7 L172.7,886.5 L175.3,886.4 L178.0,886.2 L180.6,886.1 L183.3,885.9 L185.9,885.7 L188.6,885.6 L191.2,885.4 L193.9,885.1 L196.5,884.9 L199.2,884.7 L201.8,884.5 L204.5,884.2 L207.1,884.0 L209.8,883.7 L212.4,883.4 L215.1,883.1 L217.7,882.8 L220.4,882.5 L223.0,882.2 L225.7,881.9 L228.3,881.5 L231.0,881.2 L233.6,880.8 L236.2,880.4 L238.9,880.1 L241.5,879.7 L244.2,879.2 L246.8,878.8 L249.5,878.4 L252.1,878.0 L254.8,877.5 L257.4,877.0 L260.1,876.6 L262.7,876.1 L265.4,875.6 L268.0,875.1 L270.7,874.6 L273.3,874.1 L276.0,873.6 L278.6,873.1 L281.3,872.5 L283.9,872.0 L286.6,871.4 L289.2,870.9 L291.9,870.3 L294.5,869.8 L297.1,869.2 L299.8,868.7 L302.4,868.1 L305.1,867.5 L307.7,867.0 L310.4,866.4 L313.0,865.8 L315.7,865.3 L318.3,864.7 L321.0,864.1 L323.6,863.6 L326.3,863.0 L328.9,862.5 L331.6,861.9 L334.2,861.4 L336.9,860.9 L339.5,860.3 L342.2,859.8 L344.8,859.3 L347.5,858.8 L350.1,858.3 L352.8,857.8 L355.4,857.4 L358.1,856.9 L360.7,856.5 L363.3,856.1 L366.0,855.7 L368.6,855.3 L371.3,854.9 L373.9,854.5 L376.6,854.2 L379.2,853.8 L381.9,853.5 L384.5,853.2 L387.2,852.9 L389.8,852.7 L392.5,852.4 L395.1,852.2 L397.8,852.0 L400.4,851.8 L403.1,851.7 L405.7,851.5 L408.4,851.4 L411.0,851.3 L413.7,851.3 L416.3,851.2 L419.0,851.2 L421.6,851.2" fill="none" stroke="#000" stroke-width="2.0" stroke-linecap="butt" stroke-linejoin="round"/><path d="M106.5,888.1 L109.1,888.1 L111.8,888.1 L114.4,888.1 L117.1,888.2 L119.7,888.3 L122.4,888.4 L125.0,888.5 L127.7,888.7 L130.3,888.8 L133.0,889.0 L135.6,889.2 L138.3,889.5 L140.9,889.7 L143.6,889.9 L146.2,890.2 L148.9,890.5 L151.5,890.8 L154.2,891.1 L156.8,891.5 L159.5,891.8 L162.1,892.2 L164.8,892.6 L167.4,893.0 L170.0,893.4 L172.7,893.8 L175.3,894.2 L178.0,894.7 L180.6,895.1 L183.3,895.6 L185.9,896.1 L188.6,896.6 L191.2,897.1 L193.9,897.6 L196.5,898.1 L199.2,898.6 L201.8,899.1 L204.5,899.7 L207.1,900.2 L209.8,900.8 L212.4,901.3 L215.1,901.9 L217.7,902.4 L220.4,903.0 L223.0,903.6 L225.7,904.1 L228.3,904.7 L231.0,905.2 L233.6,905.8 L236.2,906.4 L238.9,906.9 L241.5,907.5 L244.2,908.1 L246.8,908.6 L249.5,909.2 L252.1,909.7 L254.8,910.3 L257.4,910.8 L260.1,911.4 L262.7,911.9 L265.4,912.4 L268.0,912.9 L270.7,913.5 L273.3,914.0 L276.0,914.5 L278.6,915.0 L281.3,915.4 L283.9,915.9 L286.6,916.4 L289.2,916.9 L291.9,917.3 L294.5,917.8 L297.1,918.2 L299.8,918.6 L302.4,919.0 L305.1,919.5 L307.7,919.9 L310.4,920.2 L313.0,920.6 L315.7,921.0 L318.3,921.4 L321.0,921.7 L323.6,922.0 L326.3,922.4 L328.9,922.7 L331.6,923.0 L334.2,923.3 L336.9,923.6 L339.5,923.9 L342.2,924.2 L344.8,924.4 L347.5,924.7 L350.1,924.9 L352.8,925.1 L355.4,925.4 L358.1,925.6 L360.7,925.8 L363.3,926.0 L366.0,926.2 L368.6,926.3 L371.3,926.5 L373.9,926.7 L376.6,926.8 L379.2,927.0 L381.9,927.1 L384.5,927.2 L387.2,927.3 L389.8,927.4 L392.5,927.5 L395.1,927.6 L397.8,927.7 L400.4,927.8 L403.1,927.8 L405.7,927.9 L408.4,927.9 L411.0,927.9 L413.7,928.0 L416.3,928.0 L419.0,928.0 L421.6,928.0" fill="none" stroke="#000" stroke-width="2.0" stroke-linecap="butt" stroke-linejoin="round"/><path d="M106.5,695.6 L109.1,695.6 L111.8,695.6 L114.4,695.6 L117.1,695.6 L119.7,695.6 L122.4,695.6 L125.0,695.6 L127.7,695.6 L130.3,695.5 L133.0,695.5 L135.6,695.5 L138.3,695.5 L140.9,695.5 L143.6,695.5 L146.2,695.5 L148.9,695.4 L151.5,695.4 L154.2,695.4 L156.8,695.4 L159.5,695.4 L162.1,695.3 L164.8,695.3 L167.4,695.3 L170.0,695.3 L172.7,695.2 L175.3,695.2 L178.0,695.2 L180.6,695.2 L183.3,695.1 L185.9,695.1 L188.6,695.1 L191.2,695.1 L193.9,695.1 L196.5,695.0 L199.2,695.0 L201.8,695.0 L204.5,695.0 L207.1,694.9 L209.8,694.9 L212.4,694.9 L215.1,694.9 L217.7,694.9 L220.4,694.8 L223.0,694.8 L225.7,694.8 L228.3,694.8 L231.0,694.8 L233.6,694.8 L236.2,694.7 L238.9,694.7 L241.5,694.7 L244.2,694.7 L246.8,694.7 L249.5,694.7 L252.1,694.6 L254.8,694.6 L257.4,694.6 L260.1,694.6 L262.7,694.6 L265.4,694.6 L268.0,694.6 L270.7,694.5 L273.3,694.5 L276.0,694.5 L278.6,694.5 L281.3,694.5 L283.9,694.5 L286.6,694.4 L289.2,694.4 L291.9,694.4 L294.5,694.4 L297.1,694.4 L299.8,694.4 L302.4,694.3 L305.1,694.3 L307.7,694.3 L310.4,694.3 L313.0,694.3 L315.7,694.3 L318.3,694.2 L321.0,694.2 L323.6,694.2 L326.3,694.2 L328.9,694.2 L331.6,694.1 L334.2,694.1 L336.9,694.1 L339.5,694.1 L342.2,694.1 L344.8,694.1 L347.5,694.0 L350.1,694.0 L352.8,694.0 L355.4,694.0 L358.1,694.0 L360.7,694.0 L363.3,694.0 L366.0,693.9 L368.6,693.9 L371.3,693.9 L373.9,693.9 L376.6,693.9 L379.2,693.9 L381.9,693.9 L384.5,693.9 L387.2,693.8 L389.8,693.8 L392.5,693.8 L395.1,693.8 L397.8,693.8 L400.4,693.8 L403.1,693.8 L405.7,693.8 L408.4,693.8 L411.0,693.8 L413.7,693.8 L416.3,693.8 L419.0,693.8 L421.6,693.8" fill="none" stroke="#000" stroke-width="2.0" stroke-linecap="butt" stroke-linejoin="round"/><path d="M106.5,644.1 L109.1,644.1 L111.8,644.2 L114.4,644.3 L117.1,644.5 L119.7,644.7 L122.4,644.9 L125.0,645.2 L127.7,645.4 L130.3,645.7 L133.0,646.0 L135.6,646.4 L138.3,646.7 L140.9,647.0 L143.6,647.3 L146.2,647.6 L148.9,647.9 L151.5,648.2 L154.2,648.5 L156.8,648.8 L159.5,649.1 L162.1,649.4 L164.8,649.7 L167.4,649.9 L170.0,650.2 L172.7,650.5 L175.3,650.7 L178.0,651.0 L180.6,651.3 L183.3,651.5 L185.9,651.8 L188.6,652.0 L191.2,652.3 L193.9,652.5 L196.5,652.8 L199.2,653.0 L201.8,653.3 L204.5,653.5 L207.1,653.8 L209.8,654.0 L212.4,654.3 L215.1,654.5 L217.7,654.7 L220.4,655.0 L223.0,655.2 L225.7,655.4 L228.3,655.6 L231.0,655.9 L233.6,656.1 L236.2,656.3 L238.9,656.5 L241.5,656.7 L244.2,656.9 L246.8,657.1 L249.5,657.3 L252.1,657.5 L254.8,657.7 L257.4,657.9 L260.1,658.1 L262.7,658.3 L265.4,658.5 L268.0,658.6 L270.7,658.8 L273.3,658.9 L276.0,659.1 L278.6,659.2 L281.3,659.4 L283.9,659.5 L286.6,659.7 L289.2,659.8 L291.9,659.9 L294.5,660.0 L297.1,660.1 L299.8,660.2 L302.4,660.3 L305.1,660.4 L307.7,660.5 L310.4,660.6 L313.0,660.7 L315.7,660.8 L318.3,660.9 L321.0,660.9 L323.6,661.0 L326.3,661.1 L328.9,661.2 L331.6,661.2 L334.2,661.3 L336.9,661.3 L339.5,661.4 L342.2,661.5 L344.8,661.5 L347.5,661.6 L350.1,661.6 L352.8,661.6 L355.4,661.7 L358.1,661.7 L360.7,661.8 L363.3,661.8 L366.0,661.9 L368.6,661.9 L371.3,661.9 L373.9,662.0 L376.6,662.0 L379.2,662.1 L381.9,662.1 L384.5,662.1 L387.2,662.2 L389.8,662.2 L392.5,662.2 L395.1,662.2 L397.8,662.3 L400.4,662.3 L403.1,662.3 L405.7,662.3 L408.4,662.3 L411.0,662.3 L413.7,662.3 L416.3,662.4 L419.0,662.4 L421.6,662.4" fill="none" stroke="#000" stroke-width="2.0" stroke-linecap="butt" stroke-linejoin="round"/><path d="M106.5,605.6 L108.5,605.6 L110.5,605.4 L112.5,605.1 L114.4,604.8 L116.4,604.4 L118.4,604.0 L120.4,603.5 L122.4,603.1 L124.4,602.6 L126.4,602.2 L128.3,601.7 L130.3,601.3 L132.3,600.8 L134.3,600.3 L136.3,599.7 L138.3,599.1 L140.3,598.5 L142.2,597.8 L144.2,597.1 L146.2,596.3 L148.2,595.5 L150.2,594.6 L152.2,593.7 L154.2,592.8 L156.1,591.8 L158.1,590.8 L160.1,589.7 L162.1,588.6 L164.1,587.5 L166.1,586.3 L168.1,585.2 L170.0,584.0 L172.0,582.7 L174.0,581.5 L176.0,580.2 L178.0,578.9 L180.0,577.6 L182.0,576.2 L184.0,574.9 L185.9,573.5 L187.9,572.1 L189.9,570.7 L191.9,569.2 L193.9,567.7 L195.9,566.2 L197.9,564.7 L199.8,563.1 L201.8,561.5 L203.8,559.9 L205.8,558.3 L207.8,556.7 L209.8,555.0 L211.8,553.4 L213.7,551.7 L215.7,550.1 L217.7,548.4 L219.7,546.8 L221.7,545.2 L223.7,543.6 L225.7,542.1 L227.6,540.6 L229.6,539.1 L231.6,537.7 L233.6,536.3 L235.6,534.9 L237.6,533.6 L239.6,532.2 L241.5,530.9 L243.5,529.6 L245.5,528.2 L247.5,526.8 L249.5,525.4 L251.5,524.1 L253.5,522.7 L255.4,521.3 L257.4,519.9 L259.4,518.5 L261.4,517.2 L263.4,515.8 L265.4,514.4 L267.4,513.0 L269.3,511.7 L271.3,510.2 L273.3,508.8 L275.3,507.4 L277.3,505.9 L279.3,504.4 L281.3,502.9 L283.2,501.4 L285.2,499.8 L287.2,498.2 L289.2,496.5 L291.2,494.8 L293.2,493.1 L295.2,491.3 L297.1,489.5 L299.1,487.6 L301.1,485.7 L303.1,483.8 L305.1,481.8 L307.1,479.9 L309.1,478.0 L311.1,476.1 L313.0,474.2 L315.0,472.4 L317.0,470.6 L319.0,468.9 L321.0,467.3 L323.0,465.8 L325.0,464.3 L326.9,463.0 L328.9,461.8 L330.9,460.7 L332.9,459.7 L334.9,458.9 L336.9,458.3 L338.9,457.8 L340.8,457.5 L342.8,457.4" fill="none" stroke="#000" stroke-width="2.0" stroke-linecap="butt" stroke-linejoin="round"/><path d="M106.5,605.9 L108.0,605.9 L109.4,605.8 L110.9,605.7 L112.3,605.5 L113.8,605.2 L115.2,604.9 L116.7,604.5 L118.2,604.1 L119.6,603.7 L121.1,603.2 L122.5,602.7 L124.0,602.2 L125.4,601.6 L126.9,601.0 L128.3,600.4 L129.8,599.7 L131.3,599.1 L132.7,598.4 L134.2,597.7 L135.6,597.0 L137.1,596.3 L138.5,595.6 L140.0,594.9 L141.5,594.2 L142.9,593.5 L144.4,592.8 L145.8,592.1 L147.3,591.4 L148.7,590.7 L150.2,590.0 L151.6,589.2 L153.1,588.5 L154.6,587.8 L156.0,587.0 L157.5,586.3 L158.9,585.5 L160.4,584.7 L161.8,583.9 L163.3,583.1 L164.8,582.2 L166.2,581.4 L167.7,580.5 L169.1,579.6 L170.6,578.6 L172.0,577.7 L173.5,576.7 L174.9,575.7 L176.4,574.7 L177.9,573.6 L179.3,572.5 L180.8,571.4 L182.2,570.2 L183.7,569.1 L185.1,567.9 L186.6,566.7 L188.1,565.5 L189.5,564.3 L191.0,563.0 L192.4,561.8 L193.9,560.5 L195.3,559.3 L196.8,558.0 L198.2,556.7 L199.7,555.4 L201.2,554.1 L202.6,552.8 L204.1,551.5 L205.5,550.1 L207.0,548.8 L208.4,547.4 L209.9,546.1 L211.4,544.7 L212.8,543.4 L214.3,542.0 L215.7,540.6 L217.2,539.3 L218.6,537.9 L220.1,536.5 L221.6,535.1 L223.0,533.7 L224.5,532.4 L225.9,530.9 L227.4,529.5 L228.8,528.0 L230.3,526.5 L231.7,524.8 L233.2,523.2 L234.7,521.4 L236.1,519.6 L237.6,517.8 L239.0,515.9 L240.5,513.9 L241.9,512.0 L243.4,510.0 L244.9,508.0 L246.3,506.0 L247.8,504.0 L249.2,502.1 L250.7,500.1 L252.1,498.2 L253.6,496.2 L255.0,494.4 L256.5,492.6 L258.0,490.8 L259.4,489.1 L260.9,487.4 L262.3,485.9 L263.8,484.4 L265.2,483.0 L266.7,481.7 L268.2,480.5 L269.6,479.5 L271.1,478.5 L272.5,477.7 L274.0,477.0 L275.4,476.4 L276.9,476.0 L278.3,475.8 L279.8,475.7" fill="none" stroke="#000" stroke-width="2.0" stroke-linecap="butt" stroke-linejoin="round"/><path d="M106.5,696.2 L109.1,696.3 L111.8,696.4 L114.4,696.6 L117.1,696.9 L119.7,697.2 L122.4,697.6 L125.0,698.1 L127.7,698.7 L130.3,699.3 L133.0,700.0 L135.6,700.8 L138.3,701.6 L140.9,702.4 L143.6,703.4 L146.2,704.3 L148.9,705.3 L151.5,706.4 L154.2,707.5 L156.8,708.6 L159.5,709.8 L162.1,711.0 L164.8,712.2 L167.4,713.4 L170.0,714.7 L172.7,716.0 L175.3,717.3 L178.0,718.6 L180.6,720.0 L183.3,721.3 L185.9,722.6 L188.6,723.9 L191.2,725.2 L193.9,726.5 L196.5,727.8 L199.2,729.0 L201.8,730.3 L204.5,731.5 L207.1,732.7 L209.8,733.8 L212.4,735.0 L215.1,736.2 L217.7,737.4 L220.4,738.6 L223.0,739.8 L225.7,741.1 L228.3,742.3 L231.0,743.7 L233.6,745.0 L236.2,746.4 L238.9,747.9 L241.5,749.3 L244.2,750.8 L246.8,752.3 L249.5,753.8 L252.1,755.3 L254.8,756.8 L257.4,758.3 L260.1,759.8 L262.7,761.3 L265.4,762.7 L268.0,764.2 L270.7,765.6 L273.3,767.0 L276.0,768.4 L278.6,769.7 L281.3,771.0 L283.9,772.3 L286.6,773.6 L289.2,774.9 L291.9,776.1 L294.5,777.2 L297.1,778.3 L299.8,779.2 L302.4,780.2 L305.1,781.0 L307.7,781.9 L310.4,782.8 L313.0,783.8 L315.7,784.9 L318.3,786.0 L321.0,787.2 L323.6,788.4 L326.3,789.7 L328.9,790.9 L331.6,792.1 L334.2,793.3 L336.9,794.3 L339.5,795.3 L342.2,796.3 L344.8,797.2 L347.5,798.1 L350.1,798.9 L352.8,799.8 L355.4,800.6 L358.1,801.4 L360.7,802.3 L363.3,803.1 L366.0,803.9 L368.6,804.7 L371.3,805.4 L373.9,806.2 L376.6,806.9 L379.2,807.6 L381.9,808.2 L384.5,808.8 L387.2,809.4 L389.8,809.9 L392.5,810.3 L395.1,810.7 L397.8,811.0 L400.4,811.3 L403.1,811.6 L405.7,811.8 L408.4,812.1 L411.0,812.3 L413.7,812.4 L416.3,812.6 L419.0,812.7 L421.6,812.7" fill="none" stroke="#000" stroke-width="2.3" stroke-linecap="butt" stroke-linejoin="round"/><path d="M106.5,699.9 L109.1,699.9 L111.8,700.0 L114.4,700.2 L117.1,700.4 L119.7,700.7 L122.4,701.1 L125.0,701.5 L127.7,702.0 L130.3,702.5 L133.0,703.1 L135.6,703.8 L138.3,704.5 L140.9,705.3 L143.6,706.1 L146.2,707.0 L148.9,708.0 L151.5,708.9 L154.2,710.0 L156.8,711.1 L159.5,712.2 L162.1,713.4 L164.8,714.6 L167.4,715.8 L170.0,717.1 L172.7,718.4 L175.3,719.7 L178.0,721.1 L180.6,722.4 L183.3,723.7 L185.9,725.1 L188.6,726.4 L191.2,727.7 L193.9,729.0 L196.5,730.3 L199.2,731.5 L201.8,732.7 L204.5,733.8 L207.1,735.0 L209.8,736.1 L212.4,737.2 L215.1,738.3 L217.7,739.5 L220.4,740.6 L223.0,741.8 L225.7,742.9 L228.3,744.2 L231.0,745.5 L233.6,746.8 L236.2,748.2 L238.9,749.6 L241.5,751.1 L244.2,752.6 L246.8,754.1 L249.5,755.6 L252.1,757.1 L254.8,758.6 L257.4,760.1 L260.1,761.7 L262.7,763.2 L265.4,764.7 L268.0,766.1 L270.7,767.6 L273.3,769.0 L276.0,770.4 L278.6,771.7 L281.3,773.0 L283.9,774.3 L286.6,775.5 L289.2,776.6 L291.9,777.7 L294.5,778.8 L297.1,779.7 L299.8,780.6 L302.4,781.5 L305.1,782.3 L307.7,783.2 L310.4,784.1 L313.0,785.0 L315.7,786.1 L318.3,787.2 L321.0,788.4 L323.6,789.6 L326.3,790.9 L328.9,792.1 L331.6,793.3 L334.2,794.5 L336.9,795.5 L339.5,796.5 L342.2,797.5 L344.8,798.4 L347.5,799.3 L350.1,800.1 L352.8,801.0 L355.4,801.8 L358.1,802.7 L360.7,803.5 L363.3,804.4 L366.0,805.2 L368.6,805.9 L371.3,806.7 L373.9,807.3 L376.6,808.0 L379.2,808.6 L381.9,809.1 L384.5,809.6 L387.2,810.1 L389.8,810.5 L392.5,810.9 L395.1,811.3 L397.8,811.6 L400.4,811.9 L403.1,812.2 L405.7,812.4 L408.4,812.7 L411.0,812.9 L413.7,813.1 L416.3,813.2 L419.0,813.3 L421.6,813.3" fill="none" stroke="#000" stroke-width="2.3" stroke-linecap="butt" stroke-linejoin="round"/><path d="M106.5,775.5 L109.1,775.5 L111.8,775.5 L114.4,775.5 L117.1,775.5 L119.7,775.6 L122.4,775.6 L125.0,775.6 L127.7,775.6 L130.3,775.6 L133.0,775.6 L135.6,775.6 L138.3,775.6 L140.9,775.6 L143.6,775.6 L146.2,775.6 L148.9,775.6 L151.5,775.6 L154.2,775.7 L156.8,775.7 L159.5,775.7 L162.1,775.7 L164.8,775.7 L167.4,775.7 L170.0,775.7 L172.7,775.7 L175.3,775.7 L178.0,775.7 L180.6,775.7 L183.3,775.7 L185.9,775.7 L188.6,775.8 L191.2,775.8 L193.9,775.8 L196.5,775.8 L199.2,775.8 L201.8,775.8 L204.5,775.8 L207.1,775.8 L209.8,775.8 L212.4,775.8 L215.1,775.8 L217.7,775.8 L220.4,775.8 L223.0,775.9 L225.7,775.9 L228.3,775.9 L231.0,775.9 L233.6,775.9 L236.2,775.9 L238.9,775.9 L241.5,775.9 L244.2,775.9 L246.8,775.9 L249.5,775.9 L252.1,775.9 L254.8,775.9 L257.4,776.0 L260.1,776.0 L262.7,776.0 L265.4,776.0 L268.0,776.0 L270.7,776.0 L273.3,776.0 L276.0,776.0 L278.6,776.0 L281.3,776.0 L283.9,776.0 L286.6,776.0 L289.2,776.0 L291.9,776.1 L294.5,776.1 L297.1,776.1 L299.8,776.1 L302.4,776.1 L305.1,776.1 L307.7,776.1 L310.4,776.1 L313.0,776.1 L315.7,776.1 L318.3,776.1 L321.0,776.1 L323.6,776.1 L326.3,776.2 L328.9,776.2 L331.6,776.2 L334.2,776.2 L336.9,776.2 L339.5,776.2 L342.2,776.2 L344.8,776.2 L347.5,776.2 L350.1,776.2 L352.8,776.2 L355.4,776.2 L358.1,776.2 L360.7,776.3 L363.3,776.3 L366.0,776.3 L368.6,776.3 L371.3,776.3 L373.9,776.3 L376.6,776.3 L379.2,776.3 L381.9,776.3 L384.5,776.3 L387.2,776.3 L389.8,776.3 L392.5,776.3 L395.1,776.4 L397.8,776.4 L400.4,776.4 L403.1,776.4 L405.7,776.4 L408.4,776.4 L411.0,776.4 L413.7,776.4 L416.3,776.4 L419.0,776.4 L421.6,776.4" fill="none" stroke="#ff0000" stroke-width="2.6" stroke-dasharray="7 2.2" stroke-linecap="butt" stroke-linejoin="round"/><path d="M106.5,775.8 L109.1,775.8 L111.8,775.9 L114.4,776.0 L117.1,776.1 L119.7,776.3 L122.4,776.5 L125.0,776.8 L127.7,777.1 L130.3,777.4 L133.0,777.8 L135.6,778.2 L138.3,778.7 L140.9,779.2 L143.6,779.7 L146.2,780.3 L148.9,780.9 L151.5,781.5 L154.2,782.2 L156.8,782.9 L159.5,783.6 L162.1,784.4 L164.8,785.1 L167.4,786.0 L170.0,786.8 L172.7,787.7 L175.3,788.6 L178.0,789.5 L180.6,790.5 L183.3,791.5 L185.9,792.4 L188.6,793.5 L191.2,794.5 L193.9,795.6 L196.5,796.6 L199.2,797.7 L201.8,798.8 L204.5,800.0 L207.1,801.1 L209.8,802.2 L212.4,803.4 L215.1,804.6 L217.7,805.7 L220.4,806.9 L223.0,808.1 L225.7,809.3 L228.3,810.5 L231.0,811.7 L233.6,812.9 L236.2,814.1 L238.9,815.3 L241.5,816.5 L244.2,817.7 L246.8,818.9 L249.5,820.0 L252.1,821.2 L254.8,822.4 L257.4,823.6 L260.1,824.7 L262.7,825.9 L265.4,827.0 L268.0,828.1 L270.7,829.3 L273.3,830.4 L276.0,831.5 L278.6,832.5 L281.3,833.6 L283.9,834.7 L286.6,835.7 L289.2,836.7 L291.9,837.7 L294.5,838.7 L297.1,839.7 L299.8,840.6 L302.4,841.5 L305.1,842.4 L307.7,843.3 L310.4,844.2 L313.0,845.1 L315.7,845.9 L318.3,846.7 L321.0,847.5 L323.6,848.3 L326.3,849.0 L328.9,849.7 L331.6,850.5 L334.2,851.1 L336.9,851.8 L339.5,852.5 L342.2,853.1 L344.8,853.7 L347.5,854.3 L350.1,854.8 L352.8,855.4 L355.4,855.9 L358.1,856.4 L360.7,856.9 L363.3,857.3 L366.0,857.7 L368.6,858.2 L371.3,858.5 L373.9,858.9 L376.6,859.3 L379.2,859.6 L381.9,859.9 L384.5,860.2 L387.2,860.5 L389.8,860.7 L392.5,860.9 L395.1,861.1 L397.8,861.3 L400.4,861.5 L403.1,861.7 L405.7,861.8 L408.4,861.9 L411.0,862.0 L413.7,862.0 L416.3,862.1 L419.0,862.1 L421.6,862.1" fill="none" stroke="#ff0000" stroke-width="2.6" stroke-dasharray="7 2.2" stroke-linecap="butt" stroke-linejoin="round"/><path d="M106.5,888.1 L109.1,888.1 L111.8,888.1 L114.4,888.1 L117.1,888.2 L119.7,888.3 L122.4,888.4 L125.0,888.5 L127.7,888.7 L130.3,888.8 L133.0,889.0 L135.6,889.2 L138.3,889.5 L140.9,889.7 L143.6,889.9 L146.2,890.2 L148.9,890.5 L151.5,890.8 L154.2,891.1 L156.8,891.5 L159.5,891.8 L162.1,892.2 L164.8,892.6 L167.4,893.0 L170.0,893.4 L172.7,893.8 L175.3,894.2 L178.0,894.7 L180.6,895.1 L183.3,895.6 L185.9,896.1 L188.6,896.6 L191.2,897.1 L193.9,897.6 L196.5,898.1 L199.2,898.6 L201.8,899.1 L204.5,899.7 L207.1,900.2 L209.8,900.8 L212.4,901.3 L215.1,901.9 L217.7,902.4 L220.4,903.0 L223.0,903.6 L225.7,904.1 L228.3,904.7 L231.0,905.2 L233.6,905.8 L236.2,906.4 L238.9,906.9 L241.5,907.5 L244.2,908.1 L246.8,908.6 L249.5,909.2 L252.1,909.7 L254.8,910.3 L257.4,910.8 L260.1,911.4 L262.7,911.9 L265.4,912.4 L268.0,912.9 L270.7,913.5 L273.3,914.0 L276.0,914.5 L278.6,915.0 L281.3,915.4 L283.9,915.9 L286.6,916.4 L289.2,916.9 L291.9,917.3 L294.5,917.8 L297.1,918.2 L299.8,918.6 L302.4,919.0 L305.1,919.5 L307.7,919.9 L310.4,920.2 L313.0,920.6 L315.7,921.0 L318.3,921.4 L321.0,921.7 L323.6,922.0 L326.3,922.4 L328.9,922.7 L331.6,923.0 L334.2,923.3 L336.9,923.6 L339.5,923.9 L342.2,924.2 L344.8,924.4 L347.5,924.7 L350.1,924.9 L352.8,925.1 L355.4,925.4 L358.1,925.6 L360.7,925.8 L363.3,926.0 L366.0,926.2 L368.6,926.3 L371.3,926.5 L373.9,926.7 L376.6,926.8 L379.2,927.0 L381.9,927.1 L384.5,927.2 L387.2,927.3 L389.8,927.4 L392.5,927.5 L395.1,927.6 L397.8,927.7 L400.4,927.8 L403.1,927.8 L405.7,927.9 L408.4,927.9 L411.0,927.9 L413.7,928.0 L416.3,928.0 L419.0,928.0 L421.6,928.0" fill="none" stroke="#ff0000" stroke-width="2.6" stroke-dasharray="7 2.2" stroke-linecap="butt" stroke-linejoin="round"/><path d="M106.5,888.1 L109.1,888.1 L111.8,888.1 L114.4,888.0 L117.1,888.0 L119.7,888.0 L122.4,888.0 L125.0,888.0 L127.7,887.9 L130.3,887.9 L133.0,887.8 L135.6,887.8 L138.3,887.7 L140.9,887.7 L143.6,887.6 L146.2,887.6 L148.9,887.5 L151.5,887.4 L154.2,887.3 L156.8,887.2 L159.5,887.1 L162.1,887.0 L164.8,886.9 L167.4,886.8 L170.0,886.7 L172.7,886.5 L175.3,886.4 L178.0,886.2 L180.6,886.1 L183.3,885.9 L185.9,885.7 L188.6,885.6 L191.2,885.4 L193.9,885.1 L196.5,884.9 L199.2,884.7 L201.8,884.5 L204.5,884.2 L207.1,884.0 L209.8,883.7 L212.4,883.4 L215.1,883.1 L217.7,882.8 L220.4,882.5 L223.0,882.2 L225.7,881.9 L228.3,881.5 L231.0,881.2 L233.6,880.8 L236.2,880.4 L238.9,880.1 L241.5,879.7 L244.2,879.2 L246.8,878.8 L249.5,878.4 L252.1,878.0 L254.8,877.5 L257.4,877.0 L260.1,876.6 L262.7,876.1 L265.4,875.6 L268.0,875.1 L270.7,874.6 L273.3,874.1 L276.0,873.6 L278.6,873.1 L281.3,872.5 L283.9,872.0 L286.6,871.4 L289.2,870.9 L291.9,870.3 L294.5,869.8 L297.1,869.2 L299.8,868.7 L302.4,868.1 L305.1,867.5 L307.7,867.0 L310.4,866.4 L313.0,865.8 L315.7,865.3 L318.3,864.7 L321.0,864.1 L323.6,863.6 L326.3,863.0 L328.9,862.5 L331.6,861.9 L334.2,861.4 L336.9,860.9 L339.5,860.3 L342.2,859.8 L344.8,859.3 L347.5,858.8 L350.1,858.3 L352.8,857.8 L355.4,857.4 L358.1,856.9 L360.7,856.5 L363.3,856.1 L366.0,855.7 L368.6,855.3 L371.3,854.9 L373.9,854.5 L376.6,854.2 L379.2,853.8 L381.9,853.5 L384.5,853.2 L387.2,852.9 L389.8,852.7 L392.5,852.4 L395.1,852.2 L397.8,852.0 L400.4,851.8 L403.1,851.7 L405.7,851.5 L408.4,851.4 L411.0,851.3 L413.7,851.3 L416.3,851.2 L419.0,851.2 L421.6,851.2" fill="none" stroke="#ff0000" stroke-width="3.8" stroke-dasharray="7.5 2.2" stroke-linecap="butt" stroke-linejoin="round"/><path d="M106.5,696.2 L109.1,696.3 L111.8,696.4 L114.4,696.6 L117.1,696.9 L119.7,697.2 L122.4,697.6 L125.0,698.1 L127.7,698.7 L130.3,699.3 L133.0,700.0 L135.6,700.8 L138.3,701.6 L140.9,702.4 L143.6,703.4 L146.2,704.3 L148.9,705.3 L151.5,706.4 L154.2,707.5 L156.8,708.6 L159.5,709.8 L162.1,711.0 L164.8,712.2 L167.4,713.4 L170.0,714.7 L172.7,716.0 L175.3,717.3 L178.0,718.6 L180.6,720.0 L183.3,721.3 L185.9,722.6 L188.6,723.9 L191.2,725.2 L193.9,726.5 L196.5,727.8 L199.2,729.0 L201.8,730.3 L204.5,731.5 L207.1,732.7 L209.8,733.8 L212.4,735.0 L215.1,736.2 L217.7,737.4 L220.4,738.6 L223.0,739.8 L225.7,741.1 L228.3,742.3 L231.0,743.7 L233.6,745.0 L236.2,746.4 L238.9,747.9 L241.5,749.3 L244.2,750.8 L246.8,752.3 L249.5,753.8 L252.1,755.3 L254.8,756.8 L257.4,758.3 L260.1,759.8 L262.7,761.3 L265.4,762.7 L268.0,764.2 L270.7,765.6 L273.3,767.0 L276.0,768.4 L278.6,769.7 L281.3,771.0 L283.9,772.3 L286.6,773.6 L289.2,774.9 L291.9,776.1 L294.5,777.2 L297.1,778.3 L299.8,779.2 L302.4,780.2 L305.1,781.0 L307.7,781.9 L310.4,782.8 L313.0,783.8 L315.7,784.9 L318.3,786.0 L321.0,787.2 L323.6,788.4 L326.3,789.7 L328.9,790.9 L331.6,792.1 L334.2,793.3 L336.9,794.3 L339.5,795.3 L342.2,796.3 L344.8,797.2 L347.5,798.1 L350.1,798.9 L352.8,799.8 L355.4,800.6 L358.1,801.4 L360.7,802.3 L363.3,803.1 L366.0,803.9 L368.6,804.7 L371.3,805.4 L373.9,806.2 L376.6,806.9 L379.2,807.6 L381.9,808.2 L384.5,808.8 L387.2,809.4 L389.8,809.9 L392.5,810.3 L395.1,810.7 L397.8,811.0 L400.4,811.3 L403.1,811.6 L405.7,811.8 L408.4,812.1 L411.0,812.3 L413.7,812.4 L416.3,812.6 L419.0,812.7 L421.6,812.7" fill="none" stroke="#ff0000" stroke-width="2.6" stroke-dasharray="7 2.2" stroke-linecap="butt" stroke-linejoin="round"/><path d="M106.5,699.9 L109.1,699.9 L111.8,700.0 L114.4,700.2 L117.1,700.4 L119.7,700.7 L122.4,701.1 L125.0,701.5 L127.7,702.0 L130.3,702.5 L133.0,703.1 L135.6,703.8 L138.3,704.5 L140.9,705.3 L143.6,706.1 L146.2,707.0 L148.9,708.0 L151.5,708.9 L154.2,710.0 L156.8,711.1 L159.5,712.2 L162.1,713.4 L164.8,714.6 L167.4,715.8 L170.0,717.1 L172.7,718.4 L175.3,719.7 L178.0,721.1 L180.6,722.4 L183.3,723.7 L185.9,725.1 L188.6,726.4 L191.2,727.7 L193.9,729.0 L196.5,730.3 L199.2,731.5 L201.8,732.7 L204.5,733.8 L207.1,735.0 L209.8,736.1 L212.4,737.2 L215.1,738.3 L217.7,739.5 L220.4,740.6 L223.0,741.8 L225.7,742.9 L228.3,744.2 L231.0,745.5 L233.6,746.8 L236.2,748.2 L238.9,749.6 L241.5,751.1 L244.2,752.6 L246.8,754.1 L249.5,755.6 L252.1,757.1 L254.8,758.6 L257.4,760.1 L260.1,761.7 L262.7,763.2 L265.4,764.7 L268.0,766.1 L270.7,767.6 L273.3,769.0 L276.0,770.4 L278.6,771.7 L281.3,773.0 L283.9,774.3 L286.6,775.5 L289.2,776.6 L291.9,777.7 L294.5,778.8 L297.1,779.7 L299.8,780.6 L302.4,781.5 L305.1,782.3 L307.7,783.2 L310.4,784.1 L313.0,785.0 L315.7,786.1 L318.3,787.2 L321.0,788.4 L323.6,789.6 L326.3,790.9 L328.9,792.1 L331.6,793.3 L334.2,794.5 L336.9,795.5 L339.5,796.5 L342.2,797.5 L344.8,798.4 L347.5,799.3 L350.1,800.1 L352.8,801.0 L355.4,801.8 L358.1,802.7 L360.7,803.5 L363.3,804.4 L366.0,805.2 L368.6,805.9 L371.3,806.7 L373.9,807.3 L376.6,808.0 L379.2,808.6 L381.9,809.1 L384.5,809.6 L387.2,810.1 L389.8,810.5 L392.5,810.9 L395.1,811.3 L397.8,811.6 L400.4,811.9 L403.1,812.2 L405.7,812.4 L408.4,812.7 L411.0,812.9 L413.7,813.1 L416.3,813.2 L419.0,813.3 L421.6,813.3" fill="none" stroke="#ff0000" stroke-width="2.6" stroke-dasharray="7 2.2" stroke-linecap="butt" stroke-linejoin="round"/><path d="M106.5,692.6 L108.5,692.6 L110.5,692.6 L112.4,692.6 L114.4,692.7 L116.4,692.7 L118.4,692.7 L120.4,692.7 L122.4,692.7 L124.3,692.7 L126.3,692.6 L128.3,692.6 L130.3,692.5 L132.3,692.3 L134.2,692.2 L136.2,692.0 L138.2,691.8 L140.2,691.6 L142.2,691.3 L144.2,691.0 L146.1,690.7 L148.1,690.4 L150.1,690.1 L152.1,689.7 L154.1,689.4 L156.0,689.0 L158.0,688.7 L160.0,688.3 L162.0,687.9 L164.0,687.5 L166.0,687.2 L167.9,686.8 L169.9,686.5 L171.9,686.2 L173.9,685.9 L175.9,685.6 L177.8,685.3 L179.8,685.0 L181.8,684.7 L183.8,684.5 L185.8,684.2 L187.8,683.9 L189.7,683.6 L191.7,683.4 L193.7,683.1 L195.7,682.8 L197.7,682.4 L199.6,682.1 L201.6,681.8 L203.6,681.5 L205.6,681.2 L207.6,680.8 L209.6,680.5 L211.5,680.2 L213.5,679.9 L215.5,679.7 L217.5,679.4 L219.5,679.1 L221.4,678.9 L223.4,678.7 L225.4,678.5 L227.4,678.3 L229.4,678.1 L231.4,678.0 L233.3,677.8 L235.3,677.7 L237.3,677.5 L239.3,677.4 L241.3,677.2 L243.2,677.1 L245.2,677.0 L247.2,676.9 L249.2,676.7 L251.2,676.6 L253.2,676.5 L255.1,676.4 L257.1,676.3 L259.1,676.1 L261.1,676.0 L263.1,675.9 L265.0,675.8 L267.0,675.7 L269.0,675.6 L271.0,675.5 L273.0,675.4 L274.9,675.3 L276.9,675.3 L278.9,675.2 L280.9,675.1 L282.9,675.0 L284.9,674.9 L286.8,674.8 L288.8,674.7 L290.8,674.7 L292.8,674.6 L294.8,674.5 L296.7,674.4 L298.7,674.4 L300.7,674.3 L302.7,674.2 L304.7,674.2 L306.7,674.1 L308.6,674.0 L310.6,674.0 L312.6,673.9 L314.6,673.8 L316.6,673.8 L318.5,673.7 L320.5,673.7 L322.5,673.6 L324.5,673.6 L326.5,673.5 L328.5,673.4 L330.4,673.4 L332.4,673.3 L334.4,673.3 L336.4,673.2 L338.4,673.2 L340.3,673.1 L342.3,673.1 L344.3,673.0 L346.3,673.0 L348.3,672.9 L350.3,672.9 L352.2,672.8 L354.2,672.8 L356.2,672.8 L358.2,672.7 L360.2,672.7 L362.1,672.6 L364.1,672.6 L366.1,672.6 L368.1,672.5 L370.1,672.5 L372.1,672.4 L374.0,672.4 L376.0,672.4 L378.0,672.4 L380.0,672.3 L382.0,672.3 L383.9,672.3 L385.9,672.3 L387.9,672.2 L389.9,672.2 L391.9,672.2 L393.9,672.2 L395.8,672.2 L397.8,672.1 L399.8,672.1 L401.8,672.1 L403.8,672.1 L405.7,672.1 L407.7,672.1 L409.7,672.1 L411.7,672.1 L413.7,672.1 L415.7,672.1 L417.6,672.1 L419.6,672.1 L421.6,672.1" fill="none" stroke="#ff0000" stroke-width="2.2" stroke-dasharray="7 4" stroke-linecap="butt" stroke-linejoin="round"/><path d="M106.5,606.9 L107.4,606.8 L108.4,606.8 L109.3,606.6 L110.2,606.5 L111.1,606.3 L112.1,606.1 L113.0,605.8 L113.9,605.5 L114.8,605.1 L115.8,604.7 L116.7,604.3 L117.6,603.9 L118.5,603.4 L119.5,602.9 L120.4,602.4 L121.3,601.8 L122.3,601.3 L123.2,600.7 L124.1,600.0 L125.0,599.4 L126.0,598.7 L126.9,598.1 L127.8,597.4 L128.7,596.7 L129.7,596.0 L130.6,595.2 L131.5,594.5 L132.4,593.8 L133.4,593.0 L134.3,592.3 L135.2,591.5 L136.2,590.8 L137.1,590.0 L138.0,589.3 L138.9,588.5 L139.9,587.8 L140.8,587.0 L141.7,586.3 L142.6,585.6 L143.6,584.8 L144.5,584.1 L145.4,583.4 L146.4,582.6 L147.3,581.9 L148.2,581.2 L149.1,580.5 L150.1,579.8 L151.0,579.0 L151.9,578.3 L152.8,577.6 L153.8,576.8 L154.7,576.1 L155.6,575.4 L156.5,574.6 L157.5,573.9 L158.4,573.1 L159.3,572.4 L160.3,571.6 L161.2,570.8 L162.1,570.1 L163.0,569.3 L164.0,568.5 L164.9,567.7 L165.8,566.9 L166.7,566.1 L167.7,565.2 L168.6,564.4 L169.5,563.5 L170.4,562.7 L171.4,561.8 L172.3,560.9 L173.2,560.0 L174.2,559.1 L175.1,558.2 L176.0,557.2 L176.9,556.3 L177.9,555.3 L178.8,554.3 L179.7,553.3 L180.6,552.3 L181.6,551.2 L182.5,550.1 L183.4,549.0 L184.3,547.9 L185.3,546.8 L186.2,545.6 L187.1,544.4 L188.1,543.2 L189.0,542.0 L189.9,540.7 L190.8,539.3 L191.8,538.0 L192.7,536.6 L193.6,535.1 L194.5,533.7 L195.5,532.1 L196.4,530.6 L197.3,529.0 L198.2,527.3 L199.2,525.6 L200.1,523.9 L201.0,522.1 L202.0,520.2 L202.9,518.4 L203.8,516.6 L204.7,514.7 L205.7,513.0 L206.6,511.2 L207.5,509.6 L208.4,508.0 L209.4,506.5 L210.3,505.1 L211.2,503.9 L212.2,502.8 L213.1,501.9 L214.0,501.1 L214.9,500.6 L215.9,500.2 L216.8,500.1" fill="none" stroke="#ff0000" stroke-width="2.6" stroke-dasharray="7 4" stroke-linecap="butt" stroke-linejoin="round"/><path d="M106.5,605.6 L108.5,605.6 L110.5,605.4 L112.5,605.1 L114.4,604.8 L116.4,604.4 L118.4,604.0 L120.4,603.5 L122.4,603.1 L124.4,602.6 L126.4,602.2 L128.3,601.7 L130.3,601.3 L132.3,600.8 L134.3,600.3 L136.3,599.7 L138.3,599.1 L140.3,598.5 L142.2,597.8 L144.2,597.1 L146.2,596.3 L148.2,595.5 L150.2,594.6 L152.2,593.7 L154.2,592.8 L156.1,591.8 L158.1,590.8 L160.1,589.7 L162.1,588.6 L164.1,587.5 L166.1,586.3 L168.1,585.2 L170.0,584.0 L172.0,582.7 L174.0,581.5 L176.0,580.2 L178.0,578.9 L180.0,577.6 L182.0,576.2 L184.0,574.9 L185.9,573.5 L187.9,572.1 L189.9,570.7 L191.9,569.2 L193.9,567.7 L195.9,566.2 L197.9,564.7 L199.8,563.1 L201.8,561.5 L203.8,559.9 L205.8,558.3 L207.8,556.7 L209.8,555.0 L211.8,553.4 L213.7,551.7 L215.7,550.1 L217.7,548.4 L219.7,546.8 L221.7,545.2 L223.7,543.6 L225.7,542.1 L227.6,540.6 L229.6,539.1 L231.6,537.7 L233.6,536.3 L235.6,534.9 L237.6,533.6 L239.6,532.2 L241.5,530.9 L243.5,529.6 L245.5,528.2 L247.5,526.8 L249.5,525.4 L251.5,524.1 L253.5,522.7 L255.4,521.3 L257.4,519.9 L259.4,518.5 L261.4,517.2 L263.4,515.8 L265.4,514.4 L267.4,513.0 L269.3,511.7 L271.3,510.2 L273.3,508.8 L275.3,507.4 L277.3,505.9 L279.3,504.4 L281.3,502.9 L283.2,501.4 L285.2,499.8 L287.2,498.2 L289.2,496.5 L291.2,494.8 L293.2,493.1 L295.2,491.3 L297.1,489.5 L299.1,487.6 L301.1,485.7 L303.1,483.8 L305.1,481.8 L307.1,479.9 L309.1,478.0 L311.1,476.1 L313.0,474.2 L315.0,472.4 L317.0,470.6 L319.0,468.9 L321.0,467.3 L323.0,465.8 L325.0,464.3 L326.9,463.0 L328.9,461.8 L330.9,460.7 L332.9,459.7 L334.9,458.9 L336.9,458.3 L338.9,457.8 L340.8,457.5 L342.8,457.4" fill="none" stroke="#ff0000" stroke-width="2.6" stroke-dasharray="7 2.2" stroke-linecap="butt" stroke-linejoin="round"/><path d="M106.5,644.1 L109.1,644.1 L111.8,644.2 L114.4,644.3 L117.1,644.5 L119.7,644.7 L122.4,644.9 L125.0,645.2 L127.7,645.4 L130.3,645.7 L133.0,646.0 L135.6,646.4 L138.3,646.7 L140.9,647.0 L143.6,647.3 L146.2,647.6 L148.9,647.9 L151.5,648.2 L154.2,648.5 L156.8,648.8 L159.5,649.1 L162.1,649.4 L164.8,649.7 L167.4,649.9 L170.0,650.2 L172.7,650.5 L175.3,650.7 L178.0,651.0 L180.6,651.3 L183.3,651.5 L185.9,651.8 L188.6,652.0 L191.2,652.3 L193.9,652.5 L196.5,652.8 L199.2,653.0 L201.8,653.3 L204.5,653.5 L207.1,653.8 L209.8,654.0 L212.4,654.3 L215.1,654.5 L217.7,654.7 L220.4,655.0 L223.0,655.2 L225.7,655.4 L228.3,655.6 L231.0,655.9 L233.6,656.1 L236.2,656.3 L238.9,656.5 L241.5,656.7 L244.2,656.9 L246.8,657.1 L249.5,657.3 L252.1,657.5 L254.8,657.7 L257.4,657.9 L260.1,658.1 L262.7,658.3 L265.4,658.5 L268.0,658.6 L270.7,658.8 L273.3,658.9 L276.0,659.1 L278.6,659.2 L281.3,659.4 L283.9,659.5 L286.6,659.7 L289.2,659.8 L291.9,659.9 L294.5,660.0 L297.1,660.1 L299.8,660.2 L302.4,660.3 L305.1,660.4 L307.7,660.5 L310.4,660.6 L313.0,660.7 L315.7,660.8 L318.3,660.9 L321.0,660.9 L323.6,661.0 L326.3,661.1 L328.9,661.2 L331.6,661.2 L334.2,661.3 L336.9,661.3 L339.5,661.4 L342.2,661.5 L344.8,661.5 L347.5,661.6 L350.1,661.6 L352.8,661.6 L355.4,661.7 L358.1,661.7 L360.7,661.8 L363.3,661.8 L366.0,661.9 L368.6,661.9 L371.3,661.9 L373.9,662.0 L376.6,662.0 L379.2,662.1 L381.9,662.1 L384.5,662.1 L387.2,662.2 L389.8,662.2 L392.5,662.2 L395.1,662.2 L397.8,662.3 L400.4,662.3 L403.1,662.3 L405.7,662.3 L408.4,662.3 L411.0,662.3 L413.7,662.3 L416.3,662.4 L419.0,662.4 L421.6,662.4" fill="none" stroke="#ff0000" stroke-width="2.2" stroke-dasharray="7 4" stroke-linecap="butt" stroke-linejoin="round"/></g>
<rect x="140.2" y="536.70" width="268.8" height="140" rx="4" ry="4" fill="#fff" fill-opacity="0.8" stroke="#cccccc" stroke-opacity="0.8" stroke-width="3"/><line x1="149.7" y1="554.90" x2="196.8" y2="554.90" stroke="#0000ff" stroke-width="5.2" stroke-dasharray="19.4 8.5"/><line x1="149.7" y1="579.50" x2="196.8" y2="579.50" stroke="#ffa500" stroke-width="5.2" stroke-dasharray="33.9 8.1 5.3 8.3"/><line x1="149.7" y1="604.10" x2="196.8" y2="604.10" stroke="#000" stroke-width="2.1"/><rect x="150.1" y="620.60" width="48.6" height="16.7" fill="#008000" fill-opacity="0.3"/><line x1="149.7" y1="653.30" x2="196.8" y2="653.30" stroke="#ff0000" stroke-width="2.1" stroke-dasharray="7.4 3.2"/><text x="218.9" y="563.60" class="lg" textLength="55.0" lengthAdjust="spacingAndGlyphs">Fermi</text><text x="218.9" y="588.20" class="lg" textLength="144.5" lengthAdjust="spacingAndGlyphs">Frozen window</text><text x="218.9" y="612.80" class="lg" textLength="112.0" lengthAdjust="spacingAndGlyphs">DFT bands</text><text x="218.9" y="637.40" class="lg" textLength="128.8" lengthAdjust="spacingAndGlyphs">projectability</text><text x="218.9" y="662.00" class="lg" textLength="145.5" lengthAdjust="spacingAndGlyphs">Wannier bands</text>
<rect x="106.50" y="524.50" width="315.10" height="427.10" fill="none" stroke="#000" stroke-width="2.7"/><line x1="94.2" y1="951.50" x2="106.50" y2="951.50" stroke="#000" stroke-width="2.7"/><text x="65.00" y="962.00" class="ty" textLength="13.0" lengthAdjust="spacingAndGlyphs">6</text><rect x="46.5" y="953.10" width="17.8" height="1.5" fill="#000"/><line x1="94.2" y1="890.50" x2="106.50" y2="890.50" stroke="#000" stroke-width="2.7"/><text x="65.00" y="901.00" class="ty" textLength="13.0" lengthAdjust="spacingAndGlyphs">4</text><rect x="46.5" y="892.10" width="17.8" height="1.5" fill="#000"/><line x1="94.2" y1="829.50" x2="106.50" y2="829.50" stroke="#000" stroke-width="2.7"/><text x="65.00" y="840.00" class="ty" textLength="13.0" lengthAdjust="spacingAndGlyphs">2</text><rect x="46.5" y="831.10" width="17.8" height="1.5" fill="#000"/><line x1="94.2" y1="768.50" x2="106.50" y2="768.50" stroke="#000" stroke-width="2.7"/><text x="67.20" y="779.00" class="ty" textLength="13.0" lengthAdjust="spacingAndGlyphs">0</text><line x1="94.2" y1="707.50" x2="106.50" y2="707.50" stroke="#000" stroke-width="2.7"/><text x="67.20" y="718.00" class="ty" textLength="13.0" lengthAdjust="spacingAndGlyphs">2</text><line x1="94.2" y1="646.50" x2="106.50" y2="646.50" stroke="#000" stroke-width="2.7"/><text x="67.20" y="657.00" class="ty" textLength="13.0" lengthAdjust="spacingAndGlyphs">4</text><line x1="94.2" y1="585.50" x2="106.50" y2="585.50" stroke="#000" stroke-width="2.7"/><text x="67.20" y="596.00" class="ty" textLength="13.0" lengthAdjust="spacingAndGlyphs">6</text><line x1="94.2" y1="524.50" x2="106.50" y2="524.50" stroke="#000" stroke-width="2.7"/><text x="67.20" y="535.00" class="ty" textLength="13.0" lengthAdjust="spacingAndGlyphs">8</text><line x1="106.50" y1="951.60" x2="106.50" y2="963.70" stroke="#000" stroke-width="2.7"/><text x="105.50" y="995.20" class="tl" text-anchor="middle">R</text><line x1="421.60" y1="951.60" x2="421.60" y2="963.70" stroke="#000" stroke-width="2.7"/><text x="420.10" y="995.20" class="tl" text-anchor="middle" textLength="22.5" lengthAdjust="spacingAndGlyphs">M</text><text transform="translate(23.60,809.20) rotate(-90)" font-family="Liberation Serif" font-size="29.0" font-style="italic" textLength="20.6" lengthAdjust="spacingAndGlyphs">E</text><text transform="translate(23.60,788.80) rotate(-90)" font-family="Liberation Serif" font-size="29.0">-</text><text transform="translate(23.60,779.20) rotate(-90)" font-family="Liberation Serif" font-size="29.0" font-style="italic" textLength="20.3" lengthAdjust="spacingAndGlyphs">E</text><text transform="translate(27.90,759.20) rotate(-90)" font-family="Liberation Serif" font-size="21.0" font-style="italic" textLength="14.2" lengthAdjust="spacingAndGlyphs">F</text><text transform="translate(23.60,734.80) rotate(-90)" font-family="Liberation Serif" font-size="30.5" textLength="47.0" lengthAdjust="spacingAndGlyphs">(eV)</text><text x="2.2" y="534.50" class="tl" textLength="31" lengthAdjust="spacingAndGlyphs">(c)</text>
<g clip-path="url(#clipD)" fill="#1f77b4"><line x1="496.7" y1="770.00" x2="668.8" y2="770.00" stroke="#0000ff" stroke-width="5.2" stroke-dasharray="19.6 7.9"/><path d="M555.6 529.2m-3 0a3 3 0 1 0 6 0a3 3 0 1 0-6 0M577.0 536.2m-3 0a3 3 0 1 0 6 0a3 3 0 1 0-6 0M586.5 539.5m-3 0a3 3 0 1 0 6 0a3 3 0 1 0-6 0M596.9 547.1m-3 0a3 3 0 1 0 6 0a3 3 0 1 0-6 0M598.5 541.0m-3 0a3 3 0 1 0 6 0a3 3 0 1 0-6 0M603.6 536.2m-3 0a3 3 0 1 0 6 0a3 3 0 1 0-6 0M605.5 540.0m-3 0a3 3 0 1 0 6 0a3 3 0 1 0-6 0M604.5 529.6m-3 0a3 3 0 1 0 6 0a3 3 0 1 0-6 0M608.3 527.7m-3 0a3 3 0 1 0 6 0a3 3 0 1 0-6 0M611.2 530.0m-3 0a3 3 0 1 0 6 0a3 3 0 1 0-6 0M640.6 527.7m-3 0a3 3 0 1 0 6 0a3 3 0 1 0-6 0M618.8 536.8m-3 0a3 3 0 1 0 6 0a3 3 0 1 0-6 0M619.7 542.9m-3 0a3 3 0 1 0 6 0a3 3 0 1 0-6 0M623.5 543.8m-3 0a3 3 0 1 0 6 0a3 3 0 1 0-6 0M629.2 541.0m-3 0a3 3 0 1 0 6 0a3 3 0 1 0-6 0M633.0 542.9m-3 0a3 3 0 1 0 6 0a3 3 0 1 0-6 0M634.9 536.8m-3 0a3 3 0 1 0 6 0a3 3 0 1 0-6 0M636.8 540.0m-3 0a3 3 0 1 0 6 0a3 3 0 1 0-6 0M639.6 542.9m-3 0a3 3 0 1 0 6 0a3 3 0 1 0-6 0M637.7 550.5m-3 0a3 3 0 1 0 6 0a3 3 0 1 0-6 0M633.0 546.7m-3 0a3 3 0 1 0 6 0a3 3 0 1 0-6 0M634.9 550.5m-3 0a3 3 0 1 0 6 0a3 3 0 1 0-6 0M644.4 538.1m-3 0a3 3 0 1 0 6 0a3 3 0 1 0-6 0M647.2 540.0m-3 0a3 3 0 1 0 6 0a3 3 0 1 0-6 0M652.0 537.2m-3 0a3 3 0 1 0 6 0a3 3 0 1 0-6 0M653.9 542.9m-3 0a3 3 0 1 0 6 0a3 3 0 1 0-6 0M654.8 546.7m-3 0a3 3 0 1 0 6 0a3 3 0 1 0-6 0M620.7 552.4m-3 0a3 3 0 1 0 6 0a3 3 0 1 0-6 0M627.3 555.2m-3 0a3 3 0 1 0 6 0a3 3 0 1 0-6 0M613.1 559.0m-3 0a3 3 0 1 0 6 0a3 3 0 1 0-6 0M611.2 562.8m-3 0a3 3 0 1 0 6 0a3 3 0 1 0-6 0M610.2 566.6m-3 0a3 3 0 1 0 6 0a3 3 0 1 0-6 0M619.7 560.9m-3 0a3 3 0 1 0 6 0a3 3 0 1 0-6 0M621.6 565.7m-3 0a3 3 0 1 0 6 0a3 3 0 1 0-6 0M622.6 568.5m-3 0a3 3 0 1 0 6 0a3 3 0 1 0-6 0M633.0 566.6m-3 0a3 3 0 1 0 6 0a3 3 0 1 0-6 0M645.3 556.2m-3 0a3 3 0 1 0 6 0a3 3 0 1 0-6 0M646.3 560.0m-3 0a3 3 0 1 0 6 0a3 3 0 1 0-6 0M647.2 562.8m-3 0a3 3 0 1 0 6 0a3 3 0 1 0-6 0M652.0 561.9m-3 0a3 3 0 1 0 6 0a3 3 0 1 0-6 0M655.8 561.9m-3 0a3 3 0 1 0 6 0a3 3 0 1 0-6 0M659.6 561.9m-3 0a3 3 0 1 0 6 0a3 3 0 1 0-6 0M653.9 566.6m-3 0a3 3 0 1 0 6 0a3 3 0 1 0-6 0M657.7 567.5m-3 0a3 3 0 1 0 6 0a3 3 0 1 0-6 0M640.6 571.3m-3 0a3 3 0 1 0 6 0a3 3 0 1 0-6 0M638.7 573.2m-3 0a3 3 0 1 0 6 0a3 3 0 1 0-6 0M647.2 574.2m-3 0a3 3 0 1 0 6 0a3 3 0 1 0-6 0M650.1 577.0m-3 0a3 3 0 1 0 6 0a3 3 0 1 0-6 0M653.9 578.9m-3 0a3 3 0 1 0 6 0a3 3 0 1 0-6 0M657.7 578.0m-3 0a3 3 0 1 0 6 0a3 3 0 1 0-6 0M659.6 578.9m-3 0a3 3 0 1 0 6 0a3 3 0 1 0-6 0M620.7 585.6m-3 0a3 3 0 1 0 6 0a3 3 0 1 0-6 0M629.2 586.5m-3 0a3 3 0 1 0 6 0a3 3 0 1 0-6 0M633.0 586.5m-3 0a3 3 0 1 0 6 0a3 3 0 1 0-6 0M634.9 588.4m-3 0a3 3 0 1 0 6 0a3 3 0 1 0-6 0M638.7 585.6m-3 0a3 3 0 1 0 6 0a3 3 0 1 0-6 0M642.5 584.6m-3 0a3 3 0 1 0 6 0a3 3 0 1 0-6 0M646.3 582.7m-3 0a3 3 0 1 0 6 0a3 3 0 1 0-6 0M648.2 587.5m-3 0a3 3 0 1 0 6 0a3 3 0 1 0-6 0M652.0 584.6m-3 0a3 3 0 1 0 6 0a3 3 0 1 0-6 0M655.8 586.5m-3 0a3 3 0 1 0 6 0a3 3 0 1 0-6 0M659.6 590.3m-3 0a3 3 0 1 0 6 0a3 3 0 1 0-6 0M644.4 592.2m-3 0a3 3 0 1 0 6 0a3 3 0 1 0-6 0M650.1 594.1m-3 0a3 3 0 1 0 6 0a3 3 0 1 0-6 0M653.9 596.0m-3 0a3 3 0 1 0 6 0a3 3 0 1 0-6 0M657.7 597.9m-3 0a3 3 0 1 0 6 0a3 3 0 1 0-6 0M661.5 594.1m-3 0a3 3 0 1 0 6 0a3 3 0 1 0-6 0M620.7 595.1m-3 0a3 3 0 1 0 6 0a3 3 0 1 0-6 0M621.6 599.8m-3 0a3 3 0 1 0 6 0a3 3 0 1 0-6 0M634.9 597.0m-3 0a3 3 0 1 0 6 0a3 3 0 1 0-6 0M646.3 599.8m-3 0a3 3 0 1 0 6 0a3 3 0 1 0-6 0M620.7 598.9m-3 0a3 3 0 1 0 6 0a3 3 0 1 0-6 0M633.0 604.6m-3 0a3 3 0 1 0 6 0a3 3 0 1 0-6 0M632.0 608.4m-3 0a3 3 0 1 0 6 0a3 3 0 1 0-6 0M634.9 597.9m-3 0a3 3 0 1 0 6 0a3 3 0 1 0-6 0M635.8 631.2m-3 0a3 3 0 1 0 6 0a3 3 0 1 0-6 0M634.9 638.8m-3 0a3 3 0 1 0 6 0a3 3 0 1 0-6 0M637.7 637.8m-3 0a3 3 0 1 0 6 0a3 3 0 1 0-6 0M634.9 647.3m-3 0a3 3 0 1 0 6 0a3 3 0 1 0-6 0M635.8 651.1m-3 0a3 3 0 1 0 6 0a3 3 0 1 0-6 0M643.4 672.0m-3 0a3 3 0 1 0 6 0a3 3 0 1 0-6 0M642.5 674.8m-3 0a3 3 0 1 0 6 0a3 3 0 1 0-6 0M656.1 689.5m-3 0a3 3 0 1 0 6 0a3 3 0 1 0-6 0M651.0 694.6m-3 0a3 3 0 1 0 6 0a3 3 0 1 0-6 0M647.4 696.8m-3 0a3 3 0 1 0 6 0a3 3 0 1 0-6 0M644.5 699.0m-3 0a3 3 0 1 0 6 0a3 3 0 1 0-6 0M643.7 701.9m-3 0a3 3 0 1 0 6 0a3 3 0 1 0-6 0M659.8 700.5m-3 0a3 3 0 1 0 6 0a3 3 0 1 0-6 0M649.6 712.9m-3 0a3 3 0 1 0 6 0a3 3 0 1 0-6 0M653.2 724.6m-3 0a3 3 0 1 0 6 0a3 3 0 1 0-6 0M653.2 731.9m-3 0a3 3 0 1 0 6 0a3 3 0 1 0-6 0M650.2 540.0m-3 0a3 3 0 1 0 6 0a3 3 0 1 0-6 0M657.6 543.0m-3 0a3 3 0 1 0 6 0a3 3 0 1 0-6 0M657.5 546.0m-3 0a3 3 0 1 0 6 0a3 3 0 1 0-6 0M657.1 549.0m-3 0a3 3 0 1 0 6 0a3 3 0 1 0-6 0M653.4 552.0m-3 0a3 3 0 1 0 6 0a3 3 0 1 0-6 0M652.5 555.0m-3 0a3 3 0 1 0 6 0a3 3 0 1 0-6 0M653.0 558.0m-3 0a3 3 0 1 0 6 0a3 3 0 1 0-6 0M647.9 561.0m-3 0a3 3 0 1 0 6 0a3 3 0 1 0-6 0M658.6 564.0m-3 0a3 3 0 1 0 6 0a3 3 0 1 0-6 0M654.6 567.0m-3 0a3 3 0 1 0 6 0a3 3 0 1 0-6 0M652.5 570.0m-3 0a3 3 0 1 0 6 0a3 3 0 1 0-6 0M654.6 573.0m-3 0a3 3 0 1 0 6 0a3 3 0 1 0-6 0M656.9 576.0m-3 0a3 3 0 1 0 6 0a3 3 0 1 0-6 0M652.3 579.0m-3 0a3 3 0 1 0 6 0a3 3 0 1 0-6 0M658.4 582.0m-3 0a3 3 0 1 0 6 0a3 3 0 1 0-6 0M659.6 585.0m-3 0a3 3 0 1 0 6 0a3 3 0 1 0-6 0M652.3 588.0m-3 0a3 3 0 1 0 6 0a3 3 0 1 0-6 0M648.8 591.0m-3 0a3 3 0 1 0 6 0a3 3 0 1 0-6 0M657.4 594.0m-3 0a3 3 0 1 0 6 0a3 3 0 1 0-6 0M660.6 597.0m-3 0a3 3 0 1 0 6 0a3 3 0 1 0-6 0M648.9 600.0m-3 0a3 3 0 1 0 6 0a3 3 0 1 0-6 0M656.7 601.2m-3 0a3 3 0 1 0 6 0a3 3 0 1 0-6 0M658.3 602.4m-3 0a3 3 0 1 0 6 0a3 3 0 1 0-6 0M659.6 603.6m-3 0a3 3 0 1 0 6 0a3 3 0 1 0-6 0M648.6 604.8m-3 0a3 3 0 1 0 6 0a3 3 0 1 0-6 0M648.2 606.0m-3 0a3 3 0 1 0 6 0a3 3 0 1 0-6 0M660.5 607.2m-3 0a3 3 0 1 0 6 0a3 3 0 1 0-6 0M648.6 608.4m-3 0a3 3 0 1 0 6 0a3 3 0 1 0-6 0M649.4 609.6m-3 0a3 3 0 1 0 6 0a3 3 0 1 0-6 0M654.9 610.8m-3 0a3 3 0 1 0 6 0a3 3 0 1 0-6 0M653.2 612.0m-3 0a3 3 0 1 0 6 0a3 3 0 1 0-6 0M657.3 613.2m-3 0a3 3 0 1 0 6 0a3 3 0 1 0-6 0M649.7 614.4m-3 0a3 3 0 1 0 6 0a3 3 0 1 0-6 0M659.5 615.6m-3 0a3 3 0 1 0 6 0a3 3 0 1 0-6 0M650.1 616.8m-3 0a3 3 0 1 0 6 0a3 3 0 1 0-6 0M657.6 618.0m-3 0a3 3 0 1 0 6 0a3 3 0 1 0-6 0M648.1 619.2m-3 0a3 3 0 1 0 6 0a3 3 0 1 0-6 0M653.6 620.4m-3 0a3 3 0 1 0 6 0a3 3 0 1 0-6 0M647.7 621.6m-3 0a3 3 0 1 0 6 0a3 3 0 1 0-6 0M651.5 622.8m-3 0a3 3 0 1 0 6 0a3 3 0 1 0-6 0M651.5 624.0m-3 0a3 3 0 1 0 6 0a3 3 0 1 0-6 0M657.0 625.2m-3 0a3 3 0 1 0 6 0a3 3 0 1 0-6 0M653.4 626.4m-3 0a3 3 0 1 0 6 0a3 3 0 1 0-6 0M648.2 627.6m-3 0a3 3 0 1 0 6 0a3 3 0 1 0-6 0M660.6 628.8m-3 0a3 3 0 1 0 6 0a3 3 0 1 0-6 0M659.2 630.0m-3 0a3 3 0 1 0 6 0a3 3 0 1 0-6 0M659.6 631.2m-3 0a3 3 0 1 0 6 0a3 3 0 1 0-6 0M650.8 632.4m-3 0a3 3 0 1 0 6 0a3 3 0 1 0-6 0M652.7 633.6m-3 0a3 3 0 1 0 6 0a3 3 0 1 0-6 0M650.6 634.8m-3 0a3 3 0 1 0 6 0a3 3 0 1 0-6 0M649.2 636.0m-3 0a3 3 0 1 0 6 0a3 3 0 1 0-6 0M648.1 637.2m-3 0a3 3 0 1 0 6 0a3 3 0 1 0-6 0M654.2 638.4m-3 0a3 3 0 1 0 6 0a3 3 0 1 0-6 0M649.3 639.6m-3 0a3 3 0 1 0 6 0a3 3 0 1 0-6 0M650.0 640.8m-3 0a3 3 0 1 0 6 0a3 3 0 1 0-6 0M658.9 642.0m-3 0a3 3 0 1 0 6 0a3 3 0 1 0-6 0M654.0 643.2m-3 0a3 3 0 1 0 6 0a3 3 0 1 0-6 0M650.2 644.4m-3 0a3 3 0 1 0 6 0a3 3 0 1 0-6 0M656.4 645.6m-3 0a3 3 0 1 0 6 0a3 3 0 1 0-6 0M651.3 646.8m-3 0a3 3 0 1 0 6 0a3 3 0 1 0-6 0M654.6 648.0m-3 0a3 3 0 1 0 6 0a3 3 0 1 0-6 0M651.5 649.2m-3 0a3 3 0 1 0 6 0a3 3 0 1 0-6 0M654.5 650.4m-3 0a3 3 0 1 0 6 0a3 3 0 1 0-6 0M656.0 651.6m-3 0a3 3 0 1 0 6 0a3 3 0 1 0-6 0M654.8 652.8m-3 0a3 3 0 1 0 6 0a3 3 0 1 0-6 0M653.0 654.0m-3 0a3 3 0 1 0 6 0a3 3 0 1 0-6 0M658.0 655.2m-3 0a3 3 0 1 0 6 0a3 3 0 1 0-6 0M659.1 656.4m-3 0a3 3 0 1 0 6 0a3 3 0 1 0-6 0M650.3 657.6m-3 0a3 3 0 1 0 6 0a3 3 0 1 0-6 0M649.8 658.8m-3 0a3 3 0 1 0 6 0a3 3 0 1 0-6 0M649.6 660.0m-3 0a3 3 0 1 0 6 0a3 3 0 1 0-6 0M660.4 661.2m-3 0a3 3 0 1 0 6 0a3 3 0 1 0-6 0M660.0 662.4m-3 0a3 3 0 1 0 6 0a3 3 0 1 0-6 0M651.1 663.6m-3 0a3 3 0 1 0 6 0a3 3 0 1 0-6 0M660.3 664.8m-3 0a3 3 0 1 0 6 0a3 3 0 1 0-6 0M650.9 666.0m-3 0a3 3 0 1 0 6 0a3 3 0 1 0-6 0M654.6 667.2m-3 0a3 3 0 1 0 6 0a3 3 0 1 0-6 0M654.5 668.4m-3 0a3 3 0 1 0 6 0a3 3 0 1 0-6 0M659.6 669.6m-3 0a3 3 0 1 0 6 0a3 3 0 1 0-6 0M648.9 670.8m-3 0a3 3 0 1 0 6 0a3 3 0 1 0-6 0M652.3 672.0m-3 0a3 3 0 1 0 6 0a3 3 0 1 0-6 0M655.8 673.2m-3 0a3 3 0 1 0 6 0a3 3 0 1 0-6 0M649.3 674.4m-3 0a3 3 0 1 0 6 0a3 3 0 1 0-6 0M651.4 675.6m-3 0a3 3 0 1 0 6 0a3 3 0 1 0-6 0M654.2 676.8m-3 0a3 3 0 1 0 6 0a3 3 0 1 0-6 0M659.3 678.0m-3 0a3 3 0 1 0 6 0a3 3 0 1 0-6 0M657.8 679.2m-3 0a3 3 0 1 0 6 0a3 3 0 1 0-6 0M658.6 680.4m-3 0a3 3 0 1 0 6 0a3 3 0 1 0-6 0M657.8 681.6m-3 0a3 3 0 1 0 6 0a3 3 0 1 0-6 0M657.2 682.8m-3 0a3 3 0 1 0 6 0a3 3 0 1 0-6 0M658.9 684.0m-3 0a3 3 0 1 0 6 0a3 3 0 1 0-6 0M656.9 685.2m-3 0a3 3 0 1 0 6 0a3 3 0 1 0-6 0M657.5 686.4m-3 0a3 3 0 1 0 6 0a3 3 0 1 0-6 0M652.4 687.6m-3 0a3 3 0 1 0 6 0a3 3 0 1 0-6 0M650.8 688.8m-3 0a3 3 0 1 0 6 0a3 3 0 1 0-6 0M659.0 690.0m-3 0a3 3 0 1 0 6 0a3 3 0 1 0-6 0M655.0 691.3m-3 0a3 3 0 1 0 6 0a3 3 0 1 0-6 0M660.2 692.6m-3 0a3 3 0 1 0 6 0a3 3 0 1 0-6 0M658.0 693.9m-3 0a3 3 0 1 0 6 0a3 3 0 1 0-6 0M656.2 695.2m-3 0a3 3 0 1 0 6 0a3 3 0 1 0-6 0M660.3 696.5m-3 0a3 3 0 1 0 6 0a3 3 0 1 0-6 0M655.1 697.8m-3 0a3 3 0 1 0 6 0a3 3 0 1 0-6 0M657.5 699.1m-3 0a3 3 0 1 0 6 0a3 3 0 1 0-6 0M654.8 700.4m-3 0a3 3 0 1 0 6 0a3 3 0 1 0-6 0M660.5 701.7m-3 0a3 3 0 1 0 6 0a3 3 0 1 0-6 0M658.0 703.0m-3 0a3 3 0 1 0 6 0a3 3 0 1 0-6 0M659.5 704.3m-3 0a3 3 0 1 0 6 0a3 3 0 1 0-6 0M656.2 705.6m-3 0a3 3 0 1 0 6 0a3 3 0 1 0-6 0M659.5 706.9m-3 0a3 3 0 1 0 6 0a3 3 0 1 0-6 0M658.9 708.2m-3 0a3 3 0 1 0 6 0a3 3 0 1 0-6 0M658.5 709.5m-3 0a3 3 0 1 0 6 0a3 3 0 1 0-6 0M660.4 710.8m-3 0a3 3 0 1 0 6 0a3 3 0 1 0-6 0M657.3 712.1m-3 0a3 3 0 1 0 6 0a3 3 0 1 0-6 0M657.2 713.4m-3 0a3 3 0 1 0 6 0a3 3 0 1 0-6 0M658.9 714.7m-3 0a3 3 0 1 0 6 0a3 3 0 1 0-6 0M659.7 716.0m-3 0a3 3 0 1 0 6 0a3 3 0 1 0-6 0M656.8 717.3m-3 0a3 3 0 1 0 6 0a3 3 0 1 0-6 0M658.8 718.6m-3 0a3 3 0 1 0 6 0a3 3 0 1 0-6 0M656.1 719.9m-3 0a3 3 0 1 0 6 0a3 3 0 1 0-6 0M658.1 721.2m-3 0a3 3 0 1 0 6 0a3 3 0 1 0-6 0M659.4 722.5m-3 0a3 3 0 1 0 6 0a3 3 0 1 0-6 0M655.4 723.8m-3 0a3 3 0 1 0 6 0a3 3 0 1 0-6 0M659.2 725.1m-3 0a3 3 0 1 0 6 0a3 3 0 1 0-6 0M655.3 726.4m-3 0a3 3 0 1 0 6 0a3 3 0 1 0-6 0M660.5 727.7m-3 0a3 3 0 1 0 6 0a3 3 0 1 0-6 0M657.8 729.0m-3 0a3 3 0 1 0 6 0a3 3 0 1 0-6 0M657.5 730.3m-3 0a3 3 0 1 0 6 0a3 3 0 1 0-6 0M659.2 731.6m-3 0a3 3 0 1 0 6 0a3 3 0 1 0-6 0M658.2 732.9m-3 0a3 3 0 1 0 6 0a3 3 0 1 0-6 0M659.3 734.2m-3 0a3 3 0 1 0 6 0a3 3 0 1 0-6 0M655.9 735.5m-3 0a3 3 0 1 0 6 0a3 3 0 1 0-6 0M658.5 736.8m-3 0a3 3 0 1 0 6 0a3 3 0 1 0-6 0M658.4 738.1m-3 0a3 3 0 1 0 6 0a3 3 0 1 0-6 0M660.4 739.4m-3 0a3 3 0 1 0 6 0a3 3 0 1 0-6 0M655.9 740.7m-3 0a3 3 0 1 0 6 0a3 3 0 1 0-6 0M658.0 742.0m-3 0a3 3 0 1 0 6 0a3 3 0 1 0-6 0M658.9 743.3m-3 0a3 3 0 1 0 6 0a3 3 0 1 0-6 0M658.5 744.6m-3 0a3 3 0 1 0 6 0a3 3 0 1 0-6 0M656.3 745.9m-3 0a3 3 0 1 0 6 0a3 3 0 1 0-6 0M658.8 747.2m-3 0a3 3 0 1 0 6 0a3 3 0 1 0-6 0M657.0 748.5m-3 0a3 3 0 1 0 6 0a3 3 0 1 0-6 0M657.0 749.8m-3 0a3 3 0 1 0 6 0a3 3 0 1 0-6 0M660.1 751.1m-3 0a3 3 0 1 0 6 0a3 3 0 1 0-6 0M657.0 752.4m-3 0a3 3 0 1 0 6 0a3 3 0 1 0-6 0M658.2 753.7m-3 0a3 3 0 1 0 6 0a3 3 0 1 0-6 0M659.6 755.0m-3 0a3 3 0 1 0 6 0a3 3 0 1 0-6 0M659.4 756.3m-3 0a3 3 0 1 0 6 0a3 3 0 1 0-6 0M658.8 757.6m-3 0a3 3 0 1 0 6 0a3 3 0 1 0-6 0M659.9 758.9m-3 0a3 3 0 1 0 6 0a3 3 0 1 0-6 0M658.4 760.2m-3 0a3 3 0 1 0 6 0a3 3 0 1 0-6 0M659.1 761.5m-3 0a3 3 0 1 0 6 0a3 3 0 1 0-6 0M659.9 762.8m-3 0a3 3 0 1 0 6 0a3 3 0 1 0-6 0M659.4 764.1m-3 0a3 3 0 1 0 6 0a3 3 0 1 0-6 0M659.2 765.4m-3 0a3 3 0 1 0 6 0a3 3 0 1 0-6 0M658.3 766.7m-3 0a3 3 0 1 0 6 0a3 3 0 1 0-6 0M658.9 768.0m-3 0a3 3 0 1 0 6 0a3 3 0 1 0-6 0M658.3 769.3m-3 0a3 3 0 1 0 6 0a3 3 0 1 0-6 0M660.1 770.0m-3 0a3 3 0 1 0 6 0a3 3 0 1 0-6 0M659.0 770.9m-3 0a3 3 0 1 0 6 0a3 3 0 1 0-6 0M659.3 771.8m-3 0a3 3 0 1 0 6 0a3 3 0 1 0-6 0M660.1 772.7m-3 0a3 3 0 1 0 6 0a3 3 0 1 0-6 0M659.4 773.6m-3 0a3 3 0 1 0 6 0a3 3 0 1 0-6 0M658.9 774.5m-3 0a3 3 0 1 0 6 0a3 3 0 1 0-6 0M660.4 775.4m-3 0a3 3 0 1 0 6 0a3 3 0 1 0-6 0M659.0 776.3m-3 0a3 3 0 1 0 6 0a3 3 0 1 0-6 0M660.4 777.2m-3 0a3 3 0 1 0 6 0a3 3 0 1 0-6 0M660.2 778.1m-3 0a3 3 0 1 0 6 0a3 3 0 1 0-6 0M659.2 779.0m-3 0a3 3 0 1 0 6 0a3 3 0 1 0-6 0M660.0 779.9m-3 0a3 3 0 1 0 6 0a3 3 0 1 0-6 0M658.0 780.8m-3 0a3 3 0 1 0 6 0a3 3 0 1 0-6 0M659.1 781.7m-3 0a3 3 0 1 0 6 0a3 3 0 1 0-6 0M660.5 782.6m-3 0a3 3 0 1 0 6 0a3 3 0 1 0-6 0M659.6 783.5m-3 0a3 3 0 1 0 6 0a3 3 0 1 0-6 0M659.6 784.4m-3 0a3 3 0 1 0 6 0a3 3 0 1 0-6 0M659.9 785.3m-3 0a3 3 0 1 0 6 0a3 3 0 1 0-6 0M659.9 786.2m-3 0a3 3 0 1 0 6 0a3 3 0 1 0-6 0M659.7 787.1m-3 0a3 3 0 1 0 6 0a3 3 0 1 0-6 0M659.2 788.0m-3 0a3 3 0 1 0 6 0a3 3 0 1 0-6 0M658.5 788.9m-3 0a3 3 0 1 0 6 0a3 3 0 1 0-6 0M658.8 789.8m-3 0a3 3 0 1 0 6 0a3 3 0 1 0-6 0M658.8 790.7m-3 0a3 3 0 1 0 6 0a3 3 0 1 0-6 0M659.2 791.6m-3 0a3 3 0 1 0 6 0a3 3 0 1 0-6 0M660.9 792.5m-3 0a3 3 0 1 0 6 0a3 3 0 1 0-6 0M659.0 793.4m-3 0a3 3 0 1 0 6 0a3 3 0 1 0-6 0M659.3 794.3m-3 0a3 3 0 1 0 6 0a3 3 0 1 0-6 0M659.1 795.2m-3 0a3 3 0 1 0 6 0a3 3 0 1 0-6 0M659.7 796.1m-3 0a3 3 0 1 0 6 0a3 3 0 1 0-6 0M660.7 797.0m-3 0a3 3 0 1 0 6 0a3 3 0 1 0-6 0M660.6 797.9m-3 0a3 3 0 1 0 6 0a3 3 0 1 0-6 0M659.1 798.8m-3 0a3 3 0 1 0 6 0a3 3 0 1 0-6 0M658.8 799.7m-3 0a3 3 0 1 0 6 0a3 3 0 1 0-6 0M660.6 800.6m-3 0a3 3 0 1 0 6 0a3 3 0 1 0-6 0M659.5 801.5m-3 0a3 3 0 1 0 6 0a3 3 0 1 0-6 0M660.0 802.4m-3 0a3 3 0 1 0 6 0a3 3 0 1 0-6 0M658.3 803.3m-3 0a3 3 0 1 0 6 0a3 3 0 1 0-6 0M660.5 804.2m-3 0a3 3 0 1 0 6 0a3 3 0 1 0-6 0M659.0 805.1m-3 0a3 3 0 1 0 6 0a3 3 0 1 0-6 0M659.5 806.0m-3 0a3 3 0 1 0 6 0a3 3 0 1 0-6 0M658.7 806.9m-3 0a3 3 0 1 0 6 0a3 3 0 1 0-6 0M659.3 807.8m-3 0a3 3 0 1 0 6 0a3 3 0 1 0-6 0M660.4 808.7m-3 0a3 3 0 1 0 6 0a3 3 0 1 0-6 0M660.4 809.6m-3 0a3 3 0 1 0 6 0a3 3 0 1 0-6 0M659.4 810.5m-3 0a3 3 0 1 0 6 0a3 3 0 1 0-6 0M660.3 811.4m-3 0a3 3 0 1 0 6 0a3 3 0 1 0-6 0M659.4 812.3m-3 0a3 3 0 1 0 6 0a3 3 0 1 0-6 0M659.2 813.2m-3 0a3 3 0 1 0 6 0a3 3 0 1 0-6 0M659.7 814.1m-3 0a3 3 0 1 0 6 0a3 3 0 1 0-6 0M658.7 815.0m-3 0a3 3 0 1 0 6 0a3 3 0 1 0-6 0M659.0 815.9m-3 0a3 3 0 1 0 6 0a3 3 0 1 0-6 0M660.1 816.8m-3 0a3 3 0 1 0 6 0a3 3 0 1 0-6 0M660.3 817.7m-3 0a3 3 0 1 0 6 0a3 3 0 1 0-6 0M658.3 818.6m-3 0a3 3 0 1 0 6 0a3 3 0 1 0-6 0M660.2 819.5m-3 0a3 3 0 1 0 6 0a3 3 0 1 0-6 0M660.4 820.4m-3 0a3 3 0 1 0 6 0a3 3 0 1 0-6 0M659.4 821.3m-3 0a3 3 0 1 0 6 0a3 3 0 1 0-6 0M658.4 822.2m-3 0a3 3 0 1 0 6 0a3 3 0 1 0-6 0M660.1 823.1m-3 0a3 3 0 1 0 6 0a3 3 0 1 0-6 0M658.9 824.0m-3 0a3 3 0 1 0 6 0a3 3 0 1 0-6 0M660.0 824.9m-3 0a3 3 0 1 0 6 0a3 3 0 1 0-6 0M659.2 825.8m-3 0a3 3 0 1 0 6 0a3 3 0 1 0-6 0M659.9 826.7m-3 0a3 3 0 1 0 6 0a3 3 0 1 0-6 0M658.9 827.6m-3 0a3 3 0 1 0 6 0a3 3 0 1 0-6 0M659.5 828.5m-3 0a3 3 0 1 0 6 0a3 3 0 1 0-6 0M659.7 829.4m-3 0a3 3 0 1 0 6 0a3 3 0 1 0-6 0M659.9 830.3m-3 0a3 3 0 1 0 6 0a3 3 0 1 0-6 0M658.8 831.2m-3 0a3 3 0 1 0 6 0a3 3 0 1 0-6 0M660.8 832.1m-3 0a3 3 0 1 0 6 0a3 3 0 1 0-6 0M659.1 833.0m-3 0a3 3 0 1 0 6 0a3 3 0 1 0-6 0M659.1 833.9m-3 0a3 3 0 1 0 6 0a3 3 0 1 0-6 0M659.0 834.8m-3 0a3 3 0 1 0 6 0a3 3 0 1 0-6 0M658.5 835.7m-3 0a3 3 0 1 0 6 0a3 3 0 1 0-6 0M659.4 836.6m-3 0a3 3 0 1 0 6 0a3 3 0 1 0-6 0M660.3 837.5m-3 0a3 3 0 1 0 6 0a3 3 0 1 0-6 0M660.2 838.4m-3 0a3 3 0 1 0 6 0a3 3 0 1 0-6 0M658.9 839.3m-3 0a3 3 0 1 0 6 0a3 3 0 1 0-6 0M658.7 840.2m-3 0a3 3 0 1 0 6 0a3 3 0 1 0-6 0M659.2 841.1m-3 0a3 3 0 1 0 6 0a3 3 0 1 0-6 0M660.3 842.0m-3 0a3 3 0 1 0 6 0a3 3 0 1 0-6 0M659.6 842.9m-3 0a3 3 0 1 0 6 0a3 3 0 1 0-6 0M660.7 843.8m-3 0a3 3 0 1 0 6 0a3 3 0 1 0-6 0M660.0 844.7m-3 0a3 3 0 1 0 6 0a3 3 0 1 0-6 0M660.0 845.6m-3 0a3 3 0 1 0 6 0a3 3 0 1 0-6 0M660.3 846.5m-3 0a3 3 0 1 0 6 0a3 3 0 1 0-6 0M660.3 847.4m-3 0a3 3 0 1 0 6 0a3 3 0 1 0-6 0M659.3 848.3m-3 0a3 3 0 1 0 6 0a3 3 0 1 0-6 0M659.1 849.2m-3 0a3 3 0 1 0 6 0a3 3 0 1 0-6 0M659.5 850.1m-3 0a3 3 0 1 0 6 0a3 3 0 1 0-6 0M659.7 851.0m-3 0a3 3 0 1 0 6 0a3 3 0 1 0-6 0M658.8 851.9m-3 0a3 3 0 1 0 6 0a3 3 0 1 0-6 0M659.5 852.8m-3 0a3 3 0 1 0 6 0a3 3 0 1 0-6 0M660.0 853.7m-3 0a3 3 0 1 0 6 0a3 3 0 1 0-6 0M658.8 854.6m-3 0a3 3 0 1 0 6 0a3 3 0 1 0-6 0M658.8 855.5m-3 0a3 3 0 1 0 6 0a3 3 0 1 0-6 0M658.9 856.4m-3 0a3 3 0 1 0 6 0a3 3 0 1 0-6 0M659.2 857.3m-3 0a3 3 0 1 0 6 0a3 3 0 1 0-6 0M660.8 858.2m-3 0a3 3 0 1 0 6 0a3 3 0 1 0-6 0M658.6 859.1m-3 0a3 3 0 1 0 6 0a3 3 0 1 0-6 0M659.0 860.0m-3 0a3 3 0 1 0 6 0a3 3 0 1 0-6 0M658.9 860.9m-3 0a3 3 0 1 0 6 0a3 3 0 1 0-6 0M659.7 861.8m-3 0a3 3 0 1 0 6 0a3 3 0 1 0-6 0M658.6 862.7m-3 0a3 3 0 1 0 6 0a3 3 0 1 0-6 0M659.6 863.6m-3 0a3 3 0 1 0 6 0a3 3 0 1 0-6 0M658.9 864.5m-3 0a3 3 0 1 0 6 0a3 3 0 1 0-6 0M659.2 865.4m-3 0a3 3 0 1 0 6 0a3 3 0 1 0-6 0M660.4 866.3m-3 0a3 3 0 1 0 6 0a3 3 0 1 0-6 0M659.0 867.2m-3 0a3 3 0 1 0 6 0a3 3 0 1 0-6 0M660.0 868.1m-3 0a3 3 0 1 0 6 0a3 3 0 1 0-6 0M659.5 869.0m-3 0a3 3 0 1 0 6 0a3 3 0 1 0-6 0M659.6 869.9m-3 0a3 3 0 1 0 6 0a3 3 0 1 0-6 0M660.5 870.8m-3 0a3 3 0 1 0 6 0a3 3 0 1 0-6 0M659.0 871.7m-3 0a3 3 0 1 0 6 0a3 3 0 1 0-6 0M660.7 872.6m-3 0a3 3 0 1 0 6 0a3 3 0 1 0-6 0M660.7 873.5m-3 0a3 3 0 1 0 6 0a3 3 0 1 0-6 0M660.2 874.4m-3 0a3 3 0 1 0 6 0a3 3 0 1 0-6 0M658.8 875.3m-3 0a3 3 0 1 0 6 0a3 3 0 1 0-6 0M660.1 876.2m-3 0a3 3 0 1 0 6 0a3 3 0 1 0-6 0M660.0 877.1m-3 0a3 3 0 1 0 6 0a3 3 0 1 0-6 0M660.4 878.0m-3 0a3 3 0 1 0 6 0a3 3 0 1 0-6 0M659.2 878.9m-3 0a3 3 0 1 0 6 0a3 3 0 1 0-6 0M660.8 879.8m-3 0a3 3 0 1 0 6 0a3 3 0 1 0-6 0M660.6 880.7m-3 0a3 3 0 1 0 6 0a3 3 0 1 0-6 0M659.0 881.6m-3 0a3 3 0 1 0 6 0a3 3 0 1 0-6 0M659.4 882.5m-3 0a3 3 0 1 0 6 0a3 3 0 1 0-6 0M658.8 883.4m-3 0a3 3 0 1 0 6 0a3 3 0 1 0-6 0M660.5 884.3m-3 0a3 3 0 1 0 6 0a3 3 0 1 0-6 0M660.7 885.2m-3 0a3 3 0 1 0 6 0a3 3 0 1 0-6 0M660.9 886.1m-3 0a3 3 0 1 0 6 0a3 3 0 1 0-6 0M660.1 887.0m-3 0a3 3 0 1 0 6 0a3 3 0 1 0-6 0M660.2 887.9m-3 0a3 3 0 1 0 6 0a3 3 0 1 0-6 0M660.2 888.8m-3 0a3 3 0 1 0 6 0a3 3 0 1 0-6 0M660.0 889.7m-3 0a3 3 0 1 0 6 0a3 3 0 1 0-6 0M660.8 890.6m-3 0a3 3 0 1 0 6 0a3 3 0 1 0-6 0M660.1 891.5m-3 0a3 3 0 1 0 6 0a3 3 0 1 0-6 0M659.5 892.4m-3 0a3 3 0 1 0 6 0a3 3 0 1 0-6 0M659.9 893.3m-3 0a3 3 0 1 0 6 0a3 3 0 1 0-6 0M658.8 894.2m-3 0a3 3 0 1 0 6 0a3 3 0 1 0-6 0M660.3 895.1m-3 0a3 3 0 1 0 6 0a3 3 0 1 0-6 0M660.3 896.0m-3 0a3 3 0 1 0 6 0a3 3 0 1 0-6 0M659.7 896.9m-3 0a3 3 0 1 0 6 0a3 3 0 1 0-6 0M660.6 897.8m-3 0a3 3 0 1 0 6 0a3 3 0 1 0-6 0M660.4 898.7m-3 0a3 3 0 1 0 6 0a3 3 0 1 0-6 0M659.5 899.6m-3 0a3 3 0 1 0 6 0a3 3 0 1 0-6 0M659.0 900.5m-3 0a3 3 0 1 0 6 0a3 3 0 1 0-6 0M659.1 901.4m-3 0a3 3 0 1 0 6 0a3 3 0 1 0-6 0M659.2 902.3m-3 0a3 3 0 1 0 6 0a3 3 0 1 0-6 0M659.5 903.2m-3 0a3 3 0 1 0 6 0a3 3 0 1 0-6 0M659.8 904.1m-3 0a3 3 0 1 0 6 0a3 3 0 1 0-6 0M660.8 905.0m-3 0a3 3 0 1 0 6 0a3 3 0 1 0-6 0M659.5 905.9m-3 0a3 3 0 1 0 6 0a3 3 0 1 0-6 0M660.7 906.8m-3 0a3 3 0 1 0 6 0a3 3 0 1 0-6 0M660.3 907.7m-3 0a3 3 0 1 0 6 0a3 3 0 1 0-6 0M660.6 908.6m-3 0a3 3 0 1 0 6 0a3 3 0 1 0-6 0M659.7 909.5m-3 0a3 3 0 1 0 6 0a3 3 0 1 0-6 0M658.9 910.4m-3 0a3 3 0 1 0 6 0a3 3 0 1 0-6 0M660.5 911.3m-3 0a3 3 0 1 0 6 0a3 3 0 1 0-6 0M659.4 912.2m-3 0a3 3 0 1 0 6 0a3 3 0 1 0-6 0M659.2 913.1m-3 0a3 3 0 1 0 6 0a3 3 0 1 0-6 0M660.5 914.0m-3 0a3 3 0 1 0 6 0a3 3 0 1 0-6 0M660.3 914.9m-3 0a3 3 0 1 0 6 0a3 3 0 1 0-6 0M659.4 915.8m-3 0a3 3 0 1 0 6 0a3 3 0 1 0-6 0M659.5 916.7m-3 0a3 3 0 1 0 6 0a3 3 0 1 0-6 0M660.8 917.6m-3 0a3 3 0 1 0 6 0a3 3 0 1 0-6 0M659.5 918.5m-3 0a3 3 0 1 0 6 0a3 3 0 1 0-6 0M660.3 919.4m-3 0a3 3 0 1 0 6 0a3 3 0 1 0-6 0M659.3 920.3m-3 0a3 3 0 1 0 6 0a3 3 0 1 0-6 0M660.6 921.2m-3 0a3 3 0 1 0 6 0a3 3 0 1 0-6 0M659.3 922.1m-3 0a3 3 0 1 0 6 0a3 3 0 1 0-6 0M660.0 923.0m-3 0a3 3 0 1 0 6 0a3 3 0 1 0-6 0M659.1 923.9m-3 0a3 3 0 1 0 6 0a3 3 0 1 0-6 0M660.1 924.8m-3 0a3 3 0 1 0 6 0a3 3 0 1 0-6 0M660.6 925.7m-3 0a3 3 0 1 0 6 0a3 3 0 1 0-6 0M659.2 926.6m-3 0a3 3 0 1 0 6 0a3 3 0 1 0-6 0M659.6 927.5m-3 0a3 3 0 1 0 6 0a3 3 0 1 0-6 0M660.5 928.4m-3 0a3 3 0 1 0 6 0a3 3 0 1 0-6 0M660.2 929.3m-3 0a3 3 0 1 0 6 0a3 3 0 1 0-6 0M659.7 930.2m-3 0a3 3 0 1 0 6 0a3 3 0 1 0-6 0M660.2 931.1m-3 0a3 3 0 1 0 6 0a3 3 0 1 0-6 0M659.9 932.0m-3 0a3 3 0 1 0 6 0a3 3 0 1 0-6 0M660.7 932.9m-3 0a3 3 0 1 0 6 0a3 3 0 1 0-6 0M659.6 933.8m-3 0a3 3 0 1 0 6 0a3 3 0 1 0-6 0M660.5 934.7m-3 0a3 3 0 1 0 6 0a3 3 0 1 0-6 0M660.3 935.6m-3 0a3 3 0 1 0 6 0a3 3 0 1 0-6 0M660.4 936.5m-3 0a3 3 0 1 0 6 0a3 3 0 1 0-6 0M659.8 937.4m-3 0a3 3 0 1 0 6 0a3 3 0 1 0-6 0M660.4 938.3m-3 0a3 3 0 1 0 6 0a3 3 0 1 0-6 0M660.4 939.2m-3 0a3 3 0 1 0 6 0a3 3 0 1 0-6 0M659.8 940.1m-3 0a3 3 0 1 0 6 0a3 3 0 1 0-6 0M659.2 941.0m-3 0a3 3 0 1 0 6 0a3 3 0 1 0-6 0M660.8 941.9m-3 0a3 3 0 1 0 6 0a3 3 0 1 0-6 0M660.4 942.8m-3 0a3 3 0 1 0 6 0a3 3 0 1 0-6 0M659.6 943.7m-3 0a3 3 0 1 0 6 0a3 3 0 1 0-6 0M660.4 944.6m-3 0a3 3 0 1 0 6 0a3 3 0 1 0-6 0M659.7 945.5m-3 0a3 3 0 1 0 6 0a3 3 0 1 0-6 0M660.0 946.4m-3 0a3 3 0 1 0 6 0a3 3 0 1 0-6 0M660.7 947.3m-3 0a3 3 0 1 0 6 0a3 3 0 1 0-6 0M660.0 948.2m-3 0a3 3 0 1 0 6 0a3 3 0 1 0-6 0M659.7 949.1m-3 0a3 3 0 1 0 6 0a3 3 0 1 0-6 0M659.8 950.0m-3 0a3 3 0 1 0 6 0a3 3 0 1 0-6 0M659.4 950.9m-3 0a3 3 0 1 0 6 0a3 3 0 1 0-6 0M659.6 951.8m-3 0a3 3 0 1 0 6 0a3 3 0 1 0-6 0M659.7 952.7m-3 0a3 3 0 1 0 6 0a3 3 0 1 0-6 0M659.6 953.6m-3 0a3 3 0 1 0 6 0a3 3 0 1 0-6 0M659.4 954.5m-3 0a3 3 0 1 0 6 0a3 3 0 1 0-6 0"/></g>
<rect x="496.70" y="525.50" width="172.10" height="427.80" fill="none" stroke="#000" stroke-width="2.7"/><line x1="491.8" y1="953.36" x2="496.70" y2="953.36" stroke="#000" stroke-width="2.7"/><line x1="491.8" y1="892.24" x2="496.70" y2="892.24" stroke="#000" stroke-width="2.7"/><line x1="491.8" y1="831.12" x2="496.70" y2="831.12" stroke="#000" stroke-width="2.7"/><line x1="491.8" y1="770.00" x2="496.70" y2="770.00" stroke="#000" stroke-width="2.7"/><line x1="491.8" y1="708.88" x2="496.70" y2="708.88" stroke="#000" stroke-width="2.7"/><line x1="491.8" y1="647.76" x2="496.70" y2="647.76" stroke="#000" stroke-width="2.7"/><line x1="491.8" y1="586.64" x2="496.70" y2="586.64" stroke="#000" stroke-width="2.7"/><line x1="491.8" y1="525.52" x2="496.70" y2="525.52" stroke="#000" stroke-width="2.7"/><line x1="496.70" y1="953.30" x2="496.70" y2="958.60" stroke="#000" stroke-width="2.7"/><text x="477.80" y="983.60" class="ty" textLength="37.8" lengthAdjust="spacingAndGlyphs">0.0</text><line x1="578.60" y1="953.30" x2="578.60" y2="958.60" stroke="#000" stroke-width="2.7"/><text x="559.70" y="983.60" class="ty" textLength="37.8" lengthAdjust="spacingAndGlyphs">0.5</text><line x1="660.50" y1="953.30" x2="660.50" y2="958.60" stroke="#000" stroke-width="2.7"/><text x="640.80" y="983.60" class="ty" textLength="37.8" lengthAdjust="spacingAndGlyphs">1.0</text><text x="581.70" y="1012.00" class="tl" text-anchor="middle" textLength="160.5" lengthAdjust="spacingAndGlyphs">projectability</text><text x="436" y="533.50" class="tl" textLength="33" lengthAdjust="spacingAndGlyphs">(d)</text>
</svg></body></html>
